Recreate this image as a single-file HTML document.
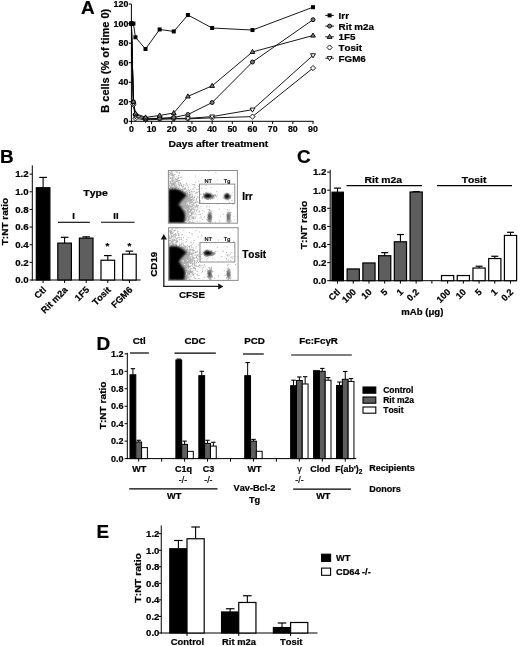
<!DOCTYPE html>
<html><head><meta charset="utf-8"><style>
html,body{margin:0;padding:0;background:#fff;}
svg{display:block;filter:grayscale(100%);}
text{font-family:"Liberation Sans",sans-serif;font-weight:bold;fill:#000;font-kerning:none;stroke:#000;stroke-width:0.22px;}
</style></head><body>
<svg width="520" height="646" viewBox="0 0 520 646">
<rect width="520" height="646" fill="#fff"/>
<text x="81.00" y="13.80" font-size="18.9" text-anchor="start">A</text>
<line x1="131.40" y1="4.06" x2="131.40" y2="121.80" stroke="#000" stroke-width="1"/>
<line x1="130.90" y1="121.30" x2="313.52" y2="121.30" stroke="#000" stroke-width="1"/>
<line x1="128.80" y1="121.30" x2="131.40" y2="121.30" stroke="#000" stroke-width="1"/>
<text x="128.30" y="124.40" font-size="8.8" text-anchor="end">0</text>
<line x1="128.80" y1="101.76" x2="131.40" y2="101.76" stroke="#000" stroke-width="1"/>
<text x="128.30" y="104.86" font-size="8.8" text-anchor="end">20</text>
<line x1="128.80" y1="82.22" x2="131.40" y2="82.22" stroke="#000" stroke-width="1"/>
<text x="128.30" y="85.32" font-size="8.8" text-anchor="end">40</text>
<line x1="128.80" y1="62.68" x2="131.40" y2="62.68" stroke="#000" stroke-width="1"/>
<text x="128.30" y="65.78" font-size="8.8" text-anchor="end">60</text>
<line x1="128.80" y1="43.14" x2="131.40" y2="43.14" stroke="#000" stroke-width="1"/>
<text x="128.30" y="46.24" font-size="8.8" text-anchor="end">80</text>
<line x1="128.80" y1="23.60" x2="131.40" y2="23.60" stroke="#000" stroke-width="1"/>
<text x="128.30" y="26.70" font-size="8.8" text-anchor="end">100</text>
<line x1="128.80" y1="4.06" x2="131.40" y2="4.06" stroke="#000" stroke-width="1"/>
<text x="128.30" y="7.16" font-size="8.8" text-anchor="end">120</text>
<line x1="131.40" y1="121.30" x2="131.40" y2="124.10" stroke="#000" stroke-width="1"/>
<text x="131.40" y="131.90" font-size="8.8" text-anchor="middle">0</text>
<line x1="151.58" y1="121.30" x2="151.58" y2="124.10" stroke="#000" stroke-width="1"/>
<text x="151.58" y="131.90" font-size="8.8" text-anchor="middle">10</text>
<line x1="171.76" y1="121.30" x2="171.76" y2="124.10" stroke="#000" stroke-width="1"/>
<text x="171.76" y="131.90" font-size="8.8" text-anchor="middle">20</text>
<line x1="191.94" y1="121.30" x2="191.94" y2="124.10" stroke="#000" stroke-width="1"/>
<text x="191.94" y="131.90" font-size="8.8" text-anchor="middle">30</text>
<line x1="212.12" y1="121.30" x2="212.12" y2="124.10" stroke="#000" stroke-width="1"/>
<text x="212.12" y="131.90" font-size="8.8" text-anchor="middle">40</text>
<line x1="232.30" y1="121.30" x2="232.30" y2="124.10" stroke="#000" stroke-width="1"/>
<text x="232.30" y="131.90" font-size="8.8" text-anchor="middle">50</text>
<line x1="252.48" y1="121.30" x2="252.48" y2="124.10" stroke="#000" stroke-width="1"/>
<text x="252.48" y="131.90" font-size="8.8" text-anchor="middle">60</text>
<line x1="272.66" y1="121.30" x2="272.66" y2="124.10" stroke="#000" stroke-width="1"/>
<text x="272.66" y="131.90" font-size="8.8" text-anchor="middle">70</text>
<line x1="292.84" y1="121.30" x2="292.84" y2="124.10" stroke="#000" stroke-width="1"/>
<text x="292.84" y="131.90" font-size="8.8" text-anchor="middle">80</text>
<line x1="313.02" y1="121.30" x2="313.02" y2="124.10" stroke="#000" stroke-width="1"/>
<text x="313.02" y="131.90" font-size="8.8" text-anchor="middle">90</text>
<text x="0.00" y="0" font-size="9.5" text-anchor="middle" transform="translate(218.40 147.00) scale(1.085 1)">Days after treatment</text>
<text x="0.00" y="0" font-size="10.2" text-anchor="middle" transform="translate(109.00 60.75) rotate(-90) scale(1.08 1)">B cells (% of time 0)</text>
<polyline points="131.40,23.60 133.42,104.69 135.44,118.37 145.53,119.83 159.65,119.35 173.78,118.86 187.90,118.86 212.12,117.88 252.48,116.61 313.02,68.05" fill="none" stroke="#000" stroke-width="0.9"/>
<polyline points="131.40,23.60 133.42,103.71 135.44,116.41 145.53,119.35 159.65,118.37 173.78,118.37 187.90,118.37 212.12,116.61 252.48,109.67 313.02,55.35" fill="none" stroke="#000" stroke-width="0.9"/>
<polyline points="131.40,23.60 133.42,101.76 135.44,114.46 145.53,118.37 159.65,118.37 173.78,117.39 187.90,114.56 212.12,102.54 252.48,62.00 313.02,19.69" fill="none" stroke="#000" stroke-width="0.9"/>
<polyline points="131.40,23.60 133.42,101.76 135.44,113.48 145.53,117.39 159.65,115.44 173.78,113.00 187.90,96.39 212.12,85.83 252.48,51.93 313.02,35.52" fill="none" stroke="#000" stroke-width="0.9"/>
<polyline points="131.40,23.60 133.42,23.60 135.44,37.28 145.53,49.00 159.65,29.46 173.78,31.42 187.90,15.00 212.12,28.00 252.48,30.05 313.02,7.19" fill="none" stroke="#000" stroke-width="0.9"/>
<polygon points="131.40,21.00 134.00,23.60 131.40,26.20 128.80,23.60" fill="#fff" stroke="#000" stroke-width="0.9"/>
<polygon points="133.42,102.09 136.02,104.69 133.42,107.29 130.82,104.69" fill="#fff" stroke="#000" stroke-width="0.9"/>
<polygon points="135.44,115.77 138.04,118.37 135.44,120.97 132.84,118.37" fill="#fff" stroke="#000" stroke-width="0.9"/>
<polygon points="145.53,117.23 148.13,119.83 145.53,122.43 142.93,119.83" fill="#fff" stroke="#000" stroke-width="0.9"/>
<polygon points="159.65,116.75 162.25,119.35 159.65,121.95 157.05,119.35" fill="#fff" stroke="#000" stroke-width="0.9"/>
<polygon points="173.78,116.26 176.38,118.86 173.78,121.46 171.18,118.86" fill="#fff" stroke="#000" stroke-width="0.9"/>
<polygon points="187.90,116.26 190.50,118.86 187.90,121.46 185.30,118.86" fill="#fff" stroke="#000" stroke-width="0.9"/>
<polygon points="212.12,115.28 214.72,117.88 212.12,120.48 209.52,117.88" fill="#fff" stroke="#000" stroke-width="0.9"/>
<polygon points="252.48,114.01 255.08,116.61 252.48,119.21 249.88,116.61" fill="#fff" stroke="#000" stroke-width="0.9"/>
<polygon points="313.02,65.45 315.62,68.05 313.02,70.65 310.42,68.05" fill="#fff" stroke="#000" stroke-width="0.9"/>
<polygon points="129.00,22.00 133.80,22.00 131.40,26.10" fill="#fff" stroke="#000" stroke-width="0.9"/>
<polygon points="131.02,102.11 135.82,102.11 133.42,106.21" fill="#fff" stroke="#000" stroke-width="0.9"/>
<polygon points="133.04,114.81 137.84,114.81 135.44,118.91" fill="#fff" stroke="#000" stroke-width="0.9"/>
<polygon points="143.13,117.75 147.93,117.75 145.53,121.85" fill="#fff" stroke="#000" stroke-width="0.9"/>
<polygon points="157.25,116.77 162.05,116.77 159.65,120.87" fill="#fff" stroke="#000" stroke-width="0.9"/>
<polygon points="171.38,116.77 176.18,116.77 173.78,120.87" fill="#fff" stroke="#000" stroke-width="0.9"/>
<polygon points="185.50,116.77 190.30,116.77 187.90,120.87" fill="#fff" stroke="#000" stroke-width="0.9"/>
<polygon points="209.72,115.01 214.52,115.01 212.12,119.11" fill="#fff" stroke="#000" stroke-width="0.9"/>
<polygon points="250.08,108.07 254.88,108.07 252.48,112.17" fill="#fff" stroke="#000" stroke-width="0.9"/>
<polygon points="310.62,53.75 315.42,53.75 313.02,57.85" fill="#fff" stroke="#000" stroke-width="0.9"/>
<circle cx="131.40" cy="23.60" r="2.0" fill="#777" stroke="#000" stroke-width="0.9"/>
<circle cx="133.42" cy="101.76" r="2.0" fill="#777" stroke="#000" stroke-width="0.9"/>
<circle cx="135.44" cy="114.46" r="2.0" fill="#777" stroke="#000" stroke-width="0.9"/>
<circle cx="145.53" cy="118.37" r="2.0" fill="#777" stroke="#000" stroke-width="0.9"/>
<circle cx="159.65" cy="118.37" r="2.0" fill="#777" stroke="#000" stroke-width="0.9"/>
<circle cx="173.78" cy="117.39" r="2.0" fill="#777" stroke="#000" stroke-width="0.9"/>
<circle cx="187.90" cy="114.56" r="2.0" fill="#777" stroke="#000" stroke-width="0.9"/>
<circle cx="212.12" cy="102.54" r="2.0" fill="#777" stroke="#000" stroke-width="0.9"/>
<circle cx="252.48" cy="62.00" r="2.0" fill="#777" stroke="#000" stroke-width="0.9"/>
<circle cx="313.02" cy="19.69" r="2.0" fill="#777" stroke="#000" stroke-width="0.9"/>
<polygon points="131.40,21.10 133.80,25.20 129.00,25.20" fill="#777" stroke="#000" stroke-width="0.9"/>
<polygon points="133.42,99.26 135.82,103.36 131.02,103.36" fill="#777" stroke="#000" stroke-width="0.9"/>
<polygon points="135.44,110.98 137.84,115.08 133.04,115.08" fill="#777" stroke="#000" stroke-width="0.9"/>
<polygon points="145.53,114.89 147.93,118.99 143.13,118.99" fill="#777" stroke="#000" stroke-width="0.9"/>
<polygon points="159.65,112.94 162.05,117.04 157.25,117.04" fill="#777" stroke="#000" stroke-width="0.9"/>
<polygon points="173.78,110.50 176.18,114.60 171.38,114.60" fill="#777" stroke="#000" stroke-width="0.9"/>
<polygon points="187.90,93.89 190.30,97.99 185.50,97.99" fill="#777" stroke="#000" stroke-width="0.9"/>
<polygon points="212.12,83.33 214.52,87.43 209.72,87.43" fill="#777" stroke="#000" stroke-width="0.9"/>
<polygon points="252.48,49.43 254.88,53.53 250.08,53.53" fill="#777" stroke="#000" stroke-width="0.9"/>
<polygon points="313.02,33.02 315.42,37.12 310.62,37.12" fill="#777" stroke="#000" stroke-width="0.9"/>
<rect x="129.40" y="21.60" width="4.00" height="4.00" fill="#000"/>
<rect x="131.42" y="21.60" width="4.00" height="4.00" fill="#000"/>
<rect x="133.44" y="35.28" width="4.00" height="4.00" fill="#000"/>
<rect x="143.53" y="47.00" width="4.00" height="4.00" fill="#000"/>
<rect x="157.65" y="27.46" width="4.00" height="4.00" fill="#000"/>
<rect x="171.78" y="29.42" width="4.00" height="4.00" fill="#000"/>
<rect x="185.90" y="13.00" width="4.00" height="4.00" fill="#000"/>
<rect x="210.12" y="26.00" width="4.00" height="4.00" fill="#000"/>
<rect x="250.48" y="28.05" width="4.00" height="4.00" fill="#000"/>
<rect x="311.02" y="5.19" width="4.00" height="4.00" fill="#000"/>
<line x1="325.30" y1="15.40" x2="333.90" y2="15.40" stroke="#000" stroke-width="0.9"/>
<rect x="327.60" y="13.40" width="4.00" height="4.00" fill="#000"/>
<text x="338.60" y="18.80" font-size="9.8" text-anchor="start">Irr</text>
<line x1="325.30" y1="26.10" x2="333.90" y2="26.10" stroke="#000" stroke-width="0.9"/>
<circle cx="329.60" cy="26.10" r="2.0" fill="#777" stroke="#000" stroke-width="0.9"/>
<text x="338.60" y="29.50" font-size="9.8" text-anchor="start">Rit m2a</text>
<line x1="325.30" y1="36.80" x2="333.90" y2="36.80" stroke="#000" stroke-width="0.9"/>
<polygon points="329.60,34.30 332.00,38.40 327.20,38.40" fill="#777" stroke="#000" stroke-width="0.9"/>
<text x="338.60" y="40.20" font-size="9.8" text-anchor="start">1F5</text>
<polygon points="329.60,44.90 332.20,47.50 329.60,50.10 327.00,47.50" fill="#fff" stroke="#000" stroke-width="0.9"/>
<text x="338.60" y="50.90" font-size="9.8" text-anchor="start">Tosit</text>
<line x1="325.30" y1="58.20" x2="333.90" y2="58.20" stroke="#000" stroke-width="0.9"/>
<polygon points="327.20,56.60 332.00,56.60 329.60,60.70" fill="#fff" stroke="#000" stroke-width="0.9"/>
<text x="338.60" y="61.60" font-size="9.8" text-anchor="start">FGM6</text>
<text x="0.00" y="162.90" font-size="18.9" text-anchor="start">B</text>
<line x1="32.30" y1="165.40" x2="32.30" y2="280.50" stroke="#000" stroke-width="1"/>
<line x1="31.80" y1="280.00" x2="140.60" y2="280.00" stroke="#000" stroke-width="1"/>
<line x1="29.60" y1="280.00" x2="32.30" y2="280.00" stroke="#000" stroke-width="1"/>
<text x="28.60" y="283.30" font-size="9.7" text-anchor="end">0.0</text>
<line x1="29.60" y1="262.36" x2="32.30" y2="262.36" stroke="#000" stroke-width="1"/>
<text x="28.60" y="265.66" font-size="9.7" text-anchor="end">0.2</text>
<line x1="29.60" y1="244.72" x2="32.30" y2="244.72" stroke="#000" stroke-width="1"/>
<text x="28.60" y="248.02" font-size="9.7" text-anchor="end">0.4</text>
<line x1="29.60" y1="227.08" x2="32.30" y2="227.08" stroke="#000" stroke-width="1"/>
<text x="28.60" y="230.38" font-size="9.7" text-anchor="end">0.6</text>
<line x1="29.60" y1="209.44" x2="32.30" y2="209.44" stroke="#000" stroke-width="1"/>
<text x="28.60" y="212.74" font-size="9.7" text-anchor="end">0.8</text>
<line x1="29.60" y1="191.80" x2="32.30" y2="191.80" stroke="#000" stroke-width="1"/>
<text x="28.60" y="195.10" font-size="9.7" text-anchor="end">1.0</text>
<line x1="29.60" y1="174.16" x2="32.30" y2="174.16" stroke="#000" stroke-width="1"/>
<text x="28.60" y="177.46" font-size="9.7" text-anchor="end">1.2</text>
<text x="0.00" y="0" font-size="9.2" text-anchor="middle" transform="translate(7.60 221.60) rotate(-90) scale(1.09 1)">T:NT ratio</text>
<line x1="43.10" y1="187.74" x2="43.10" y2="177.42" stroke="#000" stroke-width="1.1"/>
<line x1="39.30" y1="177.42" x2="46.90" y2="177.42" stroke="#000" stroke-width="1.2"/>
<rect x="36.30" y="187.74" width="13.60" height="92.26" fill="#000" stroke="#000" stroke-width="1.2"/>
<line x1="43.10" y1="280.00" x2="43.10" y2="283.00" stroke="#000" stroke-width="1"/>
<line x1="64.60" y1="243.13" x2="64.60" y2="237.31" stroke="#000" stroke-width="1.1"/>
<line x1="60.80" y1="237.31" x2="68.40" y2="237.31" stroke="#000" stroke-width="1.2"/>
<rect x="57.80" y="243.13" width="13.60" height="36.87" fill="#5e5e5e" stroke="#000" stroke-width="1.2"/>
<line x1="64.60" y1="280.00" x2="64.60" y2="283.00" stroke="#000" stroke-width="1"/>
<line x1="86.20" y1="238.11" x2="86.20" y2="236.87" stroke="#000" stroke-width="1.1"/>
<line x1="82.40" y1="236.87" x2="90.00" y2="236.87" stroke="#000" stroke-width="1.2"/>
<rect x="79.40" y="238.11" width="13.60" height="41.89" fill="#5e5e5e" stroke="#000" stroke-width="1.2"/>
<line x1="86.20" y1="280.00" x2="86.20" y2="283.00" stroke="#000" stroke-width="1"/>
<line x1="107.80" y1="260.24" x2="107.80" y2="255.57" stroke="#000" stroke-width="1.1"/>
<line x1="104.00" y1="255.57" x2="111.60" y2="255.57" stroke="#000" stroke-width="1.2"/>
<rect x="101.00" y="260.24" width="13.60" height="19.76" fill="#fff" stroke="#000" stroke-width="1.2"/>
<line x1="107.80" y1="280.00" x2="107.80" y2="283.00" stroke="#000" stroke-width="1"/>
<line x1="129.40" y1="254.16" x2="129.40" y2="251.16" stroke="#000" stroke-width="1.1"/>
<line x1="125.60" y1="251.16" x2="133.20" y2="251.16" stroke="#000" stroke-width="1.2"/>
<rect x="122.60" y="254.16" width="13.60" height="25.84" fill="#fff" stroke="#000" stroke-width="1.2"/>
<line x1="129.40" y1="280.00" x2="129.40" y2="283.00" stroke="#000" stroke-width="1"/>
<text x="0.00" y="0" font-size="9.2" text-anchor="end" transform="translate(46.70 290.50) rotate(-45)">Ctl</text>
<text x="0.00" y="0" font-size="9.2" text-anchor="end" transform="translate(68.20 290.50) rotate(-45)">Rit m2a</text>
<text x="0.00" y="0" font-size="9.2" text-anchor="end" transform="translate(89.80 290.50) rotate(-45)">1F5</text>
<text x="0.00" y="0" font-size="9.2" text-anchor="end" transform="translate(111.40 290.50) rotate(-45)">Tosit</text>
<text x="0.00" y="0" font-size="9.2" text-anchor="end" transform="translate(133.00 290.50) rotate(-45)">FGM6</text>
<text x="0.00" y="0" font-size="9.4" text-anchor="middle" transform="translate(95.60 195.80) scale(1.12 1)">Type</text>
<text x="73.60" y="218.60" font-size="9.5" text-anchor="middle">I</text>
<line x1="58.00" y1="222.30" x2="89.80" y2="222.30" stroke="#000" stroke-width="1.1"/>
<text x="116.00" y="218.60" font-size="9.5" text-anchor="middle">II</text>
<line x1="101.00" y1="222.30" x2="134.60" y2="222.30" stroke="#000" stroke-width="1.1"/>
<text x="107.40" y="249.40" font-size="9.8" text-anchor="middle">*</text>
<text x="129.30" y="249.40" font-size="9.8" text-anchor="middle">*</text>
<defs><filter id="bl1" x="-20%" y="-20%" width="140%" height="140%"><feGaussianBlur stdDeviation="0.9"/></filter><filter id="bl2" x="-20%" y="-20%" width="140%" height="140%"><feGaussianBlur stdDeviation="0.3"/></filter></defs>
<clipPath id="cp170"><rect x="168.4" y="170.5" width="69.0" height="52.69999999999999"/></clipPath>
<g clip-path="url(#cp170)">
<g filter="url(#bl1)">
<polygon points="168.4,189.3 173.0,188.7 177.0,189.0 180.5,190.6 184.0,192.8 186.8,195.2 184.5,197.5 182.0,200.2 180.0,202.8 178.8,204.5 168.4,205.5" fill="#000"/>
<polygon points="168.4,204.5 178.5,204.3 180.5,206.2 182.0,208.8 184.5,212.0 185.2,216.0 184.8,220.0 184.3,223.2 168.4,223.2" fill="#000"/>
</g>
<g filter="url(#bl1)"><ellipse cx="207.6" cy="195.8" rx="3.6" ry="2.3" fill="#000"/><ellipse cx="211.5" cy="196.2" rx="2.5" ry="1.3" fill="#000" fill-opacity="0.5"/>
<ellipse cx="227.0" cy="196.2" rx="2.6" ry="2.5" fill="#000"/>
<ellipse cx="209.5" cy="216.8" rx="1.3" ry="3.6" fill="#000" fill-opacity="0.7"/><ellipse cx="228.3" cy="216.8" rx="1.1" ry="3.6" fill="#000" fill-opacity="0.65"/>
</g>
<path d="M177.2 199.6h.9v.9h-.9zM177.4 195.4h.9v.9h-.9zM172.5 195.9h.9v.9h-.9zM186.8 199.1h.9v.9h-.9zM186.3 198.2h.9v.9h-.9zM181.8 197.9h.9v.9h-.9zM167.3 201.3h.9v.9h-.9zM182.5 199.5h.9v.9h-.9zM167.2 188.3h.9v.9h-.9zM172.8 194.7h.9v.9h-.9zM181.1 196.8h.9v.9h-.9zM182.6 193.8h.9v.9h-.9zM181.2 199.0h.9v.9h-.9zM174.4 205.6h.9v.9h-.9zM182.9 203.0h.9v.9h-.9zM174.7 193.3h.9v.9h-.9zM176.6 196.5h.9v.9h-.9zM183.4 198.2h.9v.9h-.9zM175.9 192.2h.9v.9h-.9zM175.4 203.1h.9v.9h-.9zM173.3 198.2h.9v.9h-.9zM182.0 189.6h.9v.9h-.9zM179.3 203.5h.9v.9h-.9zM164.9 195.4h.9v.9h-.9zM178.3 192.9h.9v.9h-.9zM182.5 196.7h.9v.9h-.9zM168.7 201.1h.9v.9h-.9zM183.7 201.7h.9v.9h-.9zM189.1 198.8h.9v.9h-.9zM179.8 190.5h.9v.9h-.9zM183.3 193.9h.9v.9h-.9zM175.8 190.7h.9v.9h-.9zM172.2 194.3h.9v.9h-.9zM188.0 186.8h.9v.9h-.9zM168.8 198.2h.9v.9h-.9zM189.1 199.9h.9v.9h-.9zM165.7 184.4h.9v.9h-.9zM181.5 193.3h.9v.9h-.9zM171.2 201.9h.9v.9h-.9zM186.7 197.8h.9v.9h-.9zM180.7 199.2h.9v.9h-.9zM190.2 200.1h.9v.9h-.9zM182.6 199.7h.9v.9h-.9zM168.0 203.4h.9v.9h-.9zM185.7 199.6h.9v.9h-.9zM165.2 193.8h.9v.9h-.9zM184.9 187.9h.9v.9h-.9zM177.7 202.1h.9v.9h-.9zM169.8 205.1h.9v.9h-.9zM182.9 196.2h.9v.9h-.9zM181.3 200.2h.9v.9h-.9zM179.8 202.7h.9v.9h-.9zM174.4 194.9h.9v.9h-.9zM186.3 197.1h.9v.9h-.9zM172.8 201.7h.9v.9h-.9zM189.3 194.8h.9v.9h-.9zM169.3 196.3h.9v.9h-.9zM178.0 195.5h.9v.9h-.9zM188.8 191.9h.9v.9h-.9zM187.8 190.7h.9v.9h-.9zM173.5 200.2h.9v.9h-.9zM186.9 201.3h.9v.9h-.9zM181.4 197.7h.9v.9h-.9zM180.1 199.9h.9v.9h-.9zM177.8 198.4h.9v.9h-.9zM183.0 197.0h.9v.9h-.9zM184.3 199.8h.9v.9h-.9zM193.1 198.6h.9v.9h-.9zM176.0 195.1h.9v.9h-.9zM178.9 201.6h.9v.9h-.9zM176.6 198.9h.9v.9h-.9zM191.9 184.2h.9v.9h-.9zM171.1 198.2h.9v.9h-.9zM181.8 198.2h.9v.9h-.9zM176.0 200.3h.9v.9h-.9zM181.0 194.4h.9v.9h-.9zM196.0 198.8h.9v.9h-.9zM175.1 196.5h.9v.9h-.9zM177.4 196.7h.9v.9h-.9zM159.9 194.6h.9v.9h-.9zM186.1 191.2h.9v.9h-.9zM178.5 201.8h.9v.9h-.9zM185.0 204.5h.9v.9h-.9zM167.1 195.2h.9v.9h-.9zM176.6 200.1h.9v.9h-.9zM186.6 183.6h.9v.9h-.9zM186.6 189.8h.9v.9h-.9zM183.8 189.5h.9v.9h-.9zM180.2 203.0h.9v.9h-.9zM178.0 198.0h.9v.9h-.9zM184.6 197.7h.9v.9h-.9zM178.4 204.7h.9v.9h-.9zM186.3 195.5h.9v.9h-.9zM198.2 191.3h.9v.9h-.9zM185.4 195.7h.9v.9h-.9zM179.9 200.5h.9v.9h-.9zM180.6 200.2h.9v.9h-.9zM168.3 189.5h.9v.9h-.9zM183.3 192.2h.9v.9h-.9zM171.8 189.6h.9v.9h-.9zM187.9 200.7h.9v.9h-.9zM189.3 192.3h.9v.9h-.9zM179.0 191.3h.9v.9h-.9zM184.4 204.9h.9v.9h-.9zM172.8 204.8h.9v.9h-.9zM185.9 196.1h.9v.9h-.9zM165.2 204.0h.9v.9h-.9zM178.3 194.0h.9v.9h-.9zM181.8 199.0h.9v.9h-.9zM189.5 191.9h.9v.9h-.9zM187.0 204.4h.9v.9h-.9zM189.2 196.1h.9v.9h-.9zM173.8 202.1h.9v.9h-.9zM179.8 197.6h.9v.9h-.9zM189.0 195.7h.9v.9h-.9zM162.9 195.1h.9v.9h-.9zM166.0 201.1h.9v.9h-.9zM181.2 193.9h.9v.9h-.9zM178.9 201.2h.9v.9h-.9zM179.6 203.6h.9v.9h-.9zM178.6 202.2h.9v.9h-.9zM189.4 205.0h.9v.9h-.9zM174.3 201.4h.9v.9h-.9zM165.9 191.6h.9v.9h-.9zM165.3 202.3h.9v.9h-.9zM170.4 196.9h.9v.9h-.9zM177.7 196.9h.9v.9h-.9zM174.9 198.2h.9v.9h-.9zM191.5 197.2h.9v.9h-.9zM182.7 202.0h.9v.9h-.9zM177.6 190.7h.9v.9h-.9zM175.1 202.4h.9v.9h-.9zM167.5 194.0h.9v.9h-.9zM186.1 201.0h.9v.9h-.9zM179.1 201.0h.9v.9h-.9zM180.2 191.1h.9v.9h-.9zM168.1 193.8h.9v.9h-.9zM185.5 194.2h.9v.9h-.9zM172.7 193.1h.9v.9h-.9zM168.3 196.4h.9v.9h-.9zM170.7 198.8h.9v.9h-.9zM162.5 198.6h.9v.9h-.9zM174.5 187.3h.9v.9h-.9zM184.1 195.6h.9v.9h-.9zM163.4 192.6h.9v.9h-.9zM181.0 194.7h.9v.9h-.9zM184.5 200.7h.9v.9h-.9zM183.7 198.6h.9v.9h-.9zM188.3 200.3h.9v.9h-.9zM182.2 186.6h.9v.9h-.9zM185.3 203.5h.9v.9h-.9zM176.9 194.7h.9v.9h-.9zM192.6 188.2h.9v.9h-.9zM182.3 209.1h.9v.9h-.9zM172.5 200.4h.9v.9h-.9zM192.2 196.4h.9v.9h-.9zM182.9 201.5h.9v.9h-.9zM172.7 196.6h.9v.9h-.9zM181.0 201.1h.9v.9h-.9zM178.8 196.0h.9v.9h-.9zM171.9 195.2h.9v.9h-.9zM185.2 197.5h.9v.9h-.9zM173.0 192.8h.9v.9h-.9zM197.7 202.7h.9v.9h-.9zM183.5 184.0h.9v.9h-.9zM183.4 199.4h.9v.9h-.9zM190.8 199.1h.9v.9h-.9zM178.5 199.6h.9v.9h-.9zM165.4 202.2h.9v.9h-.9zM181.3 193.5h.9v.9h-.9zM188.3 206.0h.9v.9h-.9zM169.2 193.7h.9v.9h-.9zM181.0 197.9h.9v.9h-.9zM176.2 192.1h.9v.9h-.9zM193.8 202.2h.9v.9h-.9zM170.6 190.3h.9v.9h-.9zM190.9 201.9h.9v.9h-.9zM191.7 201.1h.9v.9h-.9zM172.9 198.3h.9v.9h-.9zM163.9 193.3h.9v.9h-.9zM178.6 199.6h.9v.9h-.9zM173.9 196.4h.9v.9h-.9zM182.2 198.9h.9v.9h-.9zM183.5 198.0h.9v.9h-.9zM176.7 200.9h.9v.9h-.9zM179.3 192.9h.9v.9h-.9zM174.6 197.0h.9v.9h-.9zM178.2 197.8h.9v.9h-.9zM179.0 197.9h.9v.9h-.9zM178.1 190.7h.9v.9h-.9zM181.9 202.3h.9v.9h-.9zM182.0 196.1h.9v.9h-.9zM182.1 192.2h.9v.9h-.9zM165.7 197.3h.9v.9h-.9zM172.5 200.7h.9v.9h-.9zM171.4 183.9h.9v.9h-.9zM171.7 204.9h.9v.9h-.9zM176.3 190.2h.9v.9h-.9zM173.7 199.6h.9v.9h-.9zM182.5 197.9h.9v.9h-.9zM189.4 200.5h.9v.9h-.9zM178.9 200.0h.9v.9h-.9zM190.6 201.9h.9v.9h-.9zM186.2 191.6h.9v.9h-.9zM178.0 200.6h.9v.9h-.9zM176.9 202.3h.9v.9h-.9zM183.2 201.5h.9v.9h-.9zM177.5 209.7h.9v.9h-.9zM187.7 195.9h.9v.9h-.9zM179.6 210.0h.9v.9h-.9zM176.6 201.4h.9v.9h-.9zM185.9 197.0h.9v.9h-.9zM170.8 197.9h.9v.9h-.9zM181.5 202.6h.9v.9h-.9zM184.5 197.1h.9v.9h-.9zM185.0 199.7h.9v.9h-.9zM180.4 197.3h.9v.9h-.9zM177.3 200.4h.9v.9h-.9zM171.6 193.9h.9v.9h-.9zM179.0 189.7h.9v.9h-.9zM175.9 187.0h.9v.9h-.9zM174.2 199.8h.9v.9h-.9zM183.0 196.7h.9v.9h-.9zM177.4 189.9h.9v.9h-.9zM191.8 199.6h.9v.9h-.9zM186.7 192.6h.9v.9h-.9zM177.7 187.9h.9v.9h-.9zM184.5 201.7h.9v.9h-.9zM165.7 196.7h.9v.9h-.9zM183.4 188.2h.9v.9h-.9zM166.2 191.7h.9v.9h-.9zM174.6 190.0h.9v.9h-.9zM179.2 198.2h.9v.9h-.9zM183.4 200.5h.9v.9h-.9zM189.5 202.8h.9v.9h-.9zM169.8 194.5h.9v.9h-.9zM171.6 191.6h.9v.9h-.9zM178.4 197.0h.9v.9h-.9zM182.4 189.1h.9v.9h-.9zM170.3 196.9h.9v.9h-.9zM177.6 195.4h.9v.9h-.9zM178.6 193.2h.9v.9h-.9zM183.9 198.8h.9v.9h-.9zM178.4 193.6h.9v.9h-.9zM177.8 183.4h.9v.9h-.9zM172.1 197.2h.9v.9h-.9zM168.5 198.0h.9v.9h-.9zM180.0 190.1h.9v.9h-.9zM177.2 195.4h.9v.9h-.9zM182.2 200.1h.9v.9h-.9zM178.7 192.7h.9v.9h-.9zM178.0 196.7h.9v.9h-.9zM184.1 198.5h.9v.9h-.9zM173.9 190.2h.9v.9h-.9zM176.4 193.3h.9v.9h-.9zM171.2 196.4h.9v.9h-.9zM175.6 197.5h.9v.9h-.9zM182.7 194.9h.9v.9h-.9zM195.3 195.4h.9v.9h-.9zM186.7 197.6h.9v.9h-.9zM186.8 185.1h.9v.9h-.9zM173.7 198.2h.9v.9h-.9zM183.2 208.7h.9v.9h-.9zM181.3 203.4h.9v.9h-.9zM184.4 201.7h.9v.9h-.9zM182.6 196.2h.9v.9h-.9zM182.6 191.6h.9v.9h-.9zM187.3 191.9h.9v.9h-.9zM180.7 207.6h.9v.9h-.9zM177.4 197.1h.9v.9h-.9zM187.1 197.1h.9v.9h-.9zM173.3 198.3h.9v.9h-.9zM183.1 200.6h.9v.9h-.9zM173.6 205.8h.9v.9h-.9zM190.7 197.1h.9v.9h-.9zM180.9 194.9h.9v.9h-.9zM188.9 193.5h.9v.9h-.9zM183.7 194.6h.9v.9h-.9zM174.1 200.6h.9v.9h-.9zM188.3 196.9h.9v.9h-.9zM174.3 201.1h.9v.9h-.9zM178.7 198.6h.9v.9h-.9zM189.7 202.7h.9v.9h-.9zM175.4 208.4h.9v.9h-.9zM179.0 200.9h.9v.9h-.9zM174.5 196.8h.9v.9h-.9zM166.8 205.9h.9v.9h-.9zM188.6 190.9h.9v.9h-.9zM168.5 188.9h.9v.9h-.9zM187.2 194.7h.9v.9h-.9zM178.6 195.4h.9v.9h-.9zM178.2 191.6h.9v.9h-.9zM179.2 189.8h.9v.9h-.9zM178.5 198.5h.9v.9h-.9zM182.3 195.8h.9v.9h-.9zM172.7 197.8h.9v.9h-.9zM175.6 204.8h.9v.9h-.9zM184.4 196.4h.9v.9h-.9zM175.7 193.5h.9v.9h-.9zM172.4 195.2h.9v.9h-.9zM181.1 199.6h.9v.9h-.9zM183.0 207.5h.9v.9h-.9zM174.1 197.1h.9v.9h-.9zM198.6 187.7h.9v.9h-.9zM175.3 197.8h.9v.9h-.9zM180.1 199.0h.9v.9h-.9zM177.3 198.8h.9v.9h-.9zM179.4 200.9h.9v.9h-.9zM165.8 192.6h.9v.9h-.9zM179.0 191.8h.9v.9h-.9zM171.7 200.1h.9v.9h-.9zM174.5 200.2h.9v.9h-.9zM184.2 198.5h.9v.9h-.9zM182.6 196.5h.9v.9h-.9zM169.1 196.8h.9v.9h-.9zM182.2 194.4h.9v.9h-.9zM178.3 200.7h.9v.9h-.9zM172.9 200.2h.9v.9h-.9zM192.0 194.2h.9v.9h-.9zM180.0 196.2h.9v.9h-.9zM189.8 198.6h.9v.9h-.9zM185.3 193.5h.9v.9h-.9zM178.9 197.0h.9v.9h-.9zM166.6 204.2h.9v.9h-.9zM185.3 188.3h.9v.9h-.9zM184.2 196.3h.9v.9h-.9zM182.1 198.8h.9v.9h-.9zM168.5 195.9h.9v.9h-.9zM189.4 194.1h.9v.9h-.9zM171.8 190.2h.9v.9h-.9zM170.5 198.7h.9v.9h-.9zM190.8 199.1h.9v.9h-.9zM180.7 208.2h.9v.9h-.9zM175.4 193.6h.9v.9h-.9zM182.7 199.7h.9v.9h-.9zM171.9 191.2h.9v.9h-.9zM181.0 198.2h.9v.9h-.9zM169.9 196.0h.9v.9h-.9zM175.2 199.3h.9v.9h-.9zM178.2 196.6h.9v.9h-.9zM176.5 202.3h.9v.9h-.9zM188.7 195.2h.9v.9h-.9zM184.9 193.2h.9v.9h-.9zM179.5 200.7h.9v.9h-.9zM189.6 195.1h.9v.9h-.9zM178.5 198.0h.9v.9h-.9zM168.5 197.1h.9v.9h-.9zM174.3 198.9h.9v.9h-.9zM171.1 187.1h.9v.9h-.9zM179.3 198.3h.9v.9h-.9zM175.2 201.4h.9v.9h-.9zM177.1 194.0h.9v.9h-.9zM182.3 189.2h.9v.9h-.9zM174.3 196.9h.9v.9h-.9zM184.9 196.2h.9v.9h-.9zM181.2 193.7h.9v.9h-.9zM181.1 205.3h.9v.9h-.9zM174.2 208.8h.9v.9h-.9zM174.5 197.1h.9v.9h-.9zM180.2 202.1h.9v.9h-.9zM170.3 186.5h.9v.9h-.9zM183.2 201.0h.9v.9h-.9zM183.4 210.2h.9v.9h-.9zM180.4 198.3h.9v.9h-.9zM185.5 198.8h.9v.9h-.9zM190.6 190.8h.9v.9h-.9zM176.4 179.8h.9v.9h-.9zM184.7 195.1h.9v.9h-.9zM185.5 207.8h.9v.9h-.9zM179.0 195.7h.9v.9h-.9zM175.5 192.8h.9v.9h-.9zM174.6 200.2h.9v.9h-.9zM179.3 197.3h.9v.9h-.9zM177.8 201.6h.9v.9h-.9zM182.5 196.3h.9v.9h-.9zM183.7 196.2h.9v.9h-.9zM170.9 204.3h.9v.9h-.9zM182.3 192.2h.9v.9h-.9zM186.6 198.7h.9v.9h-.9zM168.0 205.0h.9v.9h-.9zM181.3 201.5h.9v.9h-.9zM180.4 196.3h.9v.9h-.9zM168.2 201.9h.9v.9h-.9zM179.2 195.6h.9v.9h-.9zM181.5 197.4h.9v.9h-.9zM183.7 195.1h.9v.9h-.9zM178.7 186.3h.9v.9h-.9zM176.0 200.4h.9v.9h-.9zM188.4 195.2h.9v.9h-.9zM178.2 204.9h.9v.9h-.9zM176.7 200.7h.9v.9h-.9zM190.7 197.2h.9v.9h-.9zM187.6 193.4h.9v.9h-.9zM180.5 196.6h.9v.9h-.9zM179.8 202.6h.9v.9h-.9zM195.7 193.7h.9v.9h-.9zM175.0 199.5h.9v.9h-.9zM171.6 199.5h.9v.9h-.9zM183.0 195.6h.9v.9h-.9zM182.7 189.3h.9v.9h-.9zM184.3 189.3h.9v.9h-.9zM174.1 194.2h.9v.9h-.9zM176.2 201.3h.9v.9h-.9zM179.6 195.0h.9v.9h-.9zM182.8 204.9h.9v.9h-.9zM179.0 198.8h.9v.9h-.9zM187.7 198.3h.9v.9h-.9zM170.0 209.5h.9v.9h-.9zM194.5 187.1h.9v.9h-.9zM178.7 199.1h.9v.9h-.9zM185.8 200.3h.9v.9h-.9zM177.1 191.7h.9v.9h-.9zM179.7 202.2h.9v.9h-.9zM171.4 191.9h.9v.9h-.9zM178.8 187.3h.9v.9h-.9zM177.2 194.8h.9v.9h-.9zM182.2 193.5h.9v.9h-.9zM172.8 195.0h.9v.9h-.9zM178.7 193.7h.9v.9h-.9zM179.1 200.8h.9v.9h-.9zM187.3 205.5h.9v.9h-.9zM173.5 194.9h.9v.9h-.9zM161.6 206.5h.9v.9h-.9zM173.9 196.8h.9v.9h-.9zM182.7 190.2h.9v.9h-.9zM182.2 196.9h.9v.9h-.9zM166.2 198.5h.9v.9h-.9zM187.4 187.7h.9v.9h-.9zM184.7 198.0h.9v.9h-.9zM182.3 199.2h.9v.9h-.9zM188.1 195.9h.9v.9h-.9zM185.1 195.0h.9v.9h-.9zM184.1 192.9h.9v.9h-.9zM178.2 205.7h.9v.9h-.9zM182.1 196.2h.9v.9h-.9zM171.0 193.0h.9v.9h-.9zM180.4 201.7h.9v.9h-.9zM182.0 199.6h.9v.9h-.9zM178.7 203.8h.9v.9h-.9zM176.3 194.3h.9v.9h-.9zM185.2 197.3h.9v.9h-.9zM177.1 194.1h.9v.9h-.9zM177.2 200.1h.9v.9h-.9zM181.5 191.0h.9v.9h-.9zM182.0 197.9h.9v.9h-.9zM172.0 200.9h.9v.9h-.9zM177.0 195.3h.9v.9h-.9zM184.6 203.6h.9v.9h-.9zM174.2 199.2h.9v.9h-.9zM172.9 208.6h.9v.9h-.9zM175.5 203.0h.9v.9h-.9zM174.5 201.1h.9v.9h-.9zM194.5 184.3h.9v.9h-.9zM176.0 199.5h.9v.9h-.9zM178.3 193.7h.9v.9h-.9zM194.1 197.4h.9v.9h-.9zM167.5 201.3h.9v.9h-.9zM166.9 202.8h.9v.9h-.9zM175.0 197.7h.9v.9h-.9zM187.8 197.6h.9v.9h-.9zM169.3 188.5h.9v.9h-.9zM187.3 200.7h.9v.9h-.9zM173.3 201.3h.9v.9h-.9zM182.5 200.2h.9v.9h-.9zM163.2 195.5h.9v.9h-.9zM185.3 200.7h.9v.9h-.9zM185.2 184.7h.9v.9h-.9zM180.2 199.5h.9v.9h-.9zM196.9 192.2h.9v.9h-.9zM176.7 197.2h.9v.9h-.9zM185.2 194.8h.9v.9h-.9zM187.0 193.1h.9v.9h-.9zM180.9 194.4h.9v.9h-.9zM180.1 193.5h.9v.9h-.9zM167.8 202.5h.9v.9h-.9zM181.1 194.2h.9v.9h-.9zM180.4 202.0h.9v.9h-.9zM172.2 196.4h.9v.9h-.9zM182.8 199.6h.9v.9h-.9zM176.7 186.5h.9v.9h-.9zM187.7 198.6h.9v.9h-.9zM179.1 195.6h.9v.9h-.9zM180.8 194.9h.9v.9h-.9zM171.8 193.3h.9v.9h-.9zM174.8 193.9h.9v.9h-.9zM170.9 200.2h.9v.9h-.9zM169.8 200.3h.9v.9h-.9zM171.9 198.8h.9v.9h-.9zM188.6 198.0h.9v.9h-.9zM173.9 197.2h.9v.9h-.9zM180.0 188.3h.9v.9h-.9zM174.7 197.8h.9v.9h-.9zM175.7 197.4h.9v.9h-.9zM184.1 200.8h.9v.9h-.9zM185.3 199.9h.9v.9h-.9zM177.0 196.9h.9v.9h-.9zM177.1 195.4h.9v.9h-.9zM177.7 188.4h.9v.9h-.9zM176.7 196.9h.9v.9h-.9zM172.2 196.9h.9v.9h-.9zM182.6 196.2h.9v.9h-.9zM193.5 184.0h.9v.9h-.9zM177.6 187.9h.9v.9h-.9zM185.9 210.3h.9v.9h-.9zM161.5 197.6h.9v.9h-.9zM182.6 195.5h.9v.9h-.9zM182.9 185.8h.9v.9h-.9zM185.0 198.9h.9v.9h-.9zM179.2 194.1h.9v.9h-.9zM183.5 194.6h.9v.9h-.9zM180.6 194.4h.9v.9h-.9zM163.3 196.8h.9v.9h-.9zM180.4 200.8h.9v.9h-.9zM172.9 196.8h.9v.9h-.9zM183.3 197.7h.9v.9h-.9zM187.7 207.0h.9v.9h-.9zM172.6 187.4h.9v.9h-.9zM185.0 204.6h.9v.9h-.9zM185.5 201.1h.9v.9h-.9zM174.7 193.4h.9v.9h-.9zM185.2 192.4h.9v.9h-.9zM166.3 192.0h.9v.9h-.9zM196.4 206.6h.9v.9h-.9zM174.2 193.4h.9v.9h-.9zM180.6 193.3h.9v.9h-.9zM188.2 196.6h.9v.9h-.9zM171.4 203.5h.9v.9h-.9zM174.9 198.1h.9v.9h-.9zM178.9 195.4h.9v.9h-.9zM181.3 193.5h.9v.9h-.9zM166.1 186.0h.9v.9h-.9zM170.1 193.2h.9v.9h-.9zM178.8 197.3h.9v.9h-.9zM182.9 197.6h.9v.9h-.9zM173.4 193.5h.9v.9h-.9zM164.2 196.2h.9v.9h-.9zM182.4 199.6h.9v.9h-.9zM178.2 196.1h.9v.9h-.9zM185.6 197.1h.9v.9h-.9zM184.2 199.9h.9v.9h-.9zM180.5 203.5h.9v.9h-.9zM175.0 195.2h.9v.9h-.9zM173.3 193.0h.9v.9h-.9zM189.9 205.8h.9v.9h-.9zM179.2 199.8h.9v.9h-.9zM187.2 201.0h.9v.9h-.9zM187.4 190.7h.9v.9h-.9zM174.5 199.3h.9v.9h-.9zM189.0 197.5h.9v.9h-.9zM173.0 195.2h.9v.9h-.9zM174.4 192.7h.9v.9h-.9zM189.5 193.9h.9v.9h-.9zM179.1 207.8h.9v.9h-.9zM187.3 198.7h.9v.9h-.9zM174.7 199.1h.9v.9h-.9zM190.4 200.1h.9v.9h-.9zM187.8 197.5h.9v.9h-.9zM182.6 196.0h.9v.9h-.9zM182.0 203.5h.9v.9h-.9zM169.0 196.7h.9v.9h-.9zM180.7 194.1h.9v.9h-.9zM176.8 200.9h.9v.9h-.9zM193.0 200.1h.9v.9h-.9zM181.3 189.2h.9v.9h-.9zM192.5 197.4h.9v.9h-.9zM178.8 191.4h.9v.9h-.9zM178.6 191.5h.9v.9h-.9zM179.5 199.3h.9v.9h-.9zM179.2 198.4h.9v.9h-.9zM173.0 204.1h.9v.9h-.9zM174.4 187.9h.9v.9h-.9zM177.7 193.2h.9v.9h-.9zM171.9 195.2h.9v.9h-.9zM181.0 191.1h.9v.9h-.9zM178.0 204.1h.9v.9h-.9zM183.8 196.2h.9v.9h-.9zM179.9 196.4h.9v.9h-.9zM178.7 200.7h.9v.9h-.9zM178.4 185.0h.9v.9h-.9zM178.8 192.6h.9v.9h-.9zM183.6 193.9h.9v.9h-.9zM180.0 207.9h.9v.9h-.9zM171.7 191.4h.9v.9h-.9zM169.1 185.0h.9v.9h-.9zM165.9 198.8h.9v.9h-.9zM174.5 187.7h.9v.9h-.9zM168.6 200.1h.9v.9h-.9zM173.6 195.2h.9v.9h-.9zM181.3 203.8h.9v.9h-.9zM192.6 202.2h.9v.9h-.9zM180.0 197.9h.9v.9h-.9zM191.6 204.1h.9v.9h-.9zM176.8 199.3h.9v.9h-.9zM181.0 197.3h.9v.9h-.9zM175.5 190.4h.9v.9h-.9zM175.3 189.3h.9v.9h-.9zM187.6 199.7h.9v.9h-.9zM170.6 204.0h.9v.9h-.9zM185.2 187.5h.9v.9h-.9zM191.9 201.0h.9v.9h-.9zM193.4 190.8h.9v.9h-.9zM182.7 199.1h.9v.9h-.9zM180.4 197.9h.9v.9h-.9zM186.4 189.5h.9v.9h-.9zM170.3 190.0h.9v.9h-.9zM175.1 194.0h.9v.9h-.9zM181.6 198.3h.9v.9h-.9zM179.2 193.6h.9v.9h-.9zM175.9 201.8h.9v.9h-.9zM184.3 197.5h.9v.9h-.9zM176.7 204.8h.9v.9h-.9zM174.8 200.2h.9v.9h-.9zM187.1 195.7h.9v.9h-.9zM184.8 191.4h.9v.9h-.9zM186.1 198.0h.9v.9h-.9zM167.9 200.3h.9v.9h-.9zM172.8 203.4h.9v.9h-.9zM174.2 196.2h.9v.9h-.9zM181.0 195.3h.9v.9h-.9zM180.8 194.2h.9v.9h-.9zM183.7 197.0h.9v.9h-.9zM180.5 183.2h.9v.9h-.9zM187.1 197.2h.9v.9h-.9zM166.5 197.5h.9v.9h-.9zM182.3 202.4h.9v.9h-.9zM171.4 204.7h.9v.9h-.9zM177.9 209.0h.9v.9h-.9zM178.0 200.4h.9v.9h-.9zM176.4 191.4h.9v.9h-.9zM186.7 201.5h.9v.9h-.9zM189.8 201.3h.9v.9h-.9zM175.0 188.7h.9v.9h-.9zM174.4 193.6h.9v.9h-.9zM173.3 199.9h.9v.9h-.9zM181.3 195.7h.9v.9h-.9zM180.2 196.3h.9v.9h-.9zM180.5 200.8h.9v.9h-.9zM185.7 193.6h.9v.9h-.9zM168.5 204.1h.9v.9h-.9zM179.8 202.5h.9v.9h-.9zM167.5 195.4h.9v.9h-.9zM179.2 189.8h.9v.9h-.9zM175.4 200.6h.9v.9h-.9zM186.5 205.0h.9v.9h-.9zM173.0 190.0h.9v.9h-.9zM182.6 201.7h.9v.9h-.9zM180.4 190.5h.9v.9h-.9zM184.5 201.0h.9v.9h-.9zM182.9 194.6h.9v.9h-.9zM181.1 201.0h.9v.9h-.9zM175.1 187.8h.9v.9h-.9zM181.3 199.4h.9v.9h-.9zM179.1 201.4h.9v.9h-.9zM174.9 196.6h.9v.9h-.9zM176.9 199.9h.9v.9h-.9zM190.2 195.7h.9v.9h-.9zM193.4 204.6h.9v.9h-.9zM184.5 199.9h.9v.9h-.9zM191.4 196.1h.9v.9h-.9zM178.2 191.7h.9v.9h-.9zM182.3 203.7h.9v.9h-.9zM182.7 199.1h.9v.9h-.9zM177.6 197.8h.9v.9h-.9zM169.0 202.2h.9v.9h-.9zM176.1 191.5h.9v.9h-.9zM173.7 192.9h.9v.9h-.9zM185.0 202.3h.9v.9h-.9zM169.5 201.6h.9v.9h-.9zM185.2 194.1h.9v.9h-.9zM168.6 193.3h.9v.9h-.9zM174.6 198.7h.9v.9h-.9zM176.5 186.9h.9v.9h-.9zM180.6 189.3h.9v.9h-.9zM185.3 191.0h.9v.9h-.9zM174.1 192.7h.9v.9h-.9zM175.2 203.5h.9v.9h-.9zM185.0 200.0h.9v.9h-.9zM181.2 189.3h.9v.9h-.9zM175.4 194.2h.9v.9h-.9zM172.2 199.5h.9v.9h-.9zM173.8 193.5h.9v.9h-.9zM171.7 186.7h.9v.9h-.9zM183.2 203.7h.9v.9h-.9zM180.2 192.1h.9v.9h-.9zM160.1 197.9h.9v.9h-.9zM187.5 198.5h.9v.9h-.9zM185.5 204.4h.9v.9h-.9zM186.9 194.8h.9v.9h-.9zM186.4 200.9h.9v.9h-.9zM168.2 195.0h.9v.9h-.9zM169.0 196.5h.9v.9h-.9zM183.0 191.7h.9v.9h-.9zM164.6 203.5h.9v.9h-.9zM181.6 204.4h.9v.9h-.9zM169.7 202.3h.9v.9h-.9zM193.5 207.0h.9v.9h-.9zM177.5 198.3h.9v.9h-.9zM177.9 202.0h.9v.9h-.9zM186.3 197.4h.9v.9h-.9zM169.5 200.7h.9v.9h-.9zM175.7 200.1h.9v.9h-.9zM180.8 205.1h.9v.9h-.9zM187.0 194.7h.9v.9h-.9zM181.4 205.8h.9v.9h-.9zM175.2 199.2h.9v.9h-.9zM187.3 203.3h.9v.9h-.9zM182.6 190.4h.9v.9h-.9zM170.2 198.2h.9v.9h-.9zM181.7 209.7h.9v.9h-.9zM173.0 202.7h.9v.9h-.9zM184.4 188.6h.9v.9h-.9zM173.3 197.8h.9v.9h-.9zM175.5 196.2h.9v.9h-.9zM182.3 193.0h.9v.9h-.9zM182.3 193.8h.9v.9h-.9zM175.2 199.7h.9v.9h-.9zM175.0 198.4h.9v.9h-.9zM190.2 197.1h.9v.9h-.9zM178.0 200.7h.9v.9h-.9zM176.4 202.4h.9v.9h-.9zM170.0 200.1h.9v.9h-.9zM175.4 193.0h.9v.9h-.9zM191.4 192.7h.9v.9h-.9zM191.3 200.3h.9v.9h-.9zM189.2 192.1h.9v.9h-.9zM187.4 204.3h.9v.9h-.9zM178.2 196.4h.9v.9h-.9zM196.2 197.9h.9v.9h-.9zM176.0 193.9h.9v.9h-.9zM182.1 198.7h.9v.9h-.9zM180.2 205.6h.9v.9h-.9zM176.7 199.4h.9v.9h-.9zM189.2 192.0h.9v.9h-.9zM186.3 206.2h.9v.9h-.9zM169.5 191.5h.9v.9h-.9zM171.7 187.8h.9v.9h-.9zM182.2 187.7h.9v.9h-.9zM182.5 204.3h.9v.9h-.9zM167.7 195.4h.9v.9h-.9zM165.6 200.9h.9v.9h-.9zM173.8 195.7h.9v.9h-.9zM179.4 199.7h.9v.9h-.9zM176.6 197.1h.9v.9h-.9zM175.2 197.6h.9v.9h-.9zM170.8 197.3h.9v.9h-.9zM165.5 194.5h.9v.9h-.9zM192.4 197.4h.9v.9h-.9zM170.2 198.3h.9v.9h-.9zM172.2 188.7h.9v.9h-.9zM173.8 200.7h.9v.9h-.9zM181.7 196.5h.9v.9h-.9zM172.5 191.6h.9v.9h-.9zM188.4 198.2h.9v.9h-.9zM172.3 186.4h.9v.9h-.9zM169.4 209.4h.9v.9h-.9zM171.0 196.6h.9v.9h-.9zM180.5 196.2h.9v.9h-.9zM177.1 190.1h.9v.9h-.9zM171.6 205.4h.9v.9h-.9zM173.7 201.2h.9v.9h-.9zM167.1 195.6h.9v.9h-.9zM180.8 202.2h.9v.9h-.9zM171.1 200.0h.9v.9h-.9zM181.7 193.3h.9v.9h-.9zM182.3 192.5h.9v.9h-.9zM173.4 196.9h.9v.9h-.9zM160.0 196.5h.9v.9h-.9zM172.0 189.7h.9v.9h-.9zM176.0 200.8h.9v.9h-.9zM176.2 203.3h.9v.9h-.9zM170.9 190.4h.9v.9h-.9zM189.9 199.0h.9v.9h-.9zM185.6 192.9h.9v.9h-.9zM184.6 198.3h.9v.9h-.9zM183.5 197.1h.9v.9h-.9zM187.4 193.8h.9v.9h-.9zM172.3 189.6h.9v.9h-.9zM187.1 193.3h.9v.9h-.9zM171.7 192.3h.9v.9h-.9zM175.9 190.6h.9v.9h-.9zM177.0 193.9h.9v.9h-.9zM175.1 192.2h.9v.9h-.9zM179.3 194.7h.9v.9h-.9zM179.8 198.2h.9v.9h-.9zM181.4 186.1h.9v.9h-.9zM175.3 193.0h.9v.9h-.9zM184.4 189.1h.9v.9h-.9zM174.0 195.5h.9v.9h-.9zM176.6 202.0h.9v.9h-.9zM175.9 201.8h.9v.9h-.9zM168.7 187.9h.9v.9h-.9zM187.5 199.2h.9v.9h-.9zM182.4 197.6h.9v.9h-.9zM182.4 190.9h.9v.9h-.9zM185.6 194.3h.9v.9h-.9zM185.9 197.4h.9v.9h-.9zM165.2 190.6h.9v.9h-.9zM186.9 196.3h.9v.9h-.9zM176.2 198.2h.9v.9h-.9zM176.0 194.3h.9v.9h-.9zM179.7 197.7h.9v.9h-.9zM189.6 197.2h.9v.9h-.9zM192.2 206.0h.9v.9h-.9zM191.0 202.3h.9v.9h-.9zM179.9 197.7h.9v.9h-.9zM178.0 193.3h.9v.9h-.9zM178.5 193.8h.9v.9h-.9zM190.5 199.7h.9v.9h-.9zM175.9 187.4h.9v.9h-.9zM178.6 194.9h.9v.9h-.9zM171.4 191.3h.9v.9h-.9zM163.2 199.8h.9v.9h-.9zM178.5 209.9h.9v.9h-.9zM178.8 196.3h.9v.9h-.9zM189.1 197.7h.9v.9h-.9zM180.2 195.1h.9v.9h-.9zM174.8 204.5h.9v.9h-.9zM186.0 205.6h.9v.9h-.9zM176.6 197.2h.9v.9h-.9zM172.8 201.8h.9v.9h-.9zM169.2 199.8h.9v.9h-.9zM186.7 204.1h.9v.9h-.9zM172.4 202.4h.9v.9h-.9zM174.0 193.2h.9v.9h-.9zM169.7 202.8h.9v.9h-.9zM190.5 194.0h.9v.9h-.9zM173.7 195.3h.9v.9h-.9zM196.6 202.0h.9v.9h-.9zM175.2 188.0h.9v.9h-.9zM174.3 202.9h.9v.9h-.9zM192.1 195.7h.9v.9h-.9zM174.2 194.5h.9v.9h-.9zM165.8 201.5h.9v.9h-.9zM171.4 202.3h.9v.9h-.9zM167.0 190.6h.9v.9h-.9zM181.0 193.2h.9v.9h-.9zM184.5 197.0h.9v.9h-.9zM170.8 200.1h.9v.9h-.9zM184.9 187.4h.9v.9h-.9zM191.8 199.5h.9v.9h-.9zM184.3 187.7h.9v.9h-.9zM174.0 195.3h.9v.9h-.9zM186.5 189.7h.9v.9h-.9zM172.8 186.9h.9v.9h-.9zM177.3 198.7h.9v.9h-.9zM167.2 194.0h.9v.9h-.9zM182.6 204.9h.9v.9h-.9zM183.6 195.5h.9v.9h-.9zM170.8 192.3h.9v.9h-.9zM174.4 197.7h.9v.9h-.9zM178.7 205.3h.9v.9h-.9zM181.0 191.6h.9v.9h-.9zM189.8 201.7h.9v.9h-.9zM179.7 193.4h.9v.9h-.9zM165.9 191.9h.9v.9h-.9zM185.4 193.0h.9v.9h-.9zM169.8 198.0h.9v.9h-.9zM180.7 200.0h.9v.9h-.9zM183.6 204.0h.9v.9h-.9zM173.1 201.9h.9v.9h-.9zM172.1 200.5h.9v.9h-.9zM180.3 198.2h.9v.9h-.9zM185.8 196.9h.9v.9h-.9zM186.8 201.4h.9v.9h-.9zM179.9 194.2h.9v.9h-.9zM173.7 194.4h.9v.9h-.9zM177.6 196.9h.9v.9h-.9zM199.9 200.2h.9v.9h-.9zM184.4 192.7h.9v.9h-.9zM174.0 195.4h.9v.9h-.9zM180.3 191.8h.9v.9h-.9zM190.3 194.2h.9v.9h-.9zM186.5 185.3h.9v.9h-.9zM179.0 198.4h.9v.9h-.9zM180.3 200.0h.9v.9h-.9zM181.0 197.8h.9v.9h-.9zM165.8 193.4h.9v.9h-.9zM162.6 200.1h.9v.9h-.9zM181.2 196.0h.9v.9h-.9zM173.3 194.1h.9v.9h-.9zM191.9 205.7h.9v.9h-.9zM178.6 203.4h.9v.9h-.9zM167.9 187.3h.9v.9h-.9zM175.6 192.6h.9v.9h-.9zM175.1 197.9h.9v.9h-.9zM200.2 193.7h.9v.9h-.9zM179.3 198.4h.9v.9h-.9zM178.8 201.7h.9v.9h-.9zM191.4 190.8h.9v.9h-.9zM180.1 195.7h.9v.9h-.9zM181.5 189.3h.9v.9h-.9zM166.7 185.4h.9v.9h-.9zM182.7 198.0h.9v.9h-.9zM179.5 185.2h.9v.9h-.9zM176.4 193.2h.9v.9h-.9zM169.1 192.4h.9v.9h-.9zM183.9 199.7h.9v.9h-.9zM178.8 199.6h.9v.9h-.9zM174.8 197.4h.9v.9h-.9zM179.3 199.8h.9v.9h-.9zM178.5 212.0h.9v.9h-.9zM178.1 208.5h.9v.9h-.9zM194.6 216.6h.9v.9h-.9zM182.0 229.0h.9v.9h-.9zM188.8 202.1h.9v.9h-.9zM183.9 218.9h.9v.9h-.9zM192.2 222.2h.9v.9h-.9zM184.4 204.8h.9v.9h-.9zM172.9 214.9h.9v.9h-.9zM182.5 205.8h.9v.9h-.9zM176.3 210.2h.9v.9h-.9zM179.4 215.4h.9v.9h-.9zM177.0 204.3h.9v.9h-.9zM187.7 224.2h.9v.9h-.9zM178.3 220.2h.9v.9h-.9zM182.1 217.6h.9v.9h-.9zM182.4 207.7h.9v.9h-.9zM183.0 220.1h.9v.9h-.9zM172.7 226.8h.9v.9h-.9zM193.6 225.8h.9v.9h-.9zM192.9 218.2h.9v.9h-.9zM176.6 208.8h.9v.9h-.9zM173.3 213.8h.9v.9h-.9zM178.8 217.7h.9v.9h-.9zM164.9 229.2h.9v.9h-.9zM194.9 212.8h.9v.9h-.9zM183.7 216.3h.9v.9h-.9zM180.9 211.5h.9v.9h-.9zM178.1 207.2h.9v.9h-.9zM180.2 212.8h.9v.9h-.9zM181.2 207.0h.9v.9h-.9zM179.3 213.3h.9v.9h-.9zM183.2 205.6h.9v.9h-.9zM181.9 219.9h.9v.9h-.9zM183.2 210.4h.9v.9h-.9zM175.6 211.3h.9v.9h-.9zM184.1 223.9h.9v.9h-.9zM177.9 208.5h.9v.9h-.9zM181.6 214.4h.9v.9h-.9zM172.6 207.8h.9v.9h-.9zM178.3 217.7h.9v.9h-.9zM170.6 205.9h.9v.9h-.9zM182.5 204.4h.9v.9h-.9zM179.8 215.5h.9v.9h-.9zM178.2 205.9h.9v.9h-.9zM178.6 210.7h.9v.9h-.9zM181.4 207.1h.9v.9h-.9zM186.6 201.3h.9v.9h-.9zM177.8 213.1h.9v.9h-.9zM185.7 208.7h.9v.9h-.9zM182.8 209.0h.9v.9h-.9zM184.2 225.2h.9v.9h-.9zM176.2 216.1h.9v.9h-.9zM172.5 219.8h.9v.9h-.9zM187.5 213.2h.9v.9h-.9zM171.1 215.8h.9v.9h-.9zM187.0 220.6h.9v.9h-.9zM184.7 200.2h.9v.9h-.9zM174.2 223.0h.9v.9h-.9zM170.4 220.9h.9v.9h-.9zM192.2 218.3h.9v.9h-.9zM186.8 210.7h.9v.9h-.9zM170.4 212.3h.9v.9h-.9zM177.6 212.7h.9v.9h-.9zM183.9 212.0h.9v.9h-.9zM180.3 216.0h.9v.9h-.9zM179.0 225.9h.9v.9h-.9zM182.1 213.6h.9v.9h-.9zM177.5 208.6h.9v.9h-.9zM188.4 214.1h.9v.9h-.9zM171.4 209.1h.9v.9h-.9zM178.0 209.9h.9v.9h-.9zM186.6 204.9h.9v.9h-.9zM182.4 214.0h.9v.9h-.9zM170.8 213.3h.9v.9h-.9zM178.3 216.5h.9v.9h-.9zM175.8 215.1h.9v.9h-.9zM167.3 205.4h.9v.9h-.9zM184.5 220.3h.9v.9h-.9zM178.9 208.8h.9v.9h-.9zM186.6 198.4h.9v.9h-.9zM173.4 217.7h.9v.9h-.9zM183.6 205.8h.9v.9h-.9zM165.8 223.2h.9v.9h-.9zM180.1 206.7h.9v.9h-.9zM179.4 219.3h.9v.9h-.9zM160.9 220.8h.9v.9h-.9zM184.2 198.4h.9v.9h-.9zM184.4 200.5h.9v.9h-.9zM187.0 215.8h.9v.9h-.9zM194.8 208.7h.9v.9h-.9zM179.0 220.3h.9v.9h-.9zM174.5 208.1h.9v.9h-.9zM176.4 212.5h.9v.9h-.9zM171.4 216.4h.9v.9h-.9zM182.8 213.5h.9v.9h-.9zM190.9 210.7h.9v.9h-.9zM188.1 209.2h.9v.9h-.9zM184.3 199.5h.9v.9h-.9zM180.4 211.8h.9v.9h-.9zM175.5 208.7h.9v.9h-.9zM176.6 208.0h.9v.9h-.9zM163.6 208.8h.9v.9h-.9zM175.2 209.3h.9v.9h-.9zM171.6 212.1h.9v.9h-.9zM184.5 211.2h.9v.9h-.9zM175.6 222.5h.9v.9h-.9zM185.8 219.5h.9v.9h-.9zM187.1 210.7h.9v.9h-.9zM178.1 220.8h.9v.9h-.9zM175.1 212.2h.9v.9h-.9zM181.6 215.6h.9v.9h-.9zM177.1 219.9h.9v.9h-.9zM177.8 218.1h.9v.9h-.9zM186.5 217.6h.9v.9h-.9zM184.1 204.9h.9v.9h-.9zM169.8 208.7h.9v.9h-.9zM182.3 223.5h.9v.9h-.9zM170.4 215.1h.9v.9h-.9zM173.0 207.9h.9v.9h-.9zM177.1 217.8h.9v.9h-.9zM180.5 221.3h.9v.9h-.9zM172.1 219.2h.9v.9h-.9zM185.5 213.5h.9v.9h-.9zM182.3 209.1h.9v.9h-.9zM171.4 210.2h.9v.9h-.9zM174.5 233.2h.9v.9h-.9zM175.6 224.6h.9v.9h-.9zM180.4 215.2h.9v.9h-.9zM184.2 207.5h.9v.9h-.9zM185.4 215.6h.9v.9h-.9zM168.4 217.2h.9v.9h-.9zM182.9 216.2h.9v.9h-.9zM190.1 210.1h.9v.9h-.9zM182.6 218.2h.9v.9h-.9zM172.7 221.4h.9v.9h-.9zM168.8 203.9h.9v.9h-.9zM182.7 205.4h.9v.9h-.9zM178.2 201.5h.9v.9h-.9zM179.5 205.1h.9v.9h-.9zM181.4 202.3h.9v.9h-.9zM182.1 211.1h.9v.9h-.9zM179.4 212.5h.9v.9h-.9zM179.9 203.8h.9v.9h-.9zM161.0 213.2h.9v.9h-.9zM172.4 209.8h.9v.9h-.9zM182.0 199.1h.9v.9h-.9zM173.7 208.7h.9v.9h-.9zM171.6 215.3h.9v.9h-.9zM178.0 207.3h.9v.9h-.9zM172.1 218.7h.9v.9h-.9zM174.4 217.1h.9v.9h-.9zM182.1 199.7h.9v.9h-.9zM171.4 213.0h.9v.9h-.9zM181.4 218.5h.9v.9h-.9zM184.6 220.2h.9v.9h-.9zM176.4 211.5h.9v.9h-.9zM184.4 210.0h.9v.9h-.9zM186.4 201.9h.9v.9h-.9zM183.6 211.8h.9v.9h-.9zM165.2 219.9h.9v.9h-.9zM181.2 213.1h.9v.9h-.9zM171.5 209.7h.9v.9h-.9zM189.6 207.2h.9v.9h-.9zM154.7 207.0h.9v.9h-.9zM170.6 212.1h.9v.9h-.9zM176.2 206.6h.9v.9h-.9zM173.1 220.3h.9v.9h-.9zM168.9 226.7h.9v.9h-.9zM175.2 205.4h.9v.9h-.9zM184.5 216.9h.9v.9h-.9zM171.7 218.2h.9v.9h-.9zM166.1 206.5h.9v.9h-.9zM186.9 211.2h.9v.9h-.9zM169.9 216.6h.9v.9h-.9zM185.4 212.8h.9v.9h-.9zM166.4 210.6h.9v.9h-.9zM181.9 218.4h.9v.9h-.9zM192.0 211.2h.9v.9h-.9zM175.6 212.7h.9v.9h-.9zM187.4 206.4h.9v.9h-.9zM188.1 193.8h.9v.9h-.9zM184.6 208.3h.9v.9h-.9zM182.2 217.8h.9v.9h-.9zM170.7 212.4h.9v.9h-.9zM180.7 217.1h.9v.9h-.9zM172.5 206.1h.9v.9h-.9zM165.5 230.8h.9v.9h-.9zM177.7 211.4h.9v.9h-.9zM168.5 219.5h.9v.9h-.9zM175.3 223.0h.9v.9h-.9zM185.0 213.1h.9v.9h-.9zM184.1 205.2h.9v.9h-.9zM176.7 209.0h.9v.9h-.9zM170.1 213.1h.9v.9h-.9zM178.0 223.0h.9v.9h-.9zM155.5 208.3h.9v.9h-.9zM172.6 209.8h.9v.9h-.9zM182.0 215.8h.9v.9h-.9zM179.2 209.7h.9v.9h-.9zM182.5 215.5h.9v.9h-.9zM166.1 211.2h.9v.9h-.9zM169.4 204.7h.9v.9h-.9zM180.0 213.4h.9v.9h-.9zM179.8 206.9h.9v.9h-.9zM177.6 206.6h.9v.9h-.9zM181.7 217.8h.9v.9h-.9zM191.3 221.9h.9v.9h-.9zM173.4 209.8h.9v.9h-.9zM172.4 215.1h.9v.9h-.9zM192.9 218.0h.9v.9h-.9zM163.6 204.2h.9v.9h-.9zM170.0 216.6h.9v.9h-.9zM179.0 215.1h.9v.9h-.9zM191.5 207.2h.9v.9h-.9zM173.1 226.8h.9v.9h-.9zM181.4 207.5h.9v.9h-.9zM164.8 202.3h.9v.9h-.9zM161.9 213.5h.9v.9h-.9zM179.3 220.0h.9v.9h-.9zM178.0 208.1h.9v.9h-.9zM173.8 226.3h.9v.9h-.9zM166.6 214.2h.9v.9h-.9zM179.2 217.3h.9v.9h-.9zM176.2 216.5h.9v.9h-.9zM184.7 212.0h.9v.9h-.9zM175.8 211.7h.9v.9h-.9zM172.2 211.5h.9v.9h-.9zM176.9 214.5h.9v.9h-.9zM188.4 222.2h.9v.9h-.9zM175.9 217.2h.9v.9h-.9zM181.1 218.3h.9v.9h-.9zM179.2 214.9h.9v.9h-.9zM175.7 207.5h.9v.9h-.9zM185.1 222.1h.9v.9h-.9zM183.6 216.1h.9v.9h-.9zM180.9 209.8h.9v.9h-.9zM166.5 217.6h.9v.9h-.9zM180.4 209.1h.9v.9h-.9zM172.2 221.9h.9v.9h-.9zM166.4 225.3h.9v.9h-.9zM183.5 229.6h.9v.9h-.9zM174.0 212.8h.9v.9h-.9zM175.5 214.1h.9v.9h-.9zM177.5 207.8h.9v.9h-.9zM186.5 207.5h.9v.9h-.9zM175.4 216.9h.9v.9h-.9zM175.2 210.0h.9v.9h-.9zM181.5 210.4h.9v.9h-.9zM170.3 212.3h.9v.9h-.9zM177.5 224.9h.9v.9h-.9zM171.3 219.8h.9v.9h-.9zM173.5 210.5h.9v.9h-.9zM176.7 214.9h.9v.9h-.9zM185.0 225.2h.9v.9h-.9zM174.5 222.3h.9v.9h-.9zM186.0 218.7h.9v.9h-.9zM173.7 219.3h.9v.9h-.9zM178.2 215.5h.9v.9h-.9zM177.1 217.6h.9v.9h-.9zM186.8 220.9h.9v.9h-.9zM177.6 220.0h.9v.9h-.9zM189.2 206.5h.9v.9h-.9zM189.3 203.7h.9v.9h-.9zM182.8 217.2h.9v.9h-.9zM189.4 215.0h.9v.9h-.9zM175.6 207.4h.9v.9h-.9zM170.2 218.4h.9v.9h-.9zM177.3 208.0h.9v.9h-.9zM182.7 207.6h.9v.9h-.9zM175.9 209.8h.9v.9h-.9zM190.6 223.2h.9v.9h-.9zM177.9 202.0h.9v.9h-.9zM180.9 213.5h.9v.9h-.9zM181.4 217.0h.9v.9h-.9zM176.8 219.5h.9v.9h-.9zM184.9 214.5h.9v.9h-.9zM176.2 209.6h.9v.9h-.9zM183.8 205.3h.9v.9h-.9zM177.9 207.8h.9v.9h-.9zM169.2 217.2h.9v.9h-.9zM178.8 213.3h.9v.9h-.9zM185.1 202.5h.9v.9h-.9zM178.5 215.0h.9v.9h-.9zM184.8 205.4h.9v.9h-.9zM184.0 214.5h.9v.9h-.9zM188.5 221.0h.9v.9h-.9zM182.8 228.0h.9v.9h-.9zM179.0 210.0h.9v.9h-.9zM176.6 206.4h.9v.9h-.9zM178.8 199.9h.9v.9h-.9zM178.4 216.0h.9v.9h-.9zM185.9 210.6h.9v.9h-.9zM188.7 208.4h.9v.9h-.9zM178.1 199.9h.9v.9h-.9zM173.7 207.5h.9v.9h-.9zM189.2 216.6h.9v.9h-.9zM171.5 216.6h.9v.9h-.9zM182.3 211.4h.9v.9h-.9zM179.2 210.9h.9v.9h-.9zM175.3 200.9h.9v.9h-.9zM178.4 221.8h.9v.9h-.9zM188.8 211.1h.9v.9h-.9zM173.9 211.6h.9v.9h-.9zM185.1 215.4h.9v.9h-.9zM175.0 215.5h.9v.9h-.9zM177.6 216.5h.9v.9h-.9zM176.2 203.0h.9v.9h-.9zM179.4 218.2h.9v.9h-.9zM171.4 212.3h.9v.9h-.9zM185.0 210.4h.9v.9h-.9zM174.6 226.9h.9v.9h-.9zM184.7 220.0h.9v.9h-.9zM172.5 224.1h.9v.9h-.9zM167.7 209.5h.9v.9h-.9zM184.0 222.1h.9v.9h-.9zM172.7 208.5h.9v.9h-.9zM180.3 199.9h.9v.9h-.9zM183.4 216.8h.9v.9h-.9zM176.0 216.7h.9v.9h-.9zM184.3 215.1h.9v.9h-.9zM182.6 223.3h.9v.9h-.9zM175.8 214.1h.9v.9h-.9zM175.4 220.0h.9v.9h-.9zM176.2 216.2h.9v.9h-.9zM179.9 213.5h.9v.9h-.9zM190.6 212.4h.9v.9h-.9zM188.6 218.6h.9v.9h-.9zM187.9 211.9h.9v.9h-.9zM185.3 218.1h.9v.9h-.9zM174.8 214.8h.9v.9h-.9zM178.1 212.8h.9v.9h-.9zM187.8 208.1h.9v.9h-.9zM167.6 201.2h.9v.9h-.9zM175.9 208.6h.9v.9h-.9zM179.1 216.8h.9v.9h-.9zM190.9 215.1h.9v.9h-.9zM182.1 208.0h.9v.9h-.9zM182.9 222.2h.9v.9h-.9zM188.1 199.8h.9v.9h-.9zM185.0 223.7h.9v.9h-.9zM184.6 202.9h.9v.9h-.9zM176.9 217.0h.9v.9h-.9zM181.8 207.5h.9v.9h-.9zM173.0 219.5h.9v.9h-.9zM170.0 222.7h.9v.9h-.9zM179.1 215.0h.9v.9h-.9zM170.0 209.0h.9v.9h-.9zM183.6 203.1h.9v.9h-.9zM193.0 203.5h.9v.9h-.9zM170.8 213.3h.9v.9h-.9zM182.2 217.9h.9v.9h-.9zM176.5 211.6h.9v.9h-.9zM177.4 209.1h.9v.9h-.9zM161.6 219.5h.9v.9h-.9zM180.7 214.1h.9v.9h-.9zM174.8 214.7h.9v.9h-.9zM178.9 212.5h.9v.9h-.9zM186.4 201.4h.9v.9h-.9zM180.7 205.8h.9v.9h-.9zM176.9 223.1h.9v.9h-.9zM171.7 212.3h.9v.9h-.9zM175.0 219.4h.9v.9h-.9zM172.4 201.7h.9v.9h-.9zM182.5 210.6h.9v.9h-.9zM176.9 220.3h.9v.9h-.9zM173.0 210.5h.9v.9h-.9zM180.0 215.8h.9v.9h-.9zM175.5 220.0h.9v.9h-.9zM194.1 210.3h.9v.9h-.9zM191.6 198.8h.9v.9h-.9zM188.5 210.7h.9v.9h-.9zM179.9 210.7h.9v.9h-.9zM174.7 204.4h.9v.9h-.9zM176.3 221.7h.9v.9h-.9zM186.7 210.7h.9v.9h-.9zM175.5 208.3h.9v.9h-.9zM170.9 225.1h.9v.9h-.9zM183.5 213.8h.9v.9h-.9zM175.7 206.1h.9v.9h-.9zM187.8 218.2h.9v.9h-.9zM172.6 219.6h.9v.9h-.9zM171.6 217.3h.9v.9h-.9zM172.5 210.2h.9v.9h-.9zM182.3 215.9h.9v.9h-.9zM185.8 207.4h.9v.9h-.9zM189.6 222.0h.9v.9h-.9zM178.9 216.1h.9v.9h-.9zM173.8 212.0h.9v.9h-.9zM170.1 213.6h.9v.9h-.9zM180.3 222.0h.9v.9h-.9zM185.4 218.5h.9v.9h-.9zM176.6 211.5h.9v.9h-.9zM176.7 214.5h.9v.9h-.9zM166.0 218.2h.9v.9h-.9zM168.5 209.5h.9v.9h-.9zM179.1 209.5h.9v.9h-.9zM190.2 212.3h.9v.9h-.9zM189.6 220.9h.9v.9h-.9zM175.7 215.7h.9v.9h-.9zM187.7 210.8h.9v.9h-.9zM179.6 209.2h.9v.9h-.9zM179.4 210.6h.9v.9h-.9zM179.6 219.7h.9v.9h-.9zM188.4 213.9h.9v.9h-.9zM180.4 218.8h.9v.9h-.9zM177.1 205.9h.9v.9h-.9zM186.5 206.7h.9v.9h-.9zM185.3 206.5h.9v.9h-.9zM191.3 206.0h.9v.9h-.9zM184.7 223.1h.9v.9h-.9zM172.5 223.0h.9v.9h-.9zM173.5 201.1h.9v.9h-.9zM183.9 217.7h.9v.9h-.9zM177.6 196.0h.9v.9h-.9zM178.6 210.9h.9v.9h-.9zM176.5 211.1h.9v.9h-.9zM167.0 209.2h.9v.9h-.9zM191.1 223.4h.9v.9h-.9zM176.6 208.2h.9v.9h-.9zM181.7 220.1h.9v.9h-.9zM183.9 205.1h.9v.9h-.9zM180.1 213.9h.9v.9h-.9zM188.7 221.0h.9v.9h-.9zM182.5 221.2h.9v.9h-.9zM176.3 223.3h.9v.9h-.9zM176.1 215.7h.9v.9h-.9zM185.2 206.9h.9v.9h-.9zM174.3 201.2h.9v.9h-.9zM180.1 212.6h.9v.9h-.9zM176.8 216.3h.9v.9h-.9zM164.8 212.8h.9v.9h-.9zM179.6 211.2h.9v.9h-.9zM184.3 224.8h.9v.9h-.9zM176.0 206.7h.9v.9h-.9zM174.9 213.6h.9v.9h-.9zM182.9 207.2h.9v.9h-.9zM185.7 206.1h.9v.9h-.9zM184.6 215.9h.9v.9h-.9zM182.1 227.5h.9v.9h-.9zM177.2 211.9h.9v.9h-.9zM182.2 218.8h.9v.9h-.9zM170.0 214.8h.9v.9h-.9zM174.0 217.2h.9v.9h-.9zM188.2 213.3h.9v.9h-.9zM178.3 214.2h.9v.9h-.9zM159.1 218.2h.9v.9h-.9zM182.8 214.1h.9v.9h-.9zM176.3 208.1h.9v.9h-.9zM177.8 221.2h.9v.9h-.9zM178.3 222.1h.9v.9h-.9zM161.7 209.9h.9v.9h-.9zM180.8 212.9h.9v.9h-.9zM167.8 208.5h.9v.9h-.9zM187.4 204.3h.9v.9h-.9zM172.3 205.6h.9v.9h-.9zM175.3 217.3h.9v.9h-.9zM183.0 199.4h.9v.9h-.9zM188.8 209.0h.9v.9h-.9zM175.0 224.2h.9v.9h-.9zM178.5 204.7h.9v.9h-.9zM174.7 208.1h.9v.9h-.9zM172.2 210.8h.9v.9h-.9zM184.9 215.4h.9v.9h-.9zM169.7 231.7h.9v.9h-.9zM172.3 213.8h.9v.9h-.9zM179.2 218.1h.9v.9h-.9zM176.8 216.1h.9v.9h-.9zM193.2 213.6h.9v.9h-.9zM171.7 215.2h.9v.9h-.9zM173.6 210.5h.9v.9h-.9zM180.3 215.3h.9v.9h-.9zM177.1 218.7h.9v.9h-.9zM177.7 204.2h.9v.9h-.9zM184.9 210.6h.9v.9h-.9zM187.2 208.6h.9v.9h-.9zM182.8 215.1h.9v.9h-.9zM160.9 203.0h.9v.9h-.9zM171.5 222.5h.9v.9h-.9zM166.3 219.1h.9v.9h-.9zM186.3 216.3h.9v.9h-.9zM183.5 209.7h.9v.9h-.9zM178.9 214.5h.9v.9h-.9zM181.8 217.8h.9v.9h-.9zM177.6 208.3h.9v.9h-.9zM175.2 215.8h.9v.9h-.9zM167.8 204.6h.9v.9h-.9zM176.2 209.3h.9v.9h-.9zM177.2 195.1h.9v.9h-.9zM176.7 211.3h.9v.9h-.9zM184.2 199.7h.9v.9h-.9zM176.9 216.2h.9v.9h-.9zM182.3 221.0h.9v.9h-.9zM186.1 205.9h.9v.9h-.9zM183.3 210.7h.9v.9h-.9zM173.6 223.3h.9v.9h-.9zM174.8 207.3h.9v.9h-.9zM176.3 207.3h.9v.9h-.9zM185.8 215.6h.9v.9h-.9zM188.4 215.8h.9v.9h-.9zM174.9 220.0h.9v.9h-.9zM174.6 209.9h.9v.9h-.9zM177.9 213.3h.9v.9h-.9zM187.0 208.9h.9v.9h-.9zM181.4 212.8h.9v.9h-.9zM170.5 205.6h.9v.9h-.9zM177.5 215.7h.9v.9h-.9zM181.2 216.2h.9v.9h-.9zM179.3 210.0h.9v.9h-.9zM181.9 206.2h.9v.9h-.9zM169.9 210.8h.9v.9h-.9zM169.4 209.5h.9v.9h-.9zM174.0 209.3h.9v.9h-.9zM178.7 207.6h.9v.9h-.9zM176.1 201.5h.9v.9h-.9zM180.0 207.1h.9v.9h-.9zM181.7 193.9h.9v.9h-.9zM173.6 214.6h.9v.9h-.9zM162.5 210.6h.9v.9h-.9zM179.6 213.7h.9v.9h-.9zM168.9 214.5h.9v.9h-.9zM180.0 206.4h.9v.9h-.9zM184.0 212.7h.9v.9h-.9zM179.1 210.0h.9v.9h-.9zM182.7 213.7h.9v.9h-.9zM186.7 216.1h.9v.9h-.9zM174.8 211.5h.9v.9h-.9zM185.2 210.5h.9v.9h-.9zM181.6 216.5h.9v.9h-.9zM177.8 197.3h.9v.9h-.9zM179.9 214.4h.9v.9h-.9zM179.9 207.9h.9v.9h-.9zM187.2 212.1h.9v.9h-.9zM174.8 208.1h.9v.9h-.9zM181.4 205.6h.9v.9h-.9zM172.2 226.5h.9v.9h-.9zM187.9 220.1h.9v.9h-.9zM188.2 217.0h.9v.9h-.9zM167.6 221.1h.9v.9h-.9zM187.4 216.3h.9v.9h-.9zM165.7 221.4h.9v.9h-.9zM188.3 209.7h.9v.9h-.9zM179.9 218.3h.9v.9h-.9zM178.4 220.4h.9v.9h-.9zM179.6 217.7h.9v.9h-.9zM179.6 203.0h.9v.9h-.9zM172.3 234.5h.9v.9h-.9zM180.9 221.9h.9v.9h-.9zM186.7 224.6h.9v.9h-.9zM182.8 209.0h.9v.9h-.9zM179.1 200.0h.9v.9h-.9zM177.7 219.2h.9v.9h-.9zM164.3 214.3h.9v.9h-.9zM184.6 222.0h.9v.9h-.9zM172.7 208.6h.9v.9h-.9zM166.3 206.1h.9v.9h-.9zM182.6 227.1h.9v.9h-.9zM171.2 222.4h.9v.9h-.9zM181.9 209.6h.9v.9h-.9zM193.9 195.9h.9v.9h-.9zM178.5 214.5h.9v.9h-.9zM193.5 225.2h.9v.9h-.9zM194.4 213.9h.9v.9h-.9zM185.7 222.3h.9v.9h-.9zM182.5 215.4h.9v.9h-.9zM177.8 210.2h.9v.9h-.9zM170.6 226.3h.9v.9h-.9zM176.0 198.9h.9v.9h-.9zM180.8 212.8h.9v.9h-.9zM180.2 225.3h.9v.9h-.9zM178.3 211.2h.9v.9h-.9zM173.9 212.8h.9v.9h-.9zM176.0 214.4h.9v.9h-.9zM200.3 215.7h.9v.9h-.9zM173.2 226.1h.9v.9h-.9zM184.9 218.6h.9v.9h-.9zM183.9 218.6h.9v.9h-.9zM183.6 222.6h.9v.9h-.9zM185.9 222.2h.9v.9h-.9zM175.6 213.0h.9v.9h-.9zM174.0 219.5h.9v.9h-.9zM184.7 209.8h.9v.9h-.9zM183.0 230.9h.9v.9h-.9zM187.4 205.4h.9v.9h-.9zM178.4 217.3h.9v.9h-.9zM178.8 215.6h.9v.9h-.9zM187.0 215.2h.9v.9h-.9zM171.5 217.9h.9v.9h-.9zM178.3 213.8h.9v.9h-.9zM175.1 203.6h.9v.9h-.9zM170.5 210.6h.9v.9h-.9zM171.7 194.5h.9v.9h-.9zM186.8 205.1h.9v.9h-.9zM174.1 216.6h.9v.9h-.9zM162.6 222.1h.9v.9h-.9zM173.8 217.5h.9v.9h-.9zM175.7 215.1h.9v.9h-.9zM179.7 213.0h.9v.9h-.9zM166.5 203.0h.9v.9h-.9zM178.7 222.6h.9v.9h-.9zM175.3 216.6h.9v.9h-.9zM180.1 216.3h.9v.9h-.9zM185.8 202.8h.9v.9h-.9zM180.9 211.8h.9v.9h-.9zM176.9 207.2h.9v.9h-.9zM173.6 206.0h.9v.9h-.9zM171.5 230.1h.9v.9h-.9zM190.6 213.1h.9v.9h-.9zM184.1 206.3h.9v.9h-.9zM160.0 200.6h.9v.9h-.9zM180.0 222.8h.9v.9h-.9zM178.7 206.2h.9v.9h-.9zM177.4 206.2h.9v.9h-.9zM169.5 211.4h.9v.9h-.9zM176.3 207.5h.9v.9h-.9zM173.0 206.7h.9v.9h-.9zM180.6 222.5h.9v.9h-.9zM177.6 228.3h.9v.9h-.9zM168.0 214.9h.9v.9h-.9zM171.1 211.9h.9v.9h-.9zM179.7 216.8h.9v.9h-.9zM186.7 209.2h.9v.9h-.9zM170.5 211.7h.9v.9h-.9zM181.0 208.2h.9v.9h-.9zM185.1 224.5h.9v.9h-.9zM169.3 215.5h.9v.9h-.9zM185.9 199.9h.9v.9h-.9zM180.4 211.5h.9v.9h-.9zM169.3 222.0h.9v.9h-.9zM180.5 209.7h.9v.9h-.9zM182.0 217.4h.9v.9h-.9zM184.2 217.0h.9v.9h-.9zM181.8 205.0h.9v.9h-.9zM176.1 213.9h.9v.9h-.9zM160.1 227.5h.9v.9h-.9zM176.4 205.8h.9v.9h-.9zM166.6 214.7h.9v.9h-.9zM179.2 209.0h.9v.9h-.9zM176.2 206.9h.9v.9h-.9zM173.9 212.3h.9v.9h-.9zM174.6 217.6h.9v.9h-.9zM178.0 213.9h.9v.9h-.9zM181.8 221.7h.9v.9h-.9zM183.1 214.6h.9v.9h-.9zM177.9 207.5h.9v.9h-.9zM176.7 217.7h.9v.9h-.9zM180.5 210.4h.9v.9h-.9zM169.9 202.5h.9v.9h-.9zM181.2 220.0h.9v.9h-.9zM181.6 203.6h.9v.9h-.9zM177.5 214.5h.9v.9h-.9zM172.7 215.4h.9v.9h-.9zM177.6 207.3h.9v.9h-.9zM170.5 218.5h.9v.9h-.9zM181.4 206.9h.9v.9h-.9zM172.1 219.1h.9v.9h-.9zM183.1 210.9h.9v.9h-.9zM189.9 211.0h.9v.9h-.9zM171.8 220.4h.9v.9h-.9zM177.7 215.4h.9v.9h-.9zM179.3 206.2h.9v.9h-.9zM170.9 211.7h.9v.9h-.9zM188.6 206.2h.9v.9h-.9zM188.3 214.5h.9v.9h-.9zM171.4 214.8h.9v.9h-.9zM182.9 206.9h.9v.9h-.9zM164.5 215.4h.9v.9h-.9zM171.4 216.0h.9v.9h-.9zM166.0 212.0h.9v.9h-.9zM173.5 202.9h.9v.9h-.9zM177.4 214.2h.9v.9h-.9zM175.2 205.0h.9v.9h-.9zM180.4 201.1h.9v.9h-.9zM182.6 216.3h.9v.9h-.9zM190.4 219.0h.9v.9h-.9zM181.4 214.8h.9v.9h-.9zM179.2 204.0h.9v.9h-.9zM189.0 216.6h.9v.9h-.9zM177.1 205.2h.9v.9h-.9zM189.1 216.6h.9v.9h-.9zM170.9 217.6h.9v.9h-.9zM191.9 212.8h.9v.9h-.9zM181.7 210.2h.9v.9h-.9zM174.7 220.3h.9v.9h-.9zM199.9 213.8h.9v.9h-.9zM178.2 218.4h.9v.9h-.9zM176.9 218.0h.9v.9h-.9zM184.6 206.1h.9v.9h-.9zM171.7 212.5h.9v.9h-.9zM184.7 214.9h.9v.9h-.9zM187.4 203.6h.9v.9h-.9zM182.4 208.8h.9v.9h-.9zM179.7 215.2h.9v.9h-.9zM172.4 211.4h.9v.9h-.9zM171.1 214.8h.9v.9h-.9zM173.2 209.6h.9v.9h-.9zM180.5 208.6h.9v.9h-.9zM186.8 208.7h.9v.9h-.9zM184.8 214.9h.9v.9h-.9zM172.0 211.5h.9v.9h-.9zM173.3 210.5h.9v.9h-.9zM177.2 225.3h.9v.9h-.9zM176.2 223.6h.9v.9h-.9zM182.0 204.1h.9v.9h-.9zM163.3 217.6h.9v.9h-.9zM165.5 217.9h.9v.9h-.9zM186.0 215.6h.9v.9h-.9zM177.6 211.3h.9v.9h-.9zM180.8 210.9h.9v.9h-.9zM175.4 210.5h.9v.9h-.9zM186.9 208.8h.9v.9h-.9zM181.6 205.2h.9v.9h-.9zM174.2 203.7h.9v.9h-.9zM177.7 217.6h.9v.9h-.9zM181.1 209.7h.9v.9h-.9zM183.1 210.6h.9v.9h-.9zM181.5 214.9h.9v.9h-.9zM182.7 196.2h.9v.9h-.9zM170.2 218.2h.9v.9h-.9zM178.3 228.2h.9v.9h-.9zM177.4 209.3h.9v.9h-.9zM189.1 216.8h.9v.9h-.9zM191.9 216.5h.9v.9h-.9zM177.6 217.9h.9v.9h-.9zM173.7 210.0h.9v.9h-.9zM175.2 211.5h.9v.9h-.9zM184.3 209.7h.9v.9h-.9zM181.2 209.6h.9v.9h-.9zM185.0 194.3h.9v.9h-.9zM177.6 214.1h.9v.9h-.9zM171.7 219.9h.9v.9h-.9zM180.5 221.7h.9v.9h-.9zM185.5 217.3h.9v.9h-.9zM178.0 205.6h.9v.9h-.9zM177.5 209.9h.9v.9h-.9zM180.7 209.9h.9v.9h-.9zM199.7 202.2h.9v.9h-.9zM186.9 209.8h.9v.9h-.9zM177.4 219.3h.9v.9h-.9zM179.0 204.8h.9v.9h-.9zM181.8 211.7h.9v.9h-.9zM165.1 214.3h.9v.9h-.9zM171.9 208.0h.9v.9h-.9zM182.3 215.0h.9v.9h-.9zM177.0 227.7h.9v.9h-.9zM181.8 208.9h.9v.9h-.9zM180.6 212.2h.9v.9h-.9zM164.1 202.3h.9v.9h-.9zM169.6 227.0h.9v.9h-.9zM177.8 211.1h.9v.9h-.9zM175.2 219.6h.9v.9h-.9zM179.2 224.5h.9v.9h-.9zM184.3 224.1h.9v.9h-.9zM178.2 215.5h.9v.9h-.9zM176.1 211.9h.9v.9h-.9zM167.3 209.1h.9v.9h-.9zM172.6 208.6h.9v.9h-.9zM187.2 214.8h.9v.9h-.9zM187.3 218.8h.9v.9h-.9zM185.2 219.8h.9v.9h-.9zM174.9 218.4h.9v.9h-.9zM176.8 209.4h.9v.9h-.9zM187.1 227.6h.9v.9h-.9zM172.4 224.7h.9v.9h-.9zM184.6 207.3h.9v.9h-.9zM180.8 215.5h.9v.9h-.9zM181.5 210.6h.9v.9h-.9zM170.3 213.2h.9v.9h-.9zM184.8 218.3h.9v.9h-.9zM183.5 220.4h.9v.9h-.9zM172.3 212.7h.9v.9h-.9zM181.3 219.7h.9v.9h-.9zM180.1 216.5h.9v.9h-.9zM179.9 227.2h.9v.9h-.9zM164.3 212.8h.9v.9h-.9zM195.7 214.6h.9v.9h-.9zM166.6 213.9h.9v.9h-.9zM169.3 208.4h.9v.9h-.9zM180.5 224.6h.9v.9h-.9zM182.1 217.5h.9v.9h-.9zM185.9 214.4h.9v.9h-.9zM173.2 212.3h.9v.9h-.9zM181.3 211.1h.9v.9h-.9zM174.5 210.6h.9v.9h-.9zM168.9 206.1h.9v.9h-.9zM178.4 210.6h.9v.9h-.9zM179.3 222.5h.9v.9h-.9zM181.0 212.8h.9v.9h-.9zM171.1 205.7h.9v.9h-.9zM181.5 207.1h.9v.9h-.9zM181.9 205.8h.9v.9h-.9zM179.9 212.5h.9v.9h-.9zM185.7 210.4h.9v.9h-.9zM176.5 214.7h.9v.9h-.9zM179.4 224.4h.9v.9h-.9zM177.3 209.4h.9v.9h-.9zM176.8 216.2h.9v.9h-.9zM180.6 217.7h.9v.9h-.9zM169.7 229.7h.9v.9h-.9zM191.4 212.8h.9v.9h-.9zM170.9 214.0h.9v.9h-.9zM181.8 198.0h.9v.9h-.9zM179.1 203.0h.9v.9h-.9zM182.1 222.3h.9v.9h-.9zM186.0 202.9h.9v.9h-.9zM188.3 219.1h.9v.9h-.9zM176.6 216.4h.9v.9h-.9zM189.2 210.8h.9v.9h-.9zM178.9 209.2h.9v.9h-.9zM186.8 198.5h.9v.9h-.9zM188.6 206.5h.9v.9h-.9zM185.2 202.1h.9v.9h-.9zM172.7 209.0h.9v.9h-.9zM184.6 202.1h.9v.9h-.9zM183.1 208.7h.9v.9h-.9zM187.4 210.9h.9v.9h-.9zM182.3 211.8h.9v.9h-.9zM191.1 210.6h.9v.9h-.9zM178.8 226.4h.9v.9h-.9zM179.5 217.6h.9v.9h-.9zM174.0 214.3h.9v.9h-.9zM163.7 213.7h.9v.9h-.9zM174.6 202.9h.9v.9h-.9zM169.5 220.7h.9v.9h-.9zM181.9 202.8h.9v.9h-.9zM191.2 208.3h.9v.9h-.9zM176.5 214.7h.9v.9h-.9zM171.3 202.1h.9v.9h-.9zM174.0 221.0h.9v.9h-.9zM185.4 202.4h.9v.9h-.9zM187.1 213.2h.9v.9h-.9zM182.4 213.3h.9v.9h-.9zM181.8 206.3h.9v.9h-.9zM172.9 208.3h.9v.9h-.9zM176.5 217.2h.9v.9h-.9zM170.8 223.7h.9v.9h-.9zM174.7 209.0h.9v.9h-.9zM183.7 215.9h.9v.9h-.9zM176.7 205.8h.9v.9h-.9zM172.3 202.2h.9v.9h-.9zM186.7 220.3h.9v.9h-.9zM191.6 216.4h.9v.9h-.9zM181.2 218.1h.9v.9h-.9zM185.4 211.3h.9v.9h-.9zM181.4 227.5h.9v.9h-.9zM167.6 203.5h.9v.9h-.9zM172.5 218.1h.9v.9h-.9zM187.0 210.7h.9v.9h-.9zM183.5 212.7h.9v.9h-.9zM181.0 209.4h.9v.9h-.9zM178.8 213.0h.9v.9h-.9zM186.6 228.0h.9v.9h-.9zM166.8 216.6h.9v.9h-.9zM179.0 219.5h.9v.9h-.9zM186.2 218.3h.9v.9h-.9zM184.5 206.6h.9v.9h-.9zM167.5 224.3h.9v.9h-.9zM187.1 206.6h.9v.9h-.9zM187.7 217.5h.9v.9h-.9zM162.5 219.1h.9v.9h-.9zM172.3 220.9h.9v.9h-.9zM174.4 208.0h.9v.9h-.9zM168.6 211.5h.9v.9h-.9zM185.9 208.5h.9v.9h-.9zM166.5 227.5h.9v.9h-.9zM191.4 217.7h.9v.9h-.9zM175.4 204.8h.9v.9h-.9zM168.0 216.8h.9v.9h-.9zM187.8 205.9h.9v.9h-.9zM179.0 211.1h.9v.9h-.9zM177.3 216.4h.9v.9h-.9zM193.1 208.7h.9v.9h-.9zM184.7 220.3h.9v.9h-.9zM177.1 212.0h.9v.9h-.9zM170.0 220.3h.9v.9h-.9zM175.4 208.6h.9v.9h-.9zM179.5 207.2h.9v.9h-.9zM172.0 211.0h.9v.9h-.9zM189.0 211.6h.9v.9h-.9zM182.6 203.1h.9v.9h-.9zM165.9 225.3h.9v.9h-.9zM176.3 202.6h.9v.9h-.9zM178.3 217.1h.9v.9h-.9zM167.3 207.0h.9v.9h-.9zM180.8 206.8h.9v.9h-.9zM184.4 219.5h.9v.9h-.9zM182.0 210.1h.9v.9h-.9zM178.7 208.7h.9v.9h-.9zM178.1 215.1h.9v.9h-.9zM177.0 219.6h.9v.9h-.9zM196.5 209.3h.9v.9h-.9zM181.3 218.6h.9v.9h-.9zM183.4 211.4h.9v.9h-.9zM175.8 219.8h.9v.9h-.9zM183.2 216.4h.9v.9h-.9zM173.6 217.3h.9v.9h-.9zM184.4 211.7h.9v.9h-.9zM183.4 227.7h.9v.9h-.9zM166.3 217.1h.9v.9h-.9zM171.1 203.8h.9v.9h-.9zM171.1 185.7h.9v.9h-.9zM172.2 174.1h.9v.9h-.9zM166.4 178.2h.9v.9h-.9zM172.1 176.4h.9v.9h-.9zM166.2 193.9h.9v.9h-.9zM168.8 180.9h.9v.9h-.9zM169.9 178.0h.9v.9h-.9zM172.2 180.0h.9v.9h-.9zM174.4 174.0h.9v.9h-.9zM166.2 195.2h.9v.9h-.9zM171.7 187.2h.9v.9h-.9zM176.6 185.8h.9v.9h-.9zM172.1 171.5h.9v.9h-.9zM165.8 188.6h.9v.9h-.9zM174.6 185.9h.9v.9h-.9zM165.6 167.5h.9v.9h-.9zM167.9 174.0h.9v.9h-.9zM172.6 175.1h.9v.9h-.9zM178.1 177.8h.9v.9h-.9zM169.8 187.9h.9v.9h-.9zM173.3 175.9h.9v.9h-.9zM175.2 195.0h.9v.9h-.9zM167.2 180.3h.9v.9h-.9zM167.8 168.8h.9v.9h-.9zM174.4 186.7h.9v.9h-.9zM175.8 184.9h.9v.9h-.9zM164.2 181.8h.9v.9h-.9zM169.4 174.0h.9v.9h-.9zM167.7 187.2h.9v.9h-.9zM170.8 195.4h.9v.9h-.9zM173.8 169.0h.9v.9h-.9zM175.5 190.5h.9v.9h-.9zM172.1 173.8h.9v.9h-.9zM178.9 173.1h.9v.9h-.9zM171.7 169.0h.9v.9h-.9zM167.1 170.4h.9v.9h-.9zM176.2 190.0h.9v.9h-.9zM170.4 172.8h.9v.9h-.9zM171.8 184.6h.9v.9h-.9zM166.1 174.1h.9v.9h-.9zM171.6 186.8h.9v.9h-.9zM172.3 185.1h.9v.9h-.9zM167.1 165.0h.9v.9h-.9zM173.2 175.7h.9v.9h-.9zM171.5 179.4h.9v.9h-.9zM173.9 176.7h.9v.9h-.9zM177.6 182.2h.9v.9h-.9zM174.1 186.3h.9v.9h-.9zM176.0 184.8h.9v.9h-.9zM165.2 177.7h.9v.9h-.9zM179.3 185.2h.9v.9h-.9zM174.2 185.2h.9v.9h-.9zM169.5 177.4h.9v.9h-.9zM169.5 189.9h.9v.9h-.9zM173.4 194.2h.9v.9h-.9zM173.9 194.9h.9v.9h-.9zM173.8 173.9h.9v.9h-.9zM178.8 184.3h.9v.9h-.9zM176.7 183.5h.9v.9h-.9zM170.7 183.2h.9v.9h-.9zM167.6 173.8h.9v.9h-.9zM168.5 178.4h.9v.9h-.9zM166.7 181.3h.9v.9h-.9zM173.2 195.9h.9v.9h-.9zM179.2 181.7h.9v.9h-.9zM175.5 180.5h.9v.9h-.9zM173.5 181.8h.9v.9h-.9zM169.9 182.5h.9v.9h-.9zM166.2 185.0h.9v.9h-.9zM170.9 174.6h.9v.9h-.9zM170.6 185.8h.9v.9h-.9zM169.3 185.3h.9v.9h-.9zM174.2 192.7h.9v.9h-.9zM167.7 181.2h.9v.9h-.9zM174.0 192.3h.9v.9h-.9zM173.0 187.2h.9v.9h-.9zM166.2 178.0h.9v.9h-.9zM178.5 180.0h.9v.9h-.9zM180.5 177.0h.9v.9h-.9zM170.9 171.0h.9v.9h-.9zM174.5 183.8h.9v.9h-.9zM180.0 183.1h.9v.9h-.9zM171.0 172.3h.9v.9h-.9zM171.7 188.5h.9v.9h-.9zM174.9 190.5h.9v.9h-.9zM175.4 181.7h.9v.9h-.9zM174.4 183.2h.9v.9h-.9zM166.7 193.8h.9v.9h-.9zM173.5 174.7h.9v.9h-.9zM173.5 184.0h.9v.9h-.9zM175.9 192.0h.9v.9h-.9zM160.0 185.8h.9v.9h-.9zM178.1 175.4h.9v.9h-.9zM164.7 183.9h.9v.9h-.9zM173.3 184.4h.9v.9h-.9zM167.6 178.8h.9v.9h-.9zM172.8 187.2h.9v.9h-.9zM180.7 184.0h.9v.9h-.9zM169.6 165.6h.9v.9h-.9zM176.3 181.1h.9v.9h-.9zM171.6 175.1h.9v.9h-.9zM174.9 169.6h.9v.9h-.9zM172.4 182.8h.9v.9h-.9zM173.2 191.1h.9v.9h-.9zM171.6 182.7h.9v.9h-.9zM175.4 171.2h.9v.9h-.9zM170.8 182.5h.9v.9h-.9zM175.8 176.4h.9v.9h-.9zM175.2 184.7h.9v.9h-.9zM166.1 171.7h.9v.9h-.9zM166.3 183.0h.9v.9h-.9zM172.8 187.0h.9v.9h-.9zM175.3 178.2h.9v.9h-.9zM176.2 187.7h.9v.9h-.9zM173.9 185.3h.9v.9h-.9zM166.9 184.5h.9v.9h-.9zM167.9 173.7h.9v.9h-.9zM170.6 183.0h.9v.9h-.9zM171.8 179.7h.9v.9h-.9zM168.0 183.3h.9v.9h-.9zM169.1 172.2h.9v.9h-.9zM172.4 192.1h.9v.9h-.9zM170.4 174.6h.9v.9h-.9zM177.5 193.9h.9v.9h-.9zM170.8 180.5h.9v.9h-.9zM172.8 202.5h.9v.9h-.9zM172.5 188.9h.9v.9h-.9zM173.8 169.3h.9v.9h-.9zM167.6 173.4h.9v.9h-.9zM173.7 182.7h.9v.9h-.9zM179.1 180.1h.9v.9h-.9zM173.2 182.5h.9v.9h-.9zM172.6 198.1h.9v.9h-.9zM173.1 192.3h.9v.9h-.9zM177.2 177.8h.9v.9h-.9zM174.7 179.3h.9v.9h-.9zM172.4 183.1h.9v.9h-.9zM172.1 178.7h.9v.9h-.9zM178.2 180.2h.9v.9h-.9zM174.8 193.7h.9v.9h-.9zM174.5 189.2h.9v.9h-.9zM177.5 189.6h.9v.9h-.9zM178.9 172.0h.9v.9h-.9zM179.8 182.2h.9v.9h-.9zM165.0 177.5h.9v.9h-.9zM166.4 181.8h.9v.9h-.9zM166.1 175.0h.9v.9h-.9zM173.2 183.1h.9v.9h-.9zM168.8 180.4h.9v.9h-.9zM171.6 182.5h.9v.9h-.9zM172.0 180.5h.9v.9h-.9zM175.5 170.8h.9v.9h-.9zM170.0 182.9h.9v.9h-.9zM170.4 178.1h.9v.9h-.9zM170.3 183.5h.9v.9h-.9zM177.0 180.7h.9v.9h-.9zM170.9 184.5h.9v.9h-.9zM171.0 168.5h.9v.9h-.9zM173.1 179.4h.9v.9h-.9zM169.7 186.4h.9v.9h-.9zM172.2 178.1h.9v.9h-.9zM163.3 170.0h.9v.9h-.9zM172.1 181.2h.9v.9h-.9zM173.8 183.6h.9v.9h-.9zM170.1 173.2h.9v.9h-.9zM167.6 181.0h.9v.9h-.9zM167.4 187.3h.9v.9h-.9zM166.7 169.5h.9v.9h-.9zM171.2 169.6h.9v.9h-.9zM178.5 175.1h.9v.9h-.9zM171.8 180.3h.9v.9h-.9zM168.7 169.6h.9v.9h-.9zM164.6 188.1h.9v.9h-.9zM176.1 197.1h.9v.9h-.9zM166.2 185.9h.9v.9h-.9zM171.9 187.9h.9v.9h-.9zM169.9 187.0h.9v.9h-.9zM175.6 186.2h.9v.9h-.9zM177.8 180.8h.9v.9h-.9zM178.2 177.1h.9v.9h-.9zM178.7 162.8h.9v.9h-.9zM172.1 176.4h.9v.9h-.9zM172.0 189.2h.9v.9h-.9zM174.9 182.7h.9v.9h-.9zM178.8 171.7h.9v.9h-.9zM168.7 192.6h.9v.9h-.9zM173.3 167.5h.9v.9h-.9zM173.4 173.7h.9v.9h-.9zM177.9 190.0h.9v.9h-.9zM169.8 191.1h.9v.9h-.9zM168.7 188.4h.9v.9h-.9zM174.3 181.1h.9v.9h-.9zM166.3 180.0h.9v.9h-.9zM162.8 178.1h.9v.9h-.9zM164.6 190.5h.9v.9h-.9zM168.1 165.0h.9v.9h-.9zM174.3 184.6h.9v.9h-.9zM170.0 196.8h.9v.9h-.9zM175.1 182.5h.9v.9h-.9zM169.4 161.3h.9v.9h-.9zM173.9 188.7h.9v.9h-.9zM169.6 172.1h.9v.9h-.9zM171.8 170.3h.9v.9h-.9zM172.0 187.4h.9v.9h-.9zM178.0 183.9h.9v.9h-.9zM172.8 187.2h.9v.9h-.9zM177.6 179.8h.9v.9h-.9zM167.1 176.5h.9v.9h-.9zM167.0 175.8h.9v.9h-.9zM171.5 184.4h.9v.9h-.9zM172.6 182.5h.9v.9h-.9zM170.6 185.0h.9v.9h-.9zM175.5 187.3h.9v.9h-.9zM178.0 180.0h.9v.9h-.9zM171.0 193.9h.9v.9h-.9zM172.8 184.9h.9v.9h-.9zM170.7 188.8h.9v.9h-.9zM170.4 174.9h.9v.9h-.9zM171.8 178.9h.9v.9h-.9zM175.3 179.4h.9v.9h-.9zM172.5 180.5h.9v.9h-.9zM173.4 177.6h.9v.9h-.9zM176.4 172.0h.9v.9h-.9zM170.5 177.0h.9v.9h-.9zM174.6 182.3h.9v.9h-.9zM173.9 179.7h.9v.9h-.9zM169.1 174.2h.9v.9h-.9zM170.7 178.3h.9v.9h-.9zM173.1 184.5h.9v.9h-.9zM175.9 181.3h.9v.9h-.9zM169.0 174.6h.9v.9h-.9zM172.2 184.5h.9v.9h-.9zM179.8 183.3h.9v.9h-.9zM179.0 195.1h.9v.9h-.9zM167.8 190.5h.9v.9h-.9zM176.5 191.4h.9v.9h-.9zM172.0 188.7h.9v.9h-.9zM170.1 181.5h.9v.9h-.9zM172.1 194.5h.9v.9h-.9zM171.1 188.7h.9v.9h-.9zM172.3 177.0h.9v.9h-.9zM173.0 186.6h.9v.9h-.9zM169.2 186.4h.9v.9h-.9zM169.2 175.9h.9v.9h-.9zM172.9 180.4h.9v.9h-.9zM168.1 170.6h.9v.9h-.9zM172.1 183.7h.9v.9h-.9zM170.2 183.3h.9v.9h-.9zM165.9 184.7h.9v.9h-.9zM173.7 183.9h.9v.9h-.9zM169.5 182.6h.9v.9h-.9zM172.5 189.5h.9v.9h-.9zM173.1 183.8h.9v.9h-.9zM169.1 188.0h.9v.9h-.9zM176.7 178.5h.9v.9h-.9zM174.6 184.2h.9v.9h-.9zM171.8 173.0h.9v.9h-.9zM179.0 168.9h.9v.9h-.9zM173.2 179.4h.9v.9h-.9zM176.6 179.0h.9v.9h-.9zM187.3 209.9h.9v.9h-.9zM190.6 200.8h.9v.9h-.9zM192.4 208.1h.9v.9h-.9zM194.9 200.9h.9v.9h-.9zM186.6 201.9h.9v.9h-.9zM180.3 207.0h.9v.9h-.9zM190.3 216.3h.9v.9h-.9zM184.4 208.1h.9v.9h-.9zM196.1 204.1h.9v.9h-.9zM187.5 206.1h.9v.9h-.9zM181.5 197.1h.9v.9h-.9zM195.9 206.4h.9v.9h-.9zM186.4 195.1h.9v.9h-.9zM187.9 214.4h.9v.9h-.9zM177.8 197.9h.9v.9h-.9zM195.8 216.4h.9v.9h-.9zM199.4 200.6h.9v.9h-.9zM191.8 199.0h.9v.9h-.9zM191.1 202.1h.9v.9h-.9zM188.6 215.7h.9v.9h-.9zM189.7 203.1h.9v.9h-.9zM187.4 207.1h.9v.9h-.9zM182.9 206.6h.9v.9h-.9zM191.8 217.4h.9v.9h-.9zM170.6 195.5h.9v.9h-.9zM177.2 212.0h.9v.9h-.9zM206.4 206.5h.9v.9h-.9zM188.0 214.1h.9v.9h-.9zM167.6 203.6h.9v.9h-.9zM162.2 206.2h.9v.9h-.9zM183.0 201.1h.9v.9h-.9zM189.7 200.4h.9v.9h-.9zM195.8 205.0h.9v.9h-.9zM190.0 225.2h.9v.9h-.9zM183.4 212.4h.9v.9h-.9zM180.4 214.9h.9v.9h-.9zM194.7 206.1h.9v.9h-.9zM194.9 217.8h.9v.9h-.9zM197.9 205.0h.9v.9h-.9zM186.6 213.8h.9v.9h-.9zM175.3 200.2h.9v.9h-.9zM190.8 209.5h.9v.9h-.9zM201.8 219.0h.9v.9h-.9zM189.6 208.5h.9v.9h-.9zM176.5 203.5h.9v.9h-.9zM189.1 203.2h.9v.9h-.9zM187.5 209.8h.9v.9h-.9zM179.5 200.5h.9v.9h-.9zM172.9 214.1h.9v.9h-.9zM178.6 191.5h.9v.9h-.9zM193.1 203.3h.9v.9h-.9zM194.7 202.1h.9v.9h-.9zM203.8 210.7h.9v.9h-.9zM188.2 205.9h.9v.9h-.9zM185.4 211.4h.9v.9h-.9zM202.8 201.7h.9v.9h-.9zM178.4 209.7h.9v.9h-.9zM195.4 193.2h.9v.9h-.9zM181.5 197.1h.9v.9h-.9zM191.4 209.0h.9v.9h-.9zM181.2 196.1h.9v.9h-.9zM192.4 188.8h.9v.9h-.9zM192.1 203.8h.9v.9h-.9zM202.2 212.9h.9v.9h-.9zM182.4 202.8h.9v.9h-.9zM184.8 199.3h.9v.9h-.9zM187.6 212.6h.9v.9h-.9zM175.1 203.2h.9v.9h-.9zM198.8 210.9h.9v.9h-.9zM180.6 198.6h.9v.9h-.9zM180.3 192.3h.9v.9h-.9zM196.1 205.5h.9v.9h-.9zM181.5 193.7h.9v.9h-.9zM184.0 201.0h.9v.9h-.9zM200.6 201.4h.9v.9h-.9zM187.9 213.4h.9v.9h-.9zM192.3 203.6h.9v.9h-.9zM169.8 216.0h.9v.9h-.9zM191.7 201.6h.9v.9h-.9zM186.3 197.5h.9v.9h-.9zM179.9 193.3h.9v.9h-.9zM190.9 209.1h.9v.9h-.9zM188.4 211.1h.9v.9h-.9zM191.2 206.0h.9v.9h-.9zM180.1 209.6h.9v.9h-.9zM196.3 210.0h.9v.9h-.9zM196.8 201.3h.9v.9h-.9zM179.3 214.8h.9v.9h-.9zM182.4 206.9h.9v.9h-.9zM185.5 205.2h.9v.9h-.9zM184.9 200.8h.9v.9h-.9zM173.0 220.0h.9v.9h-.9zM188.6 189.9h.9v.9h-.9zM179.9 196.2h.9v.9h-.9zM181.2 185.0h.9v.9h-.9zM191.5 217.9h.9v.9h-.9zM185.1 210.8h.9v.9h-.9zM191.7 195.2h.9v.9h-.9zM196.6 191.8h.9v.9h-.9zM182.5 202.2h.9v.9h-.9zM196.9 205.9h.9v.9h-.9zM186.0 198.7h.9v.9h-.9zM187.7 205.3h.9v.9h-.9zM192.7 215.9h.9v.9h-.9zM192.8 205.1h.9v.9h-.9zM185.8 217.5h.9v.9h-.9zM188.6 204.9h.9v.9h-.9zM201.1 217.3h.9v.9h-.9zM191.5 204.1h.9v.9h-.9zM182.0 213.4h.9v.9h-.9zM183.5 212.5h.9v.9h-.9zM180.9 205.8h.9v.9h-.9zM190.2 206.1h.9v.9h-.9zM188.8 208.0h.9v.9h-.9zM178.2 196.3h.9v.9h-.9zM185.8 219.1h.9v.9h-.9zM186.0 197.7h.9v.9h-.9zM181.8 205.3h.9v.9h-.9zM196.3 200.6h.9v.9h-.9zM191.4 206.5h.9v.9h-.9zM184.2 197.6h.9v.9h-.9zM185.8 199.3h.9v.9h-.9zM191.2 191.2h.9v.9h-.9zM195.8 210.9h.9v.9h-.9zM191.5 216.7h.9v.9h-.9zM191.7 191.6h.9v.9h-.9zM187.4 208.5h.9v.9h-.9zM181.7 196.2h.9v.9h-.9zM190.4 209.0h.9v.9h-.9zM183.7 203.1h.9v.9h-.9zM183.0 200.6h.9v.9h-.9zM186.6 213.4h.9v.9h-.9zM174.4 202.3h.9v.9h-.9zM199.6 207.5h.9v.9h-.9zM188.2 211.5h.9v.9h-.9zM179.2 195.6h.9v.9h-.9zM174.1 193.6h.9v.9h-.9zM188.9 211.6h.9v.9h-.9zM183.8 199.7h.9v.9h-.9zM190.2 209.8h.9v.9h-.9zM189.0 190.1h.9v.9h-.9zM182.8 185.3h.9v.9h-.9zM188.9 198.4h.9v.9h-.9zM181.9 216.7h.9v.9h-.9zM197.3 208.8h.9v.9h-.9zM189.2 206.3h.9v.9h-.9zM182.4 204.6h.9v.9h-.9zM201.9 198.2h.9v.9h-.9zM181.8 206.3h.9v.9h-.9zM194.0 211.5h.9v.9h-.9zM179.5 204.0h.9v.9h-.9zM184.9 195.4h.9v.9h-.9zM187.6 201.3h.9v.9h-.9zM194.2 208.4h.9v.9h-.9zM180.9 205.6h.9v.9h-.9zM184.2 200.1h.9v.9h-.9zM183.2 213.3h.9v.9h-.9zM183.8 191.7h.9v.9h-.9zM181.0 211.3h.9v.9h-.9zM203.8 196.8h.9v.9h-.9zM184.2 202.4h.9v.9h-.9zM176.1 208.1h.9v.9h-.9zM186.6 207.2h.9v.9h-.9zM204.4 202.9h.9v.9h-.9zM193.2 211.5h.9v.9h-.9zM182.1 200.4h.9v.9h-.9zM199.1 210.6h.9v.9h-.9zM188.1 196.5h.9v.9h-.9zM193.9 209.1h.9v.9h-.9zM204.1 216.5h.9v.9h-.9zM193.3 207.1h.9v.9h-.9zM187.5 200.7h.9v.9h-.9zM189.4 206.9h.9v.9h-.9zM192.1 213.5h.9v.9h-.9zM189.4 200.8h.9v.9h-.9zM193.3 217.1h.9v.9h-.9zM180.5 208.3h.9v.9h-.9zM191.3 209.2h.9v.9h-.9zM190.9 204.3h.9v.9h-.9zM186.2 218.1h.9v.9h-.9zM200.5 194.1h.9v.9h-.9zM167.3 208.4h.9v.9h-.9zM181.8 201.0h.9v.9h-.9zM174.6 207.8h.9v.9h-.9zM186.6 200.8h.9v.9h-.9zM194.0 223.9h.9v.9h-.9zM198.5 214.1h.9v.9h-.9zM183.8 210.1h.9v.9h-.9zM186.7 214.0h.9v.9h-.9zM191.5 204.7h.9v.9h-.9zM191.3 199.4h.9v.9h-.9zM193.2 216.7h.9v.9h-.9zM184.2 209.3h.9v.9h-.9zM174.1 212.3h.9v.9h-.9zM193.8 197.1h.9v.9h-.9zM200.6 205.9h.9v.9h-.9zM173.6 194.4h.9v.9h-.9zM193.8 202.9h.9v.9h-.9zM195.6 193.0h.9v.9h-.9zM186.2 212.6h.9v.9h-.9zM181.7 210.3h.9v.9h-.9zM184.2 207.7h.9v.9h-.9zM189.5 222.4h.9v.9h-.9zM177.4 211.1h.9v.9h-.9zM197.2 196.3h.9v.9h-.9zM187.6 223.0h.9v.9h-.9zM195.2 181.9h.9v.9h-.9zM185.2 191.7h.9v.9h-.9zM189.4 199.4h.9v.9h-.9zM182.6 198.5h.9v.9h-.9zM189.3 201.4h.9v.9h-.9zM180.0 203.2h.9v.9h-.9zM190.2 198.3h.9v.9h-.9zM195.6 192.1h.9v.9h-.9zM190.2 202.0h.9v.9h-.9zM199.2 200.0h.9v.9h-.9zM181.8 194.6h.9v.9h-.9zM202.4 209.8h.9v.9h-.9zM178.6 202.4h.9v.9h-.9zM179.6 216.8h.9v.9h-.9zM190.2 189.2h.9v.9h-.9zM188.6 212.1h.9v.9h-.9zM187.0 208.7h.9v.9h-.9zM186.1 206.6h.9v.9h-.9zM188.7 199.5h.9v.9h-.9zM189.7 206.3h.9v.9h-.9zM186.7 199.7h.9v.9h-.9zM179.1 206.9h.9v.9h-.9zM193.4 186.2h.9v.9h-.9zM182.8 215.5h.9v.9h-.9zM194.1 199.5h.9v.9h-.9zM197.5 197.3h.9v.9h-.9zM180.9 220.1h.9v.9h-.9zM183.6 203.3h.9v.9h-.9zM174.2 197.1h.9v.9h-.9zM177.9 203.9h.9v.9h-.9zM172.7 213.3h.9v.9h-.9zM184.2 200.3h.9v.9h-.9zM182.1 210.8h.9v.9h-.9zM198.9 201.8h.9v.9h-.9zM199.6 217.5h.9v.9h-.9zM197.4 207.3h.9v.9h-.9zM175.4 210.2h.9v.9h-.9zM183.8 206.5h.9v.9h-.9zM172.3 202.8h.9v.9h-.9zM188.8 197.7h.9v.9h-.9zM189.3 218.0h.9v.9h-.9zM188.8 199.7h.9v.9h-.9zM205.6 188.2h.9v.9h-.9zM179.8 208.2h.9v.9h-.9zM182.4 187.1h.9v.9h-.9zM189.0 211.5h.9v.9h-.9zM180.8 216.4h.9v.9h-.9zM190.9 214.3h.9v.9h-.9zM175.1 205.0h.9v.9h-.9zM199.5 220.7h.9v.9h-.9zM197.3 205.0h.9v.9h-.9zM188.4 200.1h.9v.9h-.9zM195.6 199.6h.9v.9h-.9zM188.0 188.9h.9v.9h-.9zM175.3 218.9h.9v.9h-.9zM187.5 206.7h.9v.9h-.9zM169.9 204.7h.9v.9h-.9zM203.1 193.3h.9v.9h-.9zM168.5 203.7h.9v.9h-.9zM182.9 203.4h.9v.9h-.9zM177.2 194.4h.9v.9h-.9zM177.4 210.0h.9v.9h-.9zM186.6 211.4h.9v.9h-.9zM178.6 209.6h.9v.9h-.9zM183.5 205.7h.9v.9h-.9zM194.3 205.3h.9v.9h-.9zM184.3 192.0h.9v.9h-.9zM187.5 211.1h.9v.9h-.9zM182.1 204.5h.9v.9h-.9zM173.2 194.6h.9v.9h-.9zM190.2 215.1h.9v.9h-.9zM184.6 191.9h.9v.9h-.9zM184.0 192.8h.9v.9h-.9zM184.8 220.1h.9v.9h-.9zM189.3 203.8h.9v.9h-.9zM195.1 202.0h.9v.9h-.9zM189.6 206.6h.9v.9h-.9zM190.5 193.5h.9v.9h-.9zM192.6 211.9h.9v.9h-.9zM169.1 183.7h.9v.9h-.9zM180.0 216.7h.9v.9h-.9zM187.2 210.3h.9v.9h-.9zM191.4 212.0h.9v.9h-.9zM182.0 200.4h.9v.9h-.9zM190.0 209.8h.9v.9h-.9zM191.5 207.7h.9v.9h-.9zM183.2 213.7h.9v.9h-.9zM190.7 213.4h.9v.9h-.9zM167.0 212.9h.9v.9h-.9zM167.8 206.7h.9v.9h-.9zM181.8 205.9h.9v.9h-.9zM183.3 202.6h.9v.9h-.9zM188.5 207.7h.9v.9h-.9zM180.7 185.1h.9v.9h-.9zM196.2 189.2h.9v.9h-.9zM197.7 189.0h.9v.9h-.9zM216.1 191.2h.9v.9h-.9zM178.9 216.1h.9v.9h-.9zM207.9 170.8h.9v.9h-.9zM227.0 208.9h.9v.9h-.9zM192.9 203.7h.9v.9h-.9zM231.9 191.7h.9v.9h-.9zM198.2 186.2h.9v.9h-.9zM206.6 205.4h.9v.9h-.9zM219.1 220.5h.9v.9h-.9zM178.4 189.8h.9v.9h-.9zM227.2 212.2h.9v.9h-.9zM209.1 206.2h.9v.9h-.9zM191.9 220.3h.9v.9h-.9zM206.3 191.7h.9v.9h-.9zM181.0 176.6h.9v.9h-.9zM230.3 212.7h.9v.9h-.9zM170.2 187.5h.9v.9h-.9zM201.5 196.6h.9v.9h-.9zM193.5 217.7h.9v.9h-.9zM192.5 198.5h.9v.9h-.9zM232.5 204.2h.9v.9h-.9zM201.3 188.0h.9v.9h-.9zM195.1 202.6h.9v.9h-.9zM222.6 184.2h.9v.9h-.9zM194.0 190.9h.9v.9h-.9zM193.4 218.6h.9v.9h-.9zM205.6 185.0h.9v.9h-.9zM191.3 213.8h.9v.9h-.9zM179.5 206.9h.9v.9h-.9zM169.9 180.7h.9v.9h-.9zM172.5 213.0h.9v.9h-.9zM178.5 182.5h.9v.9h-.9zM172.4 184.4h.9v.9h-.9zM219.0 208.5h.9v.9h-.9zM231.2 220.4h.9v.9h-.9zM206.4 219.1h.9v.9h-.9zM174.6 219.3h.9v.9h-.9zM198.3 180.7h.9v.9h-.9zM220.0 215.7h.9v.9h-.9zM195.0 175.4h.9v.9h-.9zM228.6 210.2h.9v.9h-.9zM209.6 222.0h.9v.9h-.9zM171.0 173.4h.9v.9h-.9zM177.0 171.6h.9v.9h-.9zM217.3 203.7h.9v.9h-.9zM176.2 179.0h.9v.9h-.9zM180.9 202.6h.9v.9h-.9zM214.8 221.6h.9v.9h-.9zM193.3 222.1h.9v.9h-.9zM198.4 191.1h.9v.9h-.9zM185.9 182.8h.9v.9h-.9zM235.6 222.9h.9v.9h-.9zM217.1 179.7h.9v.9h-.9zM180.8 178.5h.9v.9h-.9zM192.6 209.3h.9v.9h-.9zM172.5 198.4h.9v.9h-.9zM215.4 172.3h.9v.9h-.9zM198.7 212.2h.9v.9h-.9zM208.1 194.3h.9v.9h-.9zM229.2 202.2h.9v.9h-.9zM191.7 191.4h.9v.9h-.9zM233.5 215.8h.9v.9h-.9zM231.5 200.1h.9v.9h-.9zM178.2 179.7h.9v.9h-.9zM194.8 206.9h.9v.9h-.9zM168.7 212.8h.9v.9h-.9zM222.6 197.6h.9v.9h-.9zM168.8 212.6h.9v.9h-.9zM197.0 205.8h.9v.9h-.9zM207.7 208.9h.9v.9h-.9zM196.6 221.1h.9v.9h-.9zM234.3 219.5h.9v.9h-.9zM210.8 187.2h.9v.9h-.9zM194.4 184.7h.9v.9h-.9zM230.8 212.2h.9v.9h-.9zM222.8 213.8h.9v.9h-.9zM236.8 206.8h.9v.9h-.9zM190.4 210.4h.9v.9h-.9zM207.8 197.4h.9v.9h-.9zM210.0 197.8h.9v.9h-.9zM206.5 195.9h.9v.9h-.9zM208.7 195.6h.9v.9h-.9zM210.9 194.9h.9v.9h-.9zM209.9 197.4h.9v.9h-.9zM204.3 194.6h.9v.9h-.9zM206.3 195.1h.9v.9h-.9zM208.7 195.6h.9v.9h-.9zM208.1 195.2h.9v.9h-.9zM207.8 196.4h.9v.9h-.9zM209.4 194.9h.9v.9h-.9zM207.8 194.9h.9v.9h-.9zM207.7 194.1h.9v.9h-.9zM209.8 196.6h.9v.9h-.9zM207.8 195.0h.9v.9h-.9zM207.1 195.0h.9v.9h-.9zM205.1 197.8h.9v.9h-.9zM214.3 194.3h.9v.9h-.9zM205.8 196.5h.9v.9h-.9zM209.2 193.9h.9v.9h-.9zM204.4 196.5h.9v.9h-.9zM204.2 197.5h.9v.9h-.9zM207.1 195.9h.9v.9h-.9zM208.0 195.1h.9v.9h-.9zM207.7 195.4h.9v.9h-.9zM210.4 195.7h.9v.9h-.9zM207.9 195.2h.9v.9h-.9zM206.8 194.9h.9v.9h-.9zM208.0 198.0h.9v.9h-.9zM210.1 196.1h.9v.9h-.9zM211.2 197.0h.9v.9h-.9zM208.4 195.6h.9v.9h-.9zM205.9 196.1h.9v.9h-.9zM207.4 193.9h.9v.9h-.9zM205.6 198.1h.9v.9h-.9zM208.4 196.4h.9v.9h-.9zM208.4 195.2h.9v.9h-.9zM208.9 197.1h.9v.9h-.9zM207.4 196.4h.9v.9h-.9zM209.9 195.2h.9v.9h-.9zM208.3 194.9h.9v.9h-.9zM209.1 195.4h.9v.9h-.9zM210.2 194.9h.9v.9h-.9zM211.2 195.4h.9v.9h-.9zM206.4 194.7h.9v.9h-.9zM209.3 194.8h.9v.9h-.9zM211.4 197.3h.9v.9h-.9zM209.0 194.1h.9v.9h-.9zM208.0 194.9h.9v.9h-.9zM204.6 196.3h.9v.9h-.9zM212.2 195.2h.9v.9h-.9zM209.5 197.3h.9v.9h-.9zM206.2 195.4h.9v.9h-.9zM208.5 196.4h.9v.9h-.9zM205.8 196.1h.9v.9h-.9zM207.8 196.9h.9v.9h-.9zM205.0 195.1h.9v.9h-.9zM207.0 195.4h.9v.9h-.9zM209.4 195.0h.9v.9h-.9zM213.2 195.0h.9v.9h-.9zM209.6 197.0h.9v.9h-.9zM209.8 195.6h.9v.9h-.9zM206.4 195.5h.9v.9h-.9zM209.3 195.9h.9v.9h-.9zM209.1 196.5h.9v.9h-.9zM206.3 194.7h.9v.9h-.9zM210.7 195.2h.9v.9h-.9zM205.0 198.0h.9v.9h-.9zM206.4 194.7h.9v.9h-.9zM209.8 194.4h.9v.9h-.9zM206.3 197.1h.9v.9h-.9zM206.4 198.8h.9v.9h-.9zM208.2 199.0h.9v.9h-.9zM208.2 195.9h.9v.9h-.9zM206.8 195.5h.9v.9h-.9zM207.0 195.8h.9v.9h-.9zM209.5 194.3h.9v.9h-.9zM206.3 193.3h.9v.9h-.9zM210.9 195.7h.9v.9h-.9zM208.0 195.7h.9v.9h-.9zM209.9 196.2h.9v.9h-.9zM209.6 195.6h.9v.9h-.9zM207.8 195.7h.9v.9h-.9zM204.5 197.1h.9v.9h-.9zM205.0 194.6h.9v.9h-.9zM209.3 195.9h.9v.9h-.9zM209.5 197.8h.9v.9h-.9zM211.5 197.5h.9v.9h-.9zM207.6 198.3h.9v.9h-.9zM206.3 195.7h.9v.9h-.9zM209.9 195.5h.9v.9h-.9zM207.8 195.4h.9v.9h-.9zM210.6 192.8h.9v.9h-.9zM210.4 197.1h.9v.9h-.9zM207.9 196.5h.9v.9h-.9zM206.2 197.1h.9v.9h-.9zM213.8 194.7h.9v.9h-.9zM210.7 195.7h.9v.9h-.9zM207.4 195.2h.9v.9h-.9zM207.6 194.3h.9v.9h-.9zM205.4 197.8h.9v.9h-.9zM208.0 196.5h.9v.9h-.9zM208.6 196.4h.9v.9h-.9zM205.1 194.7h.9v.9h-.9zM209.2 197.0h.9v.9h-.9zM205.8 195.1h.9v.9h-.9zM206.0 196.6h.9v.9h-.9zM208.7 195.8h.9v.9h-.9zM206.8 196.2h.9v.9h-.9zM208.1 194.9h.9v.9h-.9zM208.6 195.0h.9v.9h-.9zM209.8 196.6h.9v.9h-.9zM206.7 196.5h.9v.9h-.9zM208.1 195.0h.9v.9h-.9zM206.3 193.8h.9v.9h-.9zM205.9 196.2h.9v.9h-.9zM210.3 195.0h.9v.9h-.9zM208.3 196.2h.9v.9h-.9zM209.5 196.3h.9v.9h-.9zM210.3 196.7h.9v.9h-.9zM206.6 196.3h.9v.9h-.9zM203.6 195.6h.9v.9h-.9zM208.0 196.5h.9v.9h-.9zM207.4 196.8h.9v.9h-.9zM210.5 194.8h.9v.9h-.9zM207.0 196.1h.9v.9h-.9zM208.9 196.0h.9v.9h-.9zM209.6 194.4h.9v.9h-.9zM209.5 197.2h.9v.9h-.9zM210.1 196.3h.9v.9h-.9zM207.5 196.3h.9v.9h-.9zM207.9 193.9h.9v.9h-.9zM206.8 195.8h.9v.9h-.9zM207.0 194.7h.9v.9h-.9zM207.6 195.4h.9v.9h-.9zM208.1 195.7h.9v.9h-.9zM208.3 197.0h.9v.9h-.9zM208.3 196.3h.9v.9h-.9zM205.7 192.3h.9v.9h-.9zM207.2 196.6h.9v.9h-.9zM207.4 195.1h.9v.9h-.9zM205.6 196.9h.9v.9h-.9zM207.0 196.1h.9v.9h-.9zM210.1 196.4h.9v.9h-.9zM212.3 195.6h.9v.9h-.9zM209.8 196.6h.9v.9h-.9zM206.8 195.9h.9v.9h-.9zM206.9 194.6h.9v.9h-.9zM208.6 194.9h.9v.9h-.9zM211.2 194.9h.9v.9h-.9zM207.0 195.9h.9v.9h-.9zM207.0 195.9h.9v.9h-.9zM206.8 194.1h.9v.9h-.9zM203.4 194.3h.9v.9h-.9zM210.9 196.3h.9v.9h-.9zM208.3 195.2h.9v.9h-.9zM207.7 196.2h.9v.9h-.9zM205.4 194.8h.9v.9h-.9zM206.3 197.3h.9v.9h-.9zM206.0 197.2h.9v.9h-.9zM207.1 199.1h.9v.9h-.9zM207.9 195.8h.9v.9h-.9zM210.6 196.8h.9v.9h-.9zM209.8 194.5h.9v.9h-.9zM210.2 197.8h.9v.9h-.9zM207.8 195.2h.9v.9h-.9zM205.9 197.0h.9v.9h-.9zM208.6 195.8h.9v.9h-.9zM205.7 197.7h.9v.9h-.9zM209.7 195.8h.9v.9h-.9zM210.8 194.7h.9v.9h-.9zM209.7 194.6h.9v.9h-.9zM210.7 195.5h.9v.9h-.9zM210.3 195.3h.9v.9h-.9zM208.8 197.2h.9v.9h-.9zM206.3 195.9h.9v.9h-.9zM206.4 196.8h.9v.9h-.9zM206.9 195.4h.9v.9h-.9zM207.6 197.2h.9v.9h-.9zM206.0 195.8h.9v.9h-.9zM207.4 195.1h.9v.9h-.9zM206.5 195.6h.9v.9h-.9zM208.4 193.9h.9v.9h-.9zM208.4 194.4h.9v.9h-.9zM208.0 198.5h.9v.9h-.9zM206.2 195.7h.9v.9h-.9zM207.5 197.0h.9v.9h-.9zM207.1 193.7h.9v.9h-.9zM204.9 196.0h.9v.9h-.9zM208.5 197.1h.9v.9h-.9zM207.0 196.6h.9v.9h-.9zM206.0 197.4h.9v.9h-.9zM207.9 195.0h.9v.9h-.9zM208.3 197.9h.9v.9h-.9zM206.4 194.3h.9v.9h-.9zM206.1 194.4h.9v.9h-.9zM207.9 196.2h.9v.9h-.9zM207.7 196.0h.9v.9h-.9zM210.3 195.5h.9v.9h-.9zM205.6 193.1h.9v.9h-.9zM208.5 195.0h.9v.9h-.9zM207.5 196.3h.9v.9h-.9zM208.9 193.9h.9v.9h-.9zM206.2 195.9h.9v.9h-.9zM207.7 197.2h.9v.9h-.9zM207.0 193.3h.9v.9h-.9zM210.2 193.8h.9v.9h-.9zM206.2 196.3h.9v.9h-.9zM206.0 198.8h.9v.9h-.9zM208.5 196.4h.9v.9h-.9zM207.2 198.5h.9v.9h-.9zM209.0 194.9h.9v.9h-.9zM210.4 193.8h.9v.9h-.9zM206.9 196.1h.9v.9h-.9zM208.3 194.6h.9v.9h-.9zM211.0 197.6h.9v.9h-.9zM206.2 196.2h.9v.9h-.9zM206.8 195.3h.9v.9h-.9zM209.9 196.0h.9v.9h-.9zM207.8 195.9h.9v.9h-.9zM205.8 197.3h.9v.9h-.9zM206.6 197.4h.9v.9h-.9zM207.1 195.3h.9v.9h-.9zM210.8 196.0h.9v.9h-.9zM206.8 195.2h.9v.9h-.9zM209.2 198.0h.9v.9h-.9zM209.2 195.3h.9v.9h-.9zM205.9 195.0h.9v.9h-.9zM207.8 196.1h.9v.9h-.9zM206.8 197.3h.9v.9h-.9zM206.2 194.9h.9v.9h-.9zM208.9 196.4h.9v.9h-.9zM207.3 197.0h.9v.9h-.9zM205.3 197.8h.9v.9h-.9zM212.2 198.1h.9v.9h-.9zM208.2 198.2h.9v.9h-.9zM208.1 197.4h.9v.9h-.9zM207.6 196.0h.9v.9h-.9zM209.0 193.7h.9v.9h-.9zM207.6 197.9h.9v.9h-.9zM202.4 196.3h.9v.9h-.9zM209.8 196.2h.9v.9h-.9zM208.4 197.5h.9v.9h-.9zM208.6 193.5h.9v.9h-.9zM206.2 195.4h.9v.9h-.9zM208.3 195.3h.9v.9h-.9zM207.8 197.8h.9v.9h-.9zM202.4 197.2h.9v.9h-.9zM209.8 196.5h.9v.9h-.9zM208.0 195.9h.9v.9h-.9zM208.7 196.1h.9v.9h-.9zM206.6 196.7h.9v.9h-.9zM206.4 195.8h.9v.9h-.9zM207.3 194.4h.9v.9h-.9zM209.1 195.7h.9v.9h-.9zM205.8 195.7h.9v.9h-.9zM205.4 197.5h.9v.9h-.9zM209.0 198.2h.9v.9h-.9zM206.9 196.6h.9v.9h-.9zM208.6 194.9h.9v.9h-.9zM210.8 196.5h.9v.9h-.9zM213.3 195.7h.9v.9h-.9zM213.8 197.3h.9v.9h-.9zM208.8 195.8h.9v.9h-.9zM208.7 198.2h.9v.9h-.9zM209.6 197.1h.9v.9h-.9zM213.3 195.7h.9v.9h-.9zM209.8 196.4h.9v.9h-.9zM209.1 194.4h.9v.9h-.9zM208.6 196.4h.9v.9h-.9zM211.5 198.3h.9v.9h-.9zM206.4 196.7h.9v.9h-.9zM208.1 197.5h.9v.9h-.9zM212.7 196.2h.9v.9h-.9zM214.7 195.5h.9v.9h-.9zM209.7 194.6h.9v.9h-.9zM209.4 196.1h.9v.9h-.9zM212.7 197.7h.9v.9h-.9zM210.3 195.1h.9v.9h-.9zM210.2 195.4h.9v.9h-.9zM209.8 195.5h.9v.9h-.9zM208.8 195.9h.9v.9h-.9zM209.7 195.8h.9v.9h-.9zM207.6 196.2h.9v.9h-.9zM212.4 196.8h.9v.9h-.9zM209.6 194.5h.9v.9h-.9zM207.8 194.5h.9v.9h-.9zM209.4 195.6h.9v.9h-.9zM206.6 196.9h.9v.9h-.9zM207.2 195.1h.9v.9h-.9zM209.2 197.1h.9v.9h-.9zM215.6 195.5h.9v.9h-.9zM210.3 195.5h.9v.9h-.9zM210.5 195.8h.9v.9h-.9zM217.1 194.6h.9v.9h-.9zM210.7 195.0h.9v.9h-.9zM211.9 195.3h.9v.9h-.9zM212.4 194.6h.9v.9h-.9zM216.2 196.3h.9v.9h-.9zM206.6 196.9h.9v.9h-.9zM209.8 194.5h.9v.9h-.9zM212.1 195.3h.9v.9h-.9zM212.8 195.3h.9v.9h-.9zM213.2 196.2h.9v.9h-.9zM211.9 196.2h.9v.9h-.9zM210.1 195.5h.9v.9h-.9zM212.1 196.9h.9v.9h-.9zM210.0 198.9h.9v.9h-.9zM215.2 194.5h.9v.9h-.9zM228.5 196.1h.9v.9h-.9zM227.3 195.1h.9v.9h-.9zM229.3 195.1h.9v.9h-.9zM226.9 195.2h.9v.9h-.9zM229.7 197.9h.9v.9h-.9zM225.2 195.6h.9v.9h-.9zM227.5 195.6h.9v.9h-.9zM226.5 194.7h.9v.9h-.9zM227.3 194.7h.9v.9h-.9zM228.2 199.5h.9v.9h-.9zM226.5 198.5h.9v.9h-.9zM227.5 195.3h.9v.9h-.9zM226.5 194.9h.9v.9h-.9zM227.2 197.2h.9v.9h-.9zM228.3 195.8h.9v.9h-.9zM225.4 196.1h.9v.9h-.9zM229.3 196.6h.9v.9h-.9zM226.9 193.3h.9v.9h-.9zM226.4 197.0h.9v.9h-.9zM225.7 198.1h.9v.9h-.9zM226.2 195.0h.9v.9h-.9zM226.2 196.1h.9v.9h-.9zM228.4 195.4h.9v.9h-.9zM224.5 196.1h.9v.9h-.9zM227.7 198.3h.9v.9h-.9zM225.5 198.2h.9v.9h-.9zM227.9 196.8h.9v.9h-.9zM225.9 195.0h.9v.9h-.9zM225.7 197.5h.9v.9h-.9zM227.3 197.7h.9v.9h-.9zM229.5 196.2h.9v.9h-.9zM226.9 198.8h.9v.9h-.9zM225.2 195.6h.9v.9h-.9zM226.5 195.7h.9v.9h-.9zM227.2 195.1h.9v.9h-.9zM228.6 194.3h.9v.9h-.9zM225.9 193.9h.9v.9h-.9zM225.1 197.0h.9v.9h-.9zM227.9 195.9h.9v.9h-.9zM228.2 197.1h.9v.9h-.9zM226.2 196.2h.9v.9h-.9zM227.5 199.0h.9v.9h-.9zM226.4 196.7h.9v.9h-.9zM227.8 197.9h.9v.9h-.9zM227.6 197.7h.9v.9h-.9zM225.5 195.8h.9v.9h-.9zM224.3 196.1h.9v.9h-.9zM230.2 196.5h.9v.9h-.9zM227.1 196.6h.9v.9h-.9zM227.2 194.4h.9v.9h-.9zM226.0 196.0h.9v.9h-.9zM227.2 195.0h.9v.9h-.9zM226.9 195.2h.9v.9h-.9zM225.2 195.3h.9v.9h-.9zM225.9 197.4h.9v.9h-.9zM228.8 197.0h.9v.9h-.9zM226.7 195.4h.9v.9h-.9zM224.8 195.5h.9v.9h-.9zM229.2 197.8h.9v.9h-.9zM227.3 195.9h.9v.9h-.9zM227.0 196.8h.9v.9h-.9zM227.0 196.8h.9v.9h-.9zM225.9 196.3h.9v.9h-.9zM226.5 197.7h.9v.9h-.9zM225.3 198.0h.9v.9h-.9zM226.9 195.5h.9v.9h-.9zM227.0 196.4h.9v.9h-.9zM226.7 196.8h.9v.9h-.9zM226.2 193.9h.9v.9h-.9zM228.0 196.2h.9v.9h-.9zM229.3 196.7h.9v.9h-.9zM224.2 197.9h.9v.9h-.9zM226.1 197.0h.9v.9h-.9zM230.1 197.7h.9v.9h-.9zM225.5 196.1h.9v.9h-.9zM224.8 197.1h.9v.9h-.9zM227.8 194.8h.9v.9h-.9zM227.6 197.5h.9v.9h-.9zM228.1 195.3h.9v.9h-.9zM226.0 194.7h.9v.9h-.9zM225.2 196.6h.9v.9h-.9zM227.1 198.0h.9v.9h-.9zM227.4 195.8h.9v.9h-.9zM225.0 198.3h.9v.9h-.9zM227.2 196.2h.9v.9h-.9zM225.6 194.8h.9v.9h-.9zM227.9 194.9h.9v.9h-.9zM227.8 197.1h.9v.9h-.9zM226.5 194.0h.9v.9h-.9zM227.6 198.1h.9v.9h-.9zM225.9 194.5h.9v.9h-.9zM228.5 196.4h.9v.9h-.9zM226.1 197.9h.9v.9h-.9zM226.6 196.8h.9v.9h-.9zM226.4 195.2h.9v.9h-.9zM227.3 195.0h.9v.9h-.9zM224.6 195.5h.9v.9h-.9zM228.7 197.7h.9v.9h-.9zM230.0 197.6h.9v.9h-.9zM229.2 196.6h.9v.9h-.9zM226.4 196.8h.9v.9h-.9zM225.7 197.2h.9v.9h-.9zM226.4 196.6h.9v.9h-.9zM225.8 196.0h.9v.9h-.9zM228.3 195.9h.9v.9h-.9zM226.1 196.6h.9v.9h-.9zM228.2 196.0h.9v.9h-.9zM225.4 194.1h.9v.9h-.9zM225.2 197.7h.9v.9h-.9zM226.9 196.9h.9v.9h-.9zM228.5 196.6h.9v.9h-.9zM227.7 195.5h.9v.9h-.9zM224.8 197.1h.9v.9h-.9zM226.9 197.0h.9v.9h-.9zM225.5 196.0h.9v.9h-.9zM229.8 195.1h.9v.9h-.9zM227.1 198.0h.9v.9h-.9zM226.7 196.4h.9v.9h-.9zM224.1 197.3h.9v.9h-.9zM226.4 198.0h.9v.9h-.9zM226.9 195.7h.9v.9h-.9zM227.6 195.9h.9v.9h-.9zM226.3 198.3h.9v.9h-.9zM228.3 196.4h.9v.9h-.9zM228.1 197.3h.9v.9h-.9zM227.8 196.3h.9v.9h-.9zM227.1 196.8h.9v.9h-.9zM227.8 196.7h.9v.9h-.9zM226.2 196.1h.9v.9h-.9zM227.6 194.9h.9v.9h-.9zM227.0 197.2h.9v.9h-.9zM227.2 195.8h.9v.9h-.9zM227.0 195.6h.9v.9h-.9zM228.3 195.7h.9v.9h-.9zM224.7 194.6h.9v.9h-.9zM227.4 196.5h.9v.9h-.9zM226.4 194.5h.9v.9h-.9zM226.8 195.1h.9v.9h-.9zM226.1 196.2h.9v.9h-.9zM225.9 196.6h.9v.9h-.9zM226.0 195.6h.9v.9h-.9zM226.7 198.2h.9v.9h-.9zM229.2 197.5h.9v.9h-.9zM226.0 196.2h.9v.9h-.9zM228.3 197.3h.9v.9h-.9zM224.8 196.1h.9v.9h-.9zM226.0 197.2h.9v.9h-.9zM227.9 195.5h.9v.9h-.9zM229.9 195.8h.9v.9h-.9zM230.3 196.0h.9v.9h-.9zM226.9 198.8h.9v.9h-.9zM226.3 195.6h.9v.9h-.9zM229.0 196.2h.9v.9h-.9zM227.7 194.5h.9v.9h-.9zM229.5 197.5h.9v.9h-.9zM227.5 197.2h.9v.9h-.9zM226.3 195.6h.9v.9h-.9zM224.8 196.7h.9v.9h-.9zM228.7 197.4h.9v.9h-.9zM228.3 197.2h.9v.9h-.9zM225.7 194.5h.9v.9h-.9zM227.9 196.4h.9v.9h-.9zM228.4 195.9h.9v.9h-.9zM225.8 196.8h.9v.9h-.9zM226.2 194.0h.9v.9h-.9zM226.2 195.0h.9v.9h-.9zM225.5 195.5h.9v.9h-.9zM228.3 199.4h.9v.9h-.9zM229.4 195.7h.9v.9h-.9zM228.6 196.1h.9v.9h-.9zM227.6 195.3h.9v.9h-.9zM226.9 194.0h.9v.9h-.9zM229.5 195.2h.9v.9h-.9zM227.8 195.4h.9v.9h-.9zM227.4 194.7h.9v.9h-.9zM226.5 197.4h.9v.9h-.9zM227.8 193.6h.9v.9h-.9zM228.2 194.5h.9v.9h-.9zM227.4 196.9h.9v.9h-.9zM226.1 195.8h.9v.9h-.9zM226.7 196.8h.9v.9h-.9zM228.3 198.0h.9v.9h-.9zM227.4 198.9h.9v.9h-.9zM225.7 198.6h.9v.9h-.9zM226.6 197.2h.9v.9h-.9zM226.8 196.3h.9v.9h-.9zM225.7 196.7h.9v.9h-.9zM229.8 196.4h.9v.9h-.9zM227.0 196.2h.9v.9h-.9zM228.0 196.0h.9v.9h-.9zM227.0 196.5h.9v.9h-.9zM228.8 197.5h.9v.9h-.9zM225.6 195.4h.9v.9h-.9zM227.0 197.4h.9v.9h-.9zM228.3 195.9h.9v.9h-.9zM229.9 196.0h.9v.9h-.9zM228.9 198.1h.9v.9h-.9zM229.2 196.5h.9v.9h-.9zM227.8 194.2h.9v.9h-.9zM224.6 195.4h.9v.9h-.9zM228.0 197.6h.9v.9h-.9zM226.9 197.6h.9v.9h-.9zM227.8 198.2h.9v.9h-.9zM224.8 195.1h.9v.9h-.9zM225.7 194.8h.9v.9h-.9zM229.3 195.0h.9v.9h-.9zM225.9 195.7h.9v.9h-.9zM228.2 195.6h.9v.9h-.9zM228.0 197.0h.9v.9h-.9zM226.1 193.1h.9v.9h-.9zM225.7 194.6h.9v.9h-.9zM229.2 195.3h.9v.9h-.9zM225.5 196.7h.9v.9h-.9zM227.1 195.0h.9v.9h-.9zM228.5 197.4h.9v.9h-.9zM227.4 195.2h.9v.9h-.9zM225.8 193.5h.9v.9h-.9zM227.5 196.7h.9v.9h-.9zM225.7 196.3h.9v.9h-.9zM231.5 194.7h.9v.9h-.9zM207.8 218.6h.9v.9h-.9zM209.1 215.4h.9v.9h-.9zM210.1 216.5h.9v.9h-.9zM210.5 218.3h.9v.9h-.9zM210.6 217.2h.9v.9h-.9zM207.4 220.7h.9v.9h-.9zM207.8 219.8h.9v.9h-.9zM209.7 212.9h.9v.9h-.9zM209.6 219.4h.9v.9h-.9zM208.5 217.0h.9v.9h-.9zM208.8 214.0h.9v.9h-.9zM208.9 220.5h.9v.9h-.9zM210.2 216.8h.9v.9h-.9zM209.4 217.2h.9v.9h-.9zM209.8 217.4h.9v.9h-.9zM207.8 219.5h.9v.9h-.9zM208.7 209.4h.9v.9h-.9zM210.2 213.4h.9v.9h-.9zM209.4 216.6h.9v.9h-.9zM208.9 218.4h.9v.9h-.9zM209.2 216.0h.9v.9h-.9zM208.6 216.0h.9v.9h-.9zM208.5 217.0h.9v.9h-.9zM210.8 219.7h.9v.9h-.9zM209.9 212.9h.9v.9h-.9zM210.5 219.5h.9v.9h-.9zM211.5 210.4h.9v.9h-.9zM209.5 215.9h.9v.9h-.9zM210.6 213.7h.9v.9h-.9zM209.1 223.5h.9v.9h-.9zM210.5 211.1h.9v.9h-.9zM209.5 220.7h.9v.9h-.9zM208.9 218.5h.9v.9h-.9zM209.6 212.7h.9v.9h-.9zM208.9 220.1h.9v.9h-.9zM210.7 215.1h.9v.9h-.9zM210.6 214.8h.9v.9h-.9zM209.7 216.8h.9v.9h-.9zM208.3 217.7h.9v.9h-.9zM209.1 209.0h.9v.9h-.9zM208.7 214.4h.9v.9h-.9zM208.7 214.0h.9v.9h-.9zM208.8 209.8h.9v.9h-.9zM210.4 217.0h.9v.9h-.9zM209.8 216.1h.9v.9h-.9zM209.6 216.1h.9v.9h-.9zM208.4 212.5h.9v.9h-.9zM209.6 219.7h.9v.9h-.9zM209.7 221.4h.9v.9h-.9zM208.2 216.1h.9v.9h-.9zM208.9 220.3h.9v.9h-.9zM211.2 215.3h.9v.9h-.9zM210.2 216.1h.9v.9h-.9zM208.5 216.5h.9v.9h-.9zM208.5 221.3h.9v.9h-.9zM210.1 220.2h.9v.9h-.9zM209.9 209.9h.9v.9h-.9zM210.3 217.1h.9v.9h-.9zM207.2 217.1h.9v.9h-.9zM210.5 221.7h.9v.9h-.9zM208.5 219.1h.9v.9h-.9zM209.8 216.3h.9v.9h-.9zM209.2 218.3h.9v.9h-.9zM210.1 218.7h.9v.9h-.9zM209.1 213.0h.9v.9h-.9zM210.8 220.5h.9v.9h-.9zM208.9 216.7h.9v.9h-.9zM210.3 211.8h.9v.9h-.9zM210.0 223.8h.9v.9h-.9zM209.8 214.8h.9v.9h-.9zM211.5 216.8h.9v.9h-.9zM209.7 215.6h.9v.9h-.9zM209.7 211.7h.9v.9h-.9zM208.2 212.6h.9v.9h-.9zM210.4 216.5h.9v.9h-.9zM210.6 211.0h.9v.9h-.9zM208.9 221.0h.9v.9h-.9zM208.7 211.5h.9v.9h-.9zM208.8 215.8h.9v.9h-.9zM209.5 220.6h.9v.9h-.9zM210.8 221.3h.9v.9h-.9zM210.1 215.4h.9v.9h-.9zM209.0 212.6h.9v.9h-.9zM210.8 220.4h.9v.9h-.9zM209.6 214.2h.9v.9h-.9zM210.2 218.2h.9v.9h-.9zM209.7 213.5h.9v.9h-.9zM209.7 215.2h.9v.9h-.9zM210.2 218.5h.9v.9h-.9zM209.9 215.6h.9v.9h-.9zM211.0 219.0h.9v.9h-.9zM210.7 219.2h.9v.9h-.9zM210.2 217.9h.9v.9h-.9zM208.4 211.6h.9v.9h-.9zM208.6 218.6h.9v.9h-.9zM210.4 217.3h.9v.9h-.9zM209.6 222.1h.9v.9h-.9zM209.1 211.7h.9v.9h-.9zM208.0 215.9h.9v.9h-.9zM210.2 218.9h.9v.9h-.9zM209.3 219.2h.9v.9h-.9zM209.5 214.7h.9v.9h-.9zM209.1 219.0h.9v.9h-.9zM210.4 213.6h.9v.9h-.9zM208.5 217.2h.9v.9h-.9zM211.6 213.4h.9v.9h-.9zM208.3 218.0h.9v.9h-.9zM210.0 215.0h.9v.9h-.9zM209.5 218.2h.9v.9h-.9zM207.8 216.7h.9v.9h-.9zM210.1 219.5h.9v.9h-.9zM210.6 216.6h.9v.9h-.9zM208.1 220.7h.9v.9h-.9zM210.3 215.0h.9v.9h-.9zM210.5 219.8h.9v.9h-.9zM209.4 210.0h.9v.9h-.9zM209.0 214.6h.9v.9h-.9zM208.7 216.6h.9v.9h-.9zM208.4 217.9h.9v.9h-.9zM211.4 213.4h.9v.9h-.9zM210.5 215.3h.9v.9h-.9zM210.0 216.4h.9v.9h-.9zM210.8 214.8h.9v.9h-.9zM210.2 214.6h.9v.9h-.9zM209.7 216.8h.9v.9h-.9zM210.6 212.3h.9v.9h-.9zM208.2 220.8h.9v.9h-.9zM209.9 221.7h.9v.9h-.9zM208.5 217.4h.9v.9h-.9zM210.1 221.9h.9v.9h-.9zM209.4 215.5h.9v.9h-.9zM210.2 216.5h.9v.9h-.9zM208.8 219.0h.9v.9h-.9zM207.6 213.9h.9v.9h-.9zM210.8 215.4h.9v.9h-.9zM209.2 217.9h.9v.9h-.9zM210.6 218.3h.9v.9h-.9zM208.6 215.2h.9v.9h-.9zM210.5 216.5h.9v.9h-.9zM208.9 219.3h.9v.9h-.9zM210.6 223.1h.9v.9h-.9zM208.4 214.8h.9v.9h-.9zM208.8 217.8h.9v.9h-.9zM209.0 220.0h.9v.9h-.9zM206.9 219.6h.9v.9h-.9zM208.9 216.0h.9v.9h-.9zM210.1 217.4h.9v.9h-.9zM208.5 221.1h.9v.9h-.9zM210.1 215.4h.9v.9h-.9zM209.7 213.6h.9v.9h-.9zM208.3 215.9h.9v.9h-.9zM209.9 217.1h.9v.9h-.9zM208.7 212.8h.9v.9h-.9zM207.9 221.4h.9v.9h-.9zM209.9 214.5h.9v.9h-.9zM210.7 218.4h.9v.9h-.9zM209.1 215.0h.9v.9h-.9zM210.6 217.7h.9v.9h-.9zM211.1 217.8h.9v.9h-.9zM208.9 215.1h.9v.9h-.9zM208.8 217.5h.9v.9h-.9zM209.7 218.5h.9v.9h-.9zM209.9 213.8h.9v.9h-.9zM209.3 214.1h.9v.9h-.9zM210.0 213.0h.9v.9h-.9zM208.9 214.3h.9v.9h-.9zM208.9 216.1h.9v.9h-.9zM211.0 216.1h.9v.9h-.9zM208.1 215.9h.9v.9h-.9zM210.2 218.4h.9v.9h-.9zM209.7 222.5h.9v.9h-.9zM210.6 217.1h.9v.9h-.9zM210.7 212.9h.9v.9h-.9zM209.3 214.3h.9v.9h-.9zM209.7 221.5h.9v.9h-.9zM209.0 221.4h.9v.9h-.9zM208.5 220.9h.9v.9h-.9zM207.9 214.4h.9v.9h-.9zM210.5 216.5h.9v.9h-.9zM209.6 216.8h.9v.9h-.9zM209.7 216.3h.9v.9h-.9zM208.5 216.0h.9v.9h-.9zM209.6 214.2h.9v.9h-.9zM210.0 221.9h.9v.9h-.9zM207.9 215.2h.9v.9h-.9zM209.2 216.9h.9v.9h-.9zM209.6 214.7h.9v.9h-.9zM209.5 216.8h.9v.9h-.9zM209.4 221.2h.9v.9h-.9zM209.6 212.5h.9v.9h-.9zM208.0 218.5h.9v.9h-.9zM209.2 215.0h.9v.9h-.9zM208.2 215.9h.9v.9h-.9zM209.4 214.8h.9v.9h-.9zM209.2 219.4h.9v.9h-.9zM210.3 218.4h.9v.9h-.9zM209.3 212.9h.9v.9h-.9zM210.3 221.1h.9v.9h-.9zM210.7 220.2h.9v.9h-.9zM209.8 217.9h.9v.9h-.9zM228.3 220.4h.9v.9h-.9zM228.1 223.0h.9v.9h-.9zM228.9 215.9h.9v.9h-.9zM228.3 212.2h.9v.9h-.9zM227.7 215.9h.9v.9h-.9zM230.2 214.5h.9v.9h-.9zM229.0 217.0h.9v.9h-.9zM228.1 218.6h.9v.9h-.9zM226.8 219.5h.9v.9h-.9zM229.8 217.7h.9v.9h-.9zM228.3 217.3h.9v.9h-.9zM228.8 215.4h.9v.9h-.9zM228.4 218.3h.9v.9h-.9zM228.0 217.9h.9v.9h-.9zM228.6 218.9h.9v.9h-.9zM227.5 215.3h.9v.9h-.9zM228.0 220.2h.9v.9h-.9zM228.5 212.0h.9v.9h-.9zM227.3 222.4h.9v.9h-.9zM228.6 213.1h.9v.9h-.9zM227.6 217.2h.9v.9h-.9zM229.4 221.5h.9v.9h-.9zM228.0 215.9h.9v.9h-.9zM229.8 214.0h.9v.9h-.9zM229.5 217.8h.9v.9h-.9zM228.4 220.5h.9v.9h-.9zM228.7 214.4h.9v.9h-.9zM227.1 216.8h.9v.9h-.9zM228.7 220.7h.9v.9h-.9zM226.3 220.7h.9v.9h-.9zM228.8 221.2h.9v.9h-.9zM228.9 217.4h.9v.9h-.9zM228.6 217.9h.9v.9h-.9zM227.8 216.5h.9v.9h-.9zM228.4 215.5h.9v.9h-.9zM227.2 212.6h.9v.9h-.9zM228.7 218.3h.9v.9h-.9zM228.4 213.4h.9v.9h-.9zM229.0 215.7h.9v.9h-.9zM226.7 221.3h.9v.9h-.9zM227.1 223.3h.9v.9h-.9zM228.7 215.5h.9v.9h-.9zM226.5 214.8h.9v.9h-.9zM229.5 220.7h.9v.9h-.9zM228.5 211.9h.9v.9h-.9zM228.0 216.0h.9v.9h-.9zM228.7 216.4h.9v.9h-.9zM228.6 212.1h.9v.9h-.9zM227.8 221.0h.9v.9h-.9zM227.2 219.5h.9v.9h-.9zM230.1 218.7h.9v.9h-.9zM227.2 220.4h.9v.9h-.9zM226.9 217.8h.9v.9h-.9zM228.0 220.4h.9v.9h-.9zM229.2 217.3h.9v.9h-.9zM229.7 219.6h.9v.9h-.9zM227.9 214.0h.9v.9h-.9zM230.2 215.6h.9v.9h-.9zM228.6 216.5h.9v.9h-.9zM227.9 212.2h.9v.9h-.9zM228.2 216.5h.9v.9h-.9zM229.1 215.3h.9v.9h-.9zM227.1 213.7h.9v.9h-.9zM228.3 217.5h.9v.9h-.9zM228.9 215.7h.9v.9h-.9zM228.7 217.2h.9v.9h-.9zM229.6 216.6h.9v.9h-.9zM228.4 218.4h.9v.9h-.9zM229.2 214.1h.9v.9h-.9zM227.9 216.0h.9v.9h-.9zM226.6 220.6h.9v.9h-.9zM229.1 216.9h.9v.9h-.9zM230.9 220.5h.9v.9h-.9zM229.9 221.3h.9v.9h-.9zM229.0 212.7h.9v.9h-.9zM229.5 218.0h.9v.9h-.9zM227.4 217.0h.9v.9h-.9zM228.9 219.6h.9v.9h-.9zM228.4 215.3h.9v.9h-.9zM228.9 214.6h.9v.9h-.9zM228.2 219.0h.9v.9h-.9zM227.2 217.9h.9v.9h-.9zM226.8 214.1h.9v.9h-.9zM227.3 216.5h.9v.9h-.9zM228.9 216.7h.9v.9h-.9zM229.0 217.1h.9v.9h-.9zM228.1 218.2h.9v.9h-.9zM228.1 217.2h.9v.9h-.9zM229.1 215.2h.9v.9h-.9zM229.2 213.6h.9v.9h-.9zM228.1 211.8h.9v.9h-.9zM227.9 221.4h.9v.9h-.9zM228.6 220.5h.9v.9h-.9zM227.2 213.9h.9v.9h-.9zM228.7 219.2h.9v.9h-.9zM229.0 212.0h.9v.9h-.9zM228.7 216.6h.9v.9h-.9zM228.4 218.2h.9v.9h-.9zM228.1 211.9h.9v.9h-.9zM227.5 212.6h.9v.9h-.9zM227.3 216.4h.9v.9h-.9zM229.3 214.7h.9v.9h-.9zM227.7 213.5h.9v.9h-.9zM227.0 217.0h.9v.9h-.9zM227.9 216.1h.9v.9h-.9zM227.6 218.2h.9v.9h-.9zM227.4 218.4h.9v.9h-.9zM227.8 219.1h.9v.9h-.9zM227.6 218.1h.9v.9h-.9zM228.6 216.6h.9v.9h-.9zM229.6 217.3h.9v.9h-.9zM227.6 218.8h.9v.9h-.9zM227.7 215.2h.9v.9h-.9zM228.3 217.3h.9v.9h-.9zM229.6 211.7h.9v.9h-.9zM228.1 220.1h.9v.9h-.9zM228.2 217.7h.9v.9h-.9zM229.5 213.2h.9v.9h-.9zM228.3 219.1h.9v.9h-.9zM227.8 211.7h.9v.9h-.9zM227.5 217.4h.9v.9h-.9zM228.4 222.1h.9v.9h-.9zM229.3 212.3h.9v.9h-.9zM229.1 219.5h.9v.9h-.9zM229.6 216.4h.9v.9h-.9zM227.9 217.2h.9v.9h-.9zM229.5 218.6h.9v.9h-.9zM229.6 219.1h.9v.9h-.9zM227.8 213.9h.9v.9h-.9zM229.7 212.4h.9v.9h-.9zM228.0 215.9h.9v.9h-.9zM227.6 215.1h.9v.9h-.9zM228.3 223.7h.9v.9h-.9zM228.2 215.3h.9v.9h-.9zM228.4 219.5h.9v.9h-.9zM227.7 215.6h.9v.9h-.9zM226.9 218.8h.9v.9h-.9zM228.8 221.2h.9v.9h-.9zM227.4 223.1h.9v.9h-.9zM229.0 216.0h.9v.9h-.9zM228.0 215.9h.9v.9h-.9zM227.4 219.0h.9v.9h-.9zM227.8 214.7h.9v.9h-.9zM228.7 217.1h.9v.9h-.9zM227.8 216.1h.9v.9h-.9zM227.9 220.7h.9v.9h-.9zM229.1 214.7h.9v.9h-.9zM228.3 220.8h.9v.9h-.9zM228.1 222.0h.9v.9h-.9zM228.6 218.7h.9v.9h-.9zM226.7 219.3h.9v.9h-.9zM228.6 218.5h.9v.9h-.9zM228.7 218.3h.9v.9h-.9zM227.9 219.4h.9v.9h-.9zM228.3 213.8h.9v.9h-.9zM227.5 217.3h.9v.9h-.9zM228.6 210.4h.9v.9h-.9zM226.7 219.9h.9v.9h-.9zM228.3 225.1h.9v.9h-.9zM227.1 216.1h.9v.9h-.9zM227.8 218.4h.9v.9h-.9zM229.4 221.5h.9v.9h-.9zM227.5 220.4h.9v.9h-.9zM227.4 217.7h.9v.9h-.9zM228.4 218.6h.9v.9h-.9zM227.7 220.7h.9v.9h-.9zM228.2 216.7h.9v.9h-.9zM228.1 213.7h.9v.9h-.9zM228.9 217.8h.9v.9h-.9zM228.7 222.2h.9v.9h-.9z" fill="#000" fill-opacity="0.32" filter="url(#bl2)"/>
</g>
<rect x="168.40" y="170.50" width="69.00" height="52.70" fill="none" stroke="#8c8c8c" stroke-width="1"/>
<rect x="199.50" y="184.10" width="35.30" height="19.40" fill="none" stroke="#858585" stroke-width="0.9"/>
<text x="208.20" y="182.60" font-size="5.6" text-anchor="middle" style="font-weight:normal">NT</text>
<text x="227.00" y="182.60" font-size="5.6" text-anchor="middle" style="font-weight:normal">Tg</text>
<text x="242.20" y="200.35" font-size="10" text-anchor="start">Irr</text>
<clipPath id="cp227"><rect x="168.6" y="227.7" width="69.5" height="52.69999999999999"/></clipPath>
<g clip-path="url(#cp227)">
<g filter="url(#bl1)">
<polygon points="168.4,246.5 173.0,245.9 177.0,246.2 180.5,247.8 184.0,250.0 186.8,252.4 184.5,254.7 182.0,257.4 180.0,260.0 178.8,261.7 168.4,262.7" fill="#000"/>
<polygon points="168.4,261.7 178.5,261.5 180.5,263.4 182.0,266.0 184.5,269.2 185.2,273.2 184.8,277.2 184.3,280.4 168.4,280.4" fill="#000"/>
</g>
<g filter="url(#bl1)"><ellipse cx="207.6" cy="253.0" rx="3.6" ry="2.3" fill="#000"/><ellipse cx="211.5" cy="253.4" rx="2.5" ry="1.3" fill="#000" fill-opacity="0.5"/>
<ellipse cx="209.5" cy="274.0" rx="1.3" ry="3.6" fill="#000" fill-opacity="0.7"/><ellipse cx="228.3" cy="274.0" rx="1.1" ry="3.6" fill="#000" fill-opacity="0.65"/>
</g>
<path d="M173.1 252.8h.9v.9h-.9zM179.1 258.3h.9v.9h-.9zM177.8 258.7h.9v.9h-.9zM182.1 245.7h.9v.9h-.9zM174.3 244.4h.9v.9h-.9zM177.0 252.2h.9v.9h-.9zM183.0 255.0h.9v.9h-.9zM178.6 260.3h.9v.9h-.9zM183.1 248.2h.9v.9h-.9zM174.3 255.8h.9v.9h-.9zM190.6 253.2h.9v.9h-.9zM177.8 255.5h.9v.9h-.9zM184.3 253.8h.9v.9h-.9zM181.0 252.2h.9v.9h-.9zM175.2 250.3h.9v.9h-.9zM183.5 251.5h.9v.9h-.9zM182.8 256.2h.9v.9h-.9zM185.7 241.2h.9v.9h-.9zM172.4 248.3h.9v.9h-.9zM177.9 258.1h.9v.9h-.9zM196.3 261.7h.9v.9h-.9zM188.3 256.1h.9v.9h-.9zM176.4 256.8h.9v.9h-.9zM164.1 258.7h.9v.9h-.9zM179.1 257.2h.9v.9h-.9zM172.0 248.9h.9v.9h-.9zM174.6 254.0h.9v.9h-.9zM181.4 252.5h.9v.9h-.9zM181.4 257.5h.9v.9h-.9zM171.1 253.7h.9v.9h-.9zM168.4 251.5h.9v.9h-.9zM185.2 250.7h.9v.9h-.9zM191.7 256.7h.9v.9h-.9zM185.1 254.7h.9v.9h-.9zM184.9 259.5h.9v.9h-.9zM179.7 251.6h.9v.9h-.9zM175.2 263.6h.9v.9h-.9zM177.7 252.0h.9v.9h-.9zM174.2 246.0h.9v.9h-.9zM175.6 255.8h.9v.9h-.9zM175.7 250.5h.9v.9h-.9zM181.8 256.4h.9v.9h-.9zM176.0 255.7h.9v.9h-.9zM172.3 258.4h.9v.9h-.9zM172.3 252.6h.9v.9h-.9zM179.9 252.2h.9v.9h-.9zM171.2 264.4h.9v.9h-.9zM189.4 245.7h.9v.9h-.9zM179.8 248.0h.9v.9h-.9zM181.1 247.9h.9v.9h-.9zM183.0 256.8h.9v.9h-.9zM190.7 260.1h.9v.9h-.9zM175.9 258.8h.9v.9h-.9zM175.9 253.7h.9v.9h-.9zM175.6 245.6h.9v.9h-.9zM183.1 244.3h.9v.9h-.9zM177.4 256.8h.9v.9h-.9zM179.8 246.5h.9v.9h-.9zM174.6 257.5h.9v.9h-.9zM186.5 262.0h.9v.9h-.9zM166.6 256.4h.9v.9h-.9zM175.7 257.9h.9v.9h-.9zM167.5 253.5h.9v.9h-.9zM183.8 251.1h.9v.9h-.9zM176.5 249.4h.9v.9h-.9zM186.6 247.7h.9v.9h-.9zM172.8 252.6h.9v.9h-.9zM176.8 264.5h.9v.9h-.9zM180.9 250.1h.9v.9h-.9zM183.0 255.9h.9v.9h-.9zM180.9 253.9h.9v.9h-.9zM182.2 248.5h.9v.9h-.9zM170.8 252.1h.9v.9h-.9zM171.4 257.6h.9v.9h-.9zM192.3 260.2h.9v.9h-.9zM182.1 255.8h.9v.9h-.9zM174.3 247.9h.9v.9h-.9zM182.8 247.0h.9v.9h-.9zM181.1 253.5h.9v.9h-.9zM184.1 254.4h.9v.9h-.9zM179.7 251.4h.9v.9h-.9zM167.2 252.5h.9v.9h-.9zM183.8 259.3h.9v.9h-.9zM188.4 249.4h.9v.9h-.9zM172.6 257.6h.9v.9h-.9zM175.9 266.7h.9v.9h-.9zM181.2 246.8h.9v.9h-.9zM175.2 261.8h.9v.9h-.9zM166.5 254.9h.9v.9h-.9zM169.5 262.0h.9v.9h-.9zM175.9 249.2h.9v.9h-.9zM167.3 250.7h.9v.9h-.9zM161.5 251.9h.9v.9h-.9zM193.9 254.7h.9v.9h-.9zM177.2 248.5h.9v.9h-.9zM181.3 251.9h.9v.9h-.9zM173.2 260.9h.9v.9h-.9zM182.0 249.9h.9v.9h-.9zM189.1 253.9h.9v.9h-.9zM182.4 254.9h.9v.9h-.9zM187.1 257.2h.9v.9h-.9zM176.6 257.7h.9v.9h-.9zM176.3 254.9h.9v.9h-.9zM190.2 249.0h.9v.9h-.9zM171.9 252.2h.9v.9h-.9zM175.6 260.5h.9v.9h-.9zM168.1 265.4h.9v.9h-.9zM189.8 252.0h.9v.9h-.9zM180.3 252.4h.9v.9h-.9zM183.6 257.4h.9v.9h-.9zM184.1 257.9h.9v.9h-.9zM192.2 253.4h.9v.9h-.9zM183.8 253.3h.9v.9h-.9zM179.3 255.3h.9v.9h-.9zM178.6 255.9h.9v.9h-.9zM173.2 253.5h.9v.9h-.9zM174.9 248.5h.9v.9h-.9zM174.2 251.8h.9v.9h-.9zM178.0 246.6h.9v.9h-.9zM177.2 248.7h.9v.9h-.9zM173.4 255.1h.9v.9h-.9zM186.6 255.6h.9v.9h-.9zM175.7 252.1h.9v.9h-.9zM188.2 246.3h.9v.9h-.9zM186.8 246.9h.9v.9h-.9zM174.7 254.4h.9v.9h-.9zM177.5 262.3h.9v.9h-.9zM182.4 254.0h.9v.9h-.9zM185.5 254.4h.9v.9h-.9zM173.5 259.7h.9v.9h-.9zM189.3 260.4h.9v.9h-.9zM171.0 263.5h.9v.9h-.9zM176.1 257.9h.9v.9h-.9zM187.2 265.8h.9v.9h-.9zM167.9 249.2h.9v.9h-.9zM187.1 256.6h.9v.9h-.9zM176.9 239.9h.9v.9h-.9zM182.0 253.3h.9v.9h-.9zM161.1 267.3h.9v.9h-.9zM161.9 251.5h.9v.9h-.9zM179.0 255.3h.9v.9h-.9zM184.2 252.9h.9v.9h-.9zM172.9 252.4h.9v.9h-.9zM164.6 248.7h.9v.9h-.9zM192.5 250.8h.9v.9h-.9zM178.5 263.5h.9v.9h-.9zM186.2 254.8h.9v.9h-.9zM184.0 252.9h.9v.9h-.9zM172.8 259.1h.9v.9h-.9zM179.9 262.0h.9v.9h-.9zM177.2 252.4h.9v.9h-.9zM181.4 253.3h.9v.9h-.9zM176.9 249.8h.9v.9h-.9zM180.7 255.8h.9v.9h-.9zM191.6 254.1h.9v.9h-.9zM167.0 256.5h.9v.9h-.9zM194.7 252.0h.9v.9h-.9zM173.5 253.4h.9v.9h-.9zM159.4 252.6h.9v.9h-.9zM177.7 246.8h.9v.9h-.9zM183.0 249.9h.9v.9h-.9zM166.3 250.7h.9v.9h-.9zM183.4 263.6h.9v.9h-.9zM187.6 255.2h.9v.9h-.9zM175.5 252.9h.9v.9h-.9zM185.6 251.7h.9v.9h-.9zM181.9 258.9h.9v.9h-.9zM172.8 251.3h.9v.9h-.9zM182.1 254.2h.9v.9h-.9zM178.1 251.6h.9v.9h-.9zM178.6 263.3h.9v.9h-.9zM188.3 246.3h.9v.9h-.9zM179.3 254.7h.9v.9h-.9zM179.3 247.4h.9v.9h-.9zM178.1 254.9h.9v.9h-.9zM174.3 255.7h.9v.9h-.9zM162.3 246.8h.9v.9h-.9zM179.7 256.1h.9v.9h-.9zM177.9 252.0h.9v.9h-.9zM180.3 259.5h.9v.9h-.9zM185.2 253.8h.9v.9h-.9zM175.8 259.4h.9v.9h-.9zM182.7 258.5h.9v.9h-.9zM177.1 250.0h.9v.9h-.9zM180.3 251.1h.9v.9h-.9zM186.9 258.4h.9v.9h-.9zM164.0 257.5h.9v.9h-.9zM188.2 259.3h.9v.9h-.9zM175.7 250.0h.9v.9h-.9zM185.7 259.2h.9v.9h-.9zM179.4 248.6h.9v.9h-.9zM168.5 255.5h.9v.9h-.9zM173.3 250.9h.9v.9h-.9zM182.1 259.3h.9v.9h-.9zM164.8 250.9h.9v.9h-.9zM187.9 254.0h.9v.9h-.9zM176.6 257.3h.9v.9h-.9zM171.2 248.2h.9v.9h-.9zM179.1 261.9h.9v.9h-.9zM186.0 254.2h.9v.9h-.9zM186.0 252.2h.9v.9h-.9zM170.9 246.0h.9v.9h-.9zM180.9 258.6h.9v.9h-.9zM181.6 254.0h.9v.9h-.9zM176.2 259.5h.9v.9h-.9zM178.7 247.1h.9v.9h-.9zM188.4 251.0h.9v.9h-.9zM181.7 254.2h.9v.9h-.9zM186.2 255.4h.9v.9h-.9zM187.4 255.2h.9v.9h-.9zM175.8 251.7h.9v.9h-.9zM183.5 250.1h.9v.9h-.9zM185.4 253.0h.9v.9h-.9zM172.6 249.9h.9v.9h-.9zM178.0 262.9h.9v.9h-.9zM184.3 254.3h.9v.9h-.9zM172.8 263.5h.9v.9h-.9zM177.1 254.2h.9v.9h-.9zM176.1 260.7h.9v.9h-.9zM180.2 252.0h.9v.9h-.9zM180.3 249.3h.9v.9h-.9zM171.8 253.4h.9v.9h-.9zM159.2 260.0h.9v.9h-.9zM192.7 248.8h.9v.9h-.9zM178.0 246.5h.9v.9h-.9zM180.2 255.2h.9v.9h-.9zM184.1 247.7h.9v.9h-.9zM174.9 251.0h.9v.9h-.9zM177.3 265.4h.9v.9h-.9zM177.6 254.0h.9v.9h-.9zM175.5 258.1h.9v.9h-.9zM196.6 259.9h.9v.9h-.9zM189.5 248.9h.9v.9h-.9zM186.3 254.3h.9v.9h-.9zM187.6 259.4h.9v.9h-.9zM183.5 246.0h.9v.9h-.9zM179.9 251.7h.9v.9h-.9zM182.1 254.4h.9v.9h-.9zM186.2 246.3h.9v.9h-.9zM173.9 253.8h.9v.9h-.9zM181.2 252.2h.9v.9h-.9zM178.8 254.5h.9v.9h-.9zM186.2 253.6h.9v.9h-.9zM180.7 245.3h.9v.9h-.9zM161.0 247.0h.9v.9h-.9zM181.5 242.9h.9v.9h-.9zM181.8 253.7h.9v.9h-.9zM179.0 250.6h.9v.9h-.9zM176.1 258.3h.9v.9h-.9zM181.5 254.1h.9v.9h-.9zM175.6 255.2h.9v.9h-.9zM187.2 254.1h.9v.9h-.9zM176.5 248.4h.9v.9h-.9zM179.7 249.7h.9v.9h-.9zM169.1 258.5h.9v.9h-.9zM174.7 244.2h.9v.9h-.9zM174.1 263.2h.9v.9h-.9zM178.3 247.7h.9v.9h-.9zM171.4 257.7h.9v.9h-.9zM181.8 255.2h.9v.9h-.9zM177.7 256.6h.9v.9h-.9zM189.6 256.6h.9v.9h-.9zM177.9 247.3h.9v.9h-.9zM182.1 261.9h.9v.9h-.9zM183.5 248.0h.9v.9h-.9zM180.3 260.6h.9v.9h-.9zM174.6 256.6h.9v.9h-.9zM187.3 262.2h.9v.9h-.9zM168.0 245.6h.9v.9h-.9zM181.6 257.7h.9v.9h-.9zM176.6 254.1h.9v.9h-.9zM176.2 260.1h.9v.9h-.9zM163.8 255.5h.9v.9h-.9zM170.2 250.9h.9v.9h-.9zM168.4 249.7h.9v.9h-.9zM178.8 254.3h.9v.9h-.9zM191.3 253.1h.9v.9h-.9zM181.4 255.9h.9v.9h-.9zM180.8 261.4h.9v.9h-.9zM180.0 254.9h.9v.9h-.9zM178.2 254.2h.9v.9h-.9zM178.6 259.1h.9v.9h-.9zM179.1 254.5h.9v.9h-.9zM178.7 257.9h.9v.9h-.9zM175.7 258.8h.9v.9h-.9zM175.1 257.6h.9v.9h-.9zM192.2 255.3h.9v.9h-.9zM178.4 248.4h.9v.9h-.9zM184.1 254.3h.9v.9h-.9zM185.3 251.0h.9v.9h-.9zM182.6 263.1h.9v.9h-.9zM181.8 252.6h.9v.9h-.9zM170.0 254.2h.9v.9h-.9zM183.5 257.1h.9v.9h-.9zM171.3 249.1h.9v.9h-.9zM172.3 249.2h.9v.9h-.9zM177.1 255.5h.9v.9h-.9zM192.3 255.2h.9v.9h-.9zM189.0 246.1h.9v.9h-.9zM189.6 258.1h.9v.9h-.9zM182.0 258.3h.9v.9h-.9zM183.3 263.6h.9v.9h-.9zM184.6 245.6h.9v.9h-.9zM166.9 262.1h.9v.9h-.9zM178.4 260.7h.9v.9h-.9zM176.6 251.0h.9v.9h-.9zM176.6 255.8h.9v.9h-.9zM180.3 251.1h.9v.9h-.9zM182.7 257.2h.9v.9h-.9zM172.7 248.7h.9v.9h-.9zM165.4 252.7h.9v.9h-.9zM179.1 250.8h.9v.9h-.9zM174.8 253.5h.9v.9h-.9zM179.2 257.0h.9v.9h-.9zM184.8 256.4h.9v.9h-.9zM186.7 249.4h.9v.9h-.9zM183.2 256.0h.9v.9h-.9zM171.8 250.9h.9v.9h-.9zM182.1 254.6h.9v.9h-.9zM170.3 251.5h.9v.9h-.9zM189.5 258.4h.9v.9h-.9zM179.6 260.9h.9v.9h-.9zM172.7 253.4h.9v.9h-.9zM185.6 252.5h.9v.9h-.9zM171.3 257.1h.9v.9h-.9zM190.1 241.7h.9v.9h-.9zM180.1 248.0h.9v.9h-.9zM176.9 247.2h.9v.9h-.9zM197.0 250.8h.9v.9h-.9zM179.3 250.7h.9v.9h-.9zM172.2 252.0h.9v.9h-.9zM180.4 262.9h.9v.9h-.9zM181.0 261.9h.9v.9h-.9zM171.6 254.6h.9v.9h-.9zM176.0 246.5h.9v.9h-.9zM204.8 253.0h.9v.9h-.9zM180.7 250.5h.9v.9h-.9zM175.0 249.1h.9v.9h-.9zM186.1 252.2h.9v.9h-.9zM178.0 255.1h.9v.9h-.9zM170.5 255.3h.9v.9h-.9zM177.8 256.4h.9v.9h-.9zM176.3 254.4h.9v.9h-.9zM182.6 259.0h.9v.9h-.9zM174.2 259.0h.9v.9h-.9zM172.2 253.3h.9v.9h-.9zM179.9 254.9h.9v.9h-.9zM161.7 249.4h.9v.9h-.9zM177.7 258.8h.9v.9h-.9zM174.1 261.7h.9v.9h-.9zM166.5 254.6h.9v.9h-.9zM182.7 254.3h.9v.9h-.9zM180.8 258.8h.9v.9h-.9zM173.4 257.1h.9v.9h-.9zM186.4 253.0h.9v.9h-.9zM163.0 248.3h.9v.9h-.9zM173.1 249.0h.9v.9h-.9zM182.0 250.2h.9v.9h-.9zM196.2 257.0h.9v.9h-.9zM170.0 252.8h.9v.9h-.9zM189.6 257.6h.9v.9h-.9zM172.0 259.3h.9v.9h-.9zM175.7 265.1h.9v.9h-.9zM175.2 257.1h.9v.9h-.9zM182.9 252.0h.9v.9h-.9zM177.9 259.9h.9v.9h-.9zM182.4 253.9h.9v.9h-.9zM182.1 262.8h.9v.9h-.9zM185.4 256.6h.9v.9h-.9zM181.3 246.5h.9v.9h-.9zM179.9 251.8h.9v.9h-.9zM184.1 251.2h.9v.9h-.9zM182.1 249.0h.9v.9h-.9zM185.2 250.6h.9v.9h-.9zM178.8 257.1h.9v.9h-.9zM176.8 254.2h.9v.9h-.9zM186.3 262.9h.9v.9h-.9zM166.5 249.7h.9v.9h-.9zM183.7 258.8h.9v.9h-.9zM175.7 254.7h.9v.9h-.9zM177.7 265.4h.9v.9h-.9zM177.6 248.3h.9v.9h-.9zM168.3 247.9h.9v.9h-.9zM188.0 252.3h.9v.9h-.9zM192.5 257.4h.9v.9h-.9zM181.6 257.4h.9v.9h-.9zM184.5 258.7h.9v.9h-.9zM172.2 251.4h.9v.9h-.9zM175.2 254.7h.9v.9h-.9zM177.3 248.1h.9v.9h-.9zM174.2 263.0h.9v.9h-.9zM193.7 250.0h.9v.9h-.9zM181.6 254.0h.9v.9h-.9zM173.1 257.7h.9v.9h-.9zM178.5 262.4h.9v.9h-.9zM182.2 252.7h.9v.9h-.9zM160.7 253.7h.9v.9h-.9zM184.9 250.7h.9v.9h-.9zM185.1 257.6h.9v.9h-.9zM166.8 253.2h.9v.9h-.9zM181.2 257.9h.9v.9h-.9zM180.1 254.1h.9v.9h-.9zM176.6 252.8h.9v.9h-.9zM179.0 249.0h.9v.9h-.9zM183.4 252.6h.9v.9h-.9zM182.6 251.7h.9v.9h-.9zM181.8 254.8h.9v.9h-.9zM185.2 256.5h.9v.9h-.9zM185.5 253.4h.9v.9h-.9zM178.6 252.9h.9v.9h-.9zM170.3 253.6h.9v.9h-.9zM186.5 258.0h.9v.9h-.9zM173.1 255.7h.9v.9h-.9zM184.2 247.5h.9v.9h-.9zM181.4 255.8h.9v.9h-.9zM184.2 255.5h.9v.9h-.9zM167.0 244.3h.9v.9h-.9zM192.7 252.3h.9v.9h-.9zM187.8 260.4h.9v.9h-.9zM179.6 248.6h.9v.9h-.9zM188.5 254.0h.9v.9h-.9zM182.6 256.6h.9v.9h-.9zM185.6 259.2h.9v.9h-.9zM169.2 247.3h.9v.9h-.9zM180.0 254.2h.9v.9h-.9zM184.4 253.5h.9v.9h-.9zM177.7 264.2h.9v.9h-.9zM188.5 259.9h.9v.9h-.9zM186.2 250.3h.9v.9h-.9zM178.4 253.9h.9v.9h-.9zM171.4 249.9h.9v.9h-.9zM180.1 248.2h.9v.9h-.9zM182.7 256.5h.9v.9h-.9zM177.4 252.5h.9v.9h-.9zM183.2 256.6h.9v.9h-.9zM181.5 248.2h.9v.9h-.9zM167.8 264.3h.9v.9h-.9zM174.5 252.4h.9v.9h-.9zM166.4 250.3h.9v.9h-.9zM173.9 258.1h.9v.9h-.9zM160.7 247.3h.9v.9h-.9zM176.1 251.8h.9v.9h-.9zM173.6 252.0h.9v.9h-.9zM168.1 255.5h.9v.9h-.9zM187.3 255.0h.9v.9h-.9zM175.3 260.4h.9v.9h-.9zM182.4 249.1h.9v.9h-.9zM175.0 251.2h.9v.9h-.9zM178.7 260.2h.9v.9h-.9zM174.1 253.5h.9v.9h-.9zM179.8 248.3h.9v.9h-.9zM175.7 257.2h.9v.9h-.9zM186.8 245.0h.9v.9h-.9zM183.9 252.8h.9v.9h-.9zM187.9 257.3h.9v.9h-.9zM192.6 255.7h.9v.9h-.9zM176.3 250.1h.9v.9h-.9zM169.1 256.9h.9v.9h-.9zM182.6 258.2h.9v.9h-.9zM181.4 246.8h.9v.9h-.9zM176.2 253.0h.9v.9h-.9zM180.1 258.0h.9v.9h-.9zM188.8 255.6h.9v.9h-.9zM164.7 249.2h.9v.9h-.9zM164.2 250.4h.9v.9h-.9zM170.7 255.4h.9v.9h-.9zM177.5 259.7h.9v.9h-.9zM186.5 252.0h.9v.9h-.9zM185.5 254.3h.9v.9h-.9zM182.2 260.8h.9v.9h-.9zM171.1 253.9h.9v.9h-.9zM189.6 250.5h.9v.9h-.9zM180.5 254.9h.9v.9h-.9zM176.1 247.8h.9v.9h-.9zM174.3 249.4h.9v.9h-.9zM186.5 255.4h.9v.9h-.9zM183.9 248.4h.9v.9h-.9zM182.5 254.9h.9v.9h-.9zM186.3 250.7h.9v.9h-.9zM184.6 260.9h.9v.9h-.9zM191.5 249.6h.9v.9h-.9zM171.2 247.0h.9v.9h-.9zM185.7 257.1h.9v.9h-.9zM181.4 250.0h.9v.9h-.9zM187.7 262.1h.9v.9h-.9zM178.8 253.6h.9v.9h-.9zM187.2 256.7h.9v.9h-.9zM188.3 252.2h.9v.9h-.9zM181.4 252.5h.9v.9h-.9zM175.1 252.7h.9v.9h-.9zM177.0 256.7h.9v.9h-.9zM176.9 254.5h.9v.9h-.9zM173.4 248.2h.9v.9h-.9zM188.9 249.4h.9v.9h-.9zM191.6 258.8h.9v.9h-.9zM163.2 251.1h.9v.9h-.9zM176.1 254.3h.9v.9h-.9zM177.8 251.2h.9v.9h-.9zM187.7 253.6h.9v.9h-.9zM185.7 250.8h.9v.9h-.9zM174.2 260.7h.9v.9h-.9zM177.1 248.8h.9v.9h-.9zM177.8 259.4h.9v.9h-.9zM177.9 250.7h.9v.9h-.9zM183.4 259.0h.9v.9h-.9zM177.6 252.6h.9v.9h-.9zM176.5 267.4h.9v.9h-.9zM177.7 262.7h.9v.9h-.9zM178.0 256.2h.9v.9h-.9zM164.9 255.1h.9v.9h-.9zM179.4 252.7h.9v.9h-.9zM176.2 247.5h.9v.9h-.9zM168.7 255.0h.9v.9h-.9zM174.6 253.8h.9v.9h-.9zM177.8 251.7h.9v.9h-.9zM174.0 263.3h.9v.9h-.9zM171.4 251.7h.9v.9h-.9zM177.0 248.6h.9v.9h-.9zM172.4 258.4h.9v.9h-.9zM185.5 254.8h.9v.9h-.9zM201.4 258.3h.9v.9h-.9zM187.5 250.2h.9v.9h-.9zM186.5 262.4h.9v.9h-.9zM176.4 263.0h.9v.9h-.9zM173.4 248.7h.9v.9h-.9zM178.7 250.3h.9v.9h-.9zM183.4 248.8h.9v.9h-.9zM179.6 244.6h.9v.9h-.9zM178.8 259.3h.9v.9h-.9zM177.2 255.7h.9v.9h-.9zM186.6 248.8h.9v.9h-.9zM170.2 254.6h.9v.9h-.9zM180.9 252.9h.9v.9h-.9zM172.3 260.1h.9v.9h-.9zM171.0 252.9h.9v.9h-.9zM178.7 257.7h.9v.9h-.9zM175.9 250.2h.9v.9h-.9zM192.9 250.1h.9v.9h-.9zM184.5 253.5h.9v.9h-.9zM175.7 254.0h.9v.9h-.9zM177.3 255.7h.9v.9h-.9zM161.4 254.1h.9v.9h-.9zM179.5 249.5h.9v.9h-.9zM176.3 265.6h.9v.9h-.9zM191.8 257.3h.9v.9h-.9zM180.6 252.7h.9v.9h-.9zM188.6 252.0h.9v.9h-.9zM173.4 257.6h.9v.9h-.9zM172.3 250.3h.9v.9h-.9zM189.0 246.4h.9v.9h-.9zM178.6 254.8h.9v.9h-.9zM180.8 247.1h.9v.9h-.9zM177.5 252.6h.9v.9h-.9zM192.3 259.1h.9v.9h-.9zM173.8 258.5h.9v.9h-.9zM183.5 253.7h.9v.9h-.9zM177.4 252.9h.9v.9h-.9zM168.4 251.1h.9v.9h-.9zM185.5 261.3h.9v.9h-.9zM191.8 252.4h.9v.9h-.9zM183.3 242.5h.9v.9h-.9zM177.2 248.0h.9v.9h-.9zM184.7 246.1h.9v.9h-.9zM171.8 248.8h.9v.9h-.9zM181.8 258.3h.9v.9h-.9zM172.7 263.0h.9v.9h-.9zM180.1 250.1h.9v.9h-.9zM181.4 254.1h.9v.9h-.9zM184.8 255.9h.9v.9h-.9zM194.2 259.9h.9v.9h-.9zM174.6 258.0h.9v.9h-.9zM184.3 249.3h.9v.9h-.9zM173.9 250.3h.9v.9h-.9zM162.0 257.3h.9v.9h-.9zM177.5 260.2h.9v.9h-.9zM175.2 254.6h.9v.9h-.9zM184.0 258.9h.9v.9h-.9zM181.2 249.1h.9v.9h-.9zM194.3 258.4h.9v.9h-.9zM188.4 262.1h.9v.9h-.9zM188.7 256.2h.9v.9h-.9zM182.3 257.3h.9v.9h-.9zM168.7 258.2h.9v.9h-.9zM172.3 256.3h.9v.9h-.9zM172.1 257.7h.9v.9h-.9zM175.7 266.3h.9v.9h-.9zM180.4 256.7h.9v.9h-.9zM172.8 252.8h.9v.9h-.9zM178.6 252.8h.9v.9h-.9zM176.0 249.9h.9v.9h-.9zM184.3 252.3h.9v.9h-.9zM173.4 256.0h.9v.9h-.9zM173.4 253.4h.9v.9h-.9zM175.5 249.7h.9v.9h-.9zM177.5 250.2h.9v.9h-.9zM170.4 255.9h.9v.9h-.9zM177.0 247.1h.9v.9h-.9zM176.3 255.1h.9v.9h-.9zM182.0 256.0h.9v.9h-.9zM180.8 257.1h.9v.9h-.9zM175.6 250.3h.9v.9h-.9zM183.3 252.2h.9v.9h-.9zM179.1 257.4h.9v.9h-.9zM185.5 260.2h.9v.9h-.9zM174.3 252.4h.9v.9h-.9zM182.9 247.2h.9v.9h-.9zM170.4 257.2h.9v.9h-.9zM174.8 249.7h.9v.9h-.9zM184.6 256.8h.9v.9h-.9zM185.4 252.6h.9v.9h-.9zM177.1 252.6h.9v.9h-.9zM181.1 244.3h.9v.9h-.9zM174.3 257.7h.9v.9h-.9zM173.7 253.9h.9v.9h-.9zM179.9 256.7h.9v.9h-.9zM175.8 248.7h.9v.9h-.9zM196.3 250.7h.9v.9h-.9zM190.8 245.7h.9v.9h-.9zM179.8 253.3h.9v.9h-.9zM192.1 264.1h.9v.9h-.9zM185.8 249.3h.9v.9h-.9zM173.5 250.5h.9v.9h-.9zM175.5 255.5h.9v.9h-.9zM173.6 253.0h.9v.9h-.9zM189.2 261.2h.9v.9h-.9zM166.2 249.6h.9v.9h-.9zM176.5 260.5h.9v.9h-.9zM176.8 263.5h.9v.9h-.9zM181.6 261.2h.9v.9h-.9zM173.2 252.7h.9v.9h-.9zM186.1 257.0h.9v.9h-.9zM166.2 252.9h.9v.9h-.9zM180.3 257.3h.9v.9h-.9zM174.7 262.7h.9v.9h-.9zM180.1 261.2h.9v.9h-.9zM181.8 254.6h.9v.9h-.9zM176.9 248.5h.9v.9h-.9zM185.0 257.9h.9v.9h-.9zM185.5 252.4h.9v.9h-.9zM172.2 252.4h.9v.9h-.9zM176.9 254.1h.9v.9h-.9zM185.8 249.8h.9v.9h-.9zM175.7 257.6h.9v.9h-.9zM185.3 264.9h.9v.9h-.9zM182.7 250.1h.9v.9h-.9zM171.9 250.4h.9v.9h-.9zM179.6 255.4h.9v.9h-.9zM178.6 251.2h.9v.9h-.9zM177.8 253.8h.9v.9h-.9zM183.2 254.6h.9v.9h-.9zM173.5 248.5h.9v.9h-.9zM189.3 253.8h.9v.9h-.9zM177.9 254.1h.9v.9h-.9zM186.8 252.7h.9v.9h-.9zM180.3 253.1h.9v.9h-.9zM183.1 249.3h.9v.9h-.9zM180.5 259.2h.9v.9h-.9zM187.2 257.2h.9v.9h-.9zM181.1 261.8h.9v.9h-.9zM183.9 261.0h.9v.9h-.9zM170.8 248.9h.9v.9h-.9zM184.6 252.9h.9v.9h-.9zM176.1 249.6h.9v.9h-.9zM189.3 248.4h.9v.9h-.9zM179.8 247.5h.9v.9h-.9zM177.9 265.1h.9v.9h-.9zM195.8 251.8h.9v.9h-.9zM172.2 262.1h.9v.9h-.9zM173.2 245.6h.9v.9h-.9zM181.5 249.0h.9v.9h-.9zM169.1 259.7h.9v.9h-.9zM174.1 249.1h.9v.9h-.9zM180.2 253.3h.9v.9h-.9zM186.8 254.7h.9v.9h-.9zM190.0 259.7h.9v.9h-.9zM191.3 259.6h.9v.9h-.9zM179.6 256.8h.9v.9h-.9zM179.2 246.7h.9v.9h-.9zM171.0 257.8h.9v.9h-.9zM162.9 250.2h.9v.9h-.9zM170.3 253.9h.9v.9h-.9zM172.0 255.4h.9v.9h-.9zM177.7 251.9h.9v.9h-.9zM173.3 243.5h.9v.9h-.9zM179.6 248.0h.9v.9h-.9zM177.1 256.0h.9v.9h-.9zM186.3 257.6h.9v.9h-.9zM189.2 247.3h.9v.9h-.9zM183.7 261.8h.9v.9h-.9zM181.8 248.8h.9v.9h-.9zM181.8 251.7h.9v.9h-.9zM174.7 259.4h.9v.9h-.9zM177.9 248.8h.9v.9h-.9zM174.5 263.7h.9v.9h-.9zM173.3 257.5h.9v.9h-.9zM180.3 259.9h.9v.9h-.9zM177.2 249.6h.9v.9h-.9zM174.7 249.2h.9v.9h-.9zM196.9 255.2h.9v.9h-.9zM176.9 260.3h.9v.9h-.9zM183.6 253.3h.9v.9h-.9zM183.4 255.5h.9v.9h-.9zM186.8 262.2h.9v.9h-.9zM177.0 254.0h.9v.9h-.9zM177.9 260.1h.9v.9h-.9zM181.7 258.0h.9v.9h-.9zM185.3 251.1h.9v.9h-.9zM180.0 260.9h.9v.9h-.9zM185.4 258.1h.9v.9h-.9zM177.2 252.5h.9v.9h-.9zM173.3 252.9h.9v.9h-.9zM178.7 247.3h.9v.9h-.9zM187.1 250.5h.9v.9h-.9zM180.8 257.1h.9v.9h-.9zM175.3 245.5h.9v.9h-.9zM185.7 256.2h.9v.9h-.9zM177.4 259.7h.9v.9h-.9zM185.2 249.6h.9v.9h-.9zM178.6 245.7h.9v.9h-.9zM177.3 261.0h.9v.9h-.9zM173.4 258.2h.9v.9h-.9zM168.8 252.8h.9v.9h-.9zM185.6 262.5h.9v.9h-.9zM182.2 257.9h.9v.9h-.9zM190.9 242.4h.9v.9h-.9zM167.4 263.4h.9v.9h-.9zM196.0 257.1h.9v.9h-.9zM179.6 255.5h.9v.9h-.9zM179.3 251.2h.9v.9h-.9zM179.0 253.6h.9v.9h-.9zM183.7 257.5h.9v.9h-.9zM185.8 257.1h.9v.9h-.9zM172.5 260.9h.9v.9h-.9zM160.9 254.8h.9v.9h-.9zM181.4 251.7h.9v.9h-.9zM191.9 248.9h.9v.9h-.9zM171.1 251.8h.9v.9h-.9zM182.0 258.1h.9v.9h-.9zM179.9 257.4h.9v.9h-.9zM174.3 251.3h.9v.9h-.9zM180.0 247.7h.9v.9h-.9zM180.4 252.3h.9v.9h-.9zM183.8 249.3h.9v.9h-.9zM175.5 251.5h.9v.9h-.9zM176.6 249.4h.9v.9h-.9zM177.3 247.7h.9v.9h-.9zM182.8 257.5h.9v.9h-.9zM179.0 253.3h.9v.9h-.9zM173.1 249.6h.9v.9h-.9zM177.6 249.8h.9v.9h-.9zM171.1 255.0h.9v.9h-.9zM179.0 252.3h.9v.9h-.9zM173.6 254.0h.9v.9h-.9zM174.4 252.1h.9v.9h-.9zM180.4 257.7h.9v.9h-.9zM184.3 251.3h.9v.9h-.9zM187.3 248.6h.9v.9h-.9zM177.9 260.5h.9v.9h-.9zM195.2 254.8h.9v.9h-.9zM176.7 252.4h.9v.9h-.9zM170.9 253.5h.9v.9h-.9zM176.2 250.6h.9v.9h-.9zM187.2 250.5h.9v.9h-.9zM190.6 258.3h.9v.9h-.9zM183.5 251.4h.9v.9h-.9zM175.7 244.6h.9v.9h-.9zM181.0 252.9h.9v.9h-.9zM181.7 251.0h.9v.9h-.9zM182.4 247.0h.9v.9h-.9zM164.3 256.5h.9v.9h-.9zM186.4 239.0h.9v.9h-.9zM187.8 252.5h.9v.9h-.9zM178.0 246.8h.9v.9h-.9zM172.3 257.6h.9v.9h-.9zM174.1 254.0h.9v.9h-.9zM178.1 263.8h.9v.9h-.9zM185.1 247.8h.9v.9h-.9zM175.9 248.7h.9v.9h-.9zM169.7 250.9h.9v.9h-.9zM186.6 254.4h.9v.9h-.9zM183.7 253.6h.9v.9h-.9zM176.2 254.6h.9v.9h-.9zM178.6 263.5h.9v.9h-.9zM191.3 256.0h.9v.9h-.9zM183.2 244.6h.9v.9h-.9zM178.3 265.8h.9v.9h-.9zM173.7 258.1h.9v.9h-.9zM187.4 252.3h.9v.9h-.9zM177.6 252.0h.9v.9h-.9zM184.5 254.3h.9v.9h-.9zM189.3 259.9h.9v.9h-.9zM179.0 266.8h.9v.9h-.9zM177.0 251.3h.9v.9h-.9zM177.5 250.0h.9v.9h-.9zM176.3 253.9h.9v.9h-.9zM185.1 246.6h.9v.9h-.9zM169.6 250.5h.9v.9h-.9zM177.0 256.4h.9v.9h-.9zM173.8 261.5h.9v.9h-.9zM175.5 253.2h.9v.9h-.9zM179.5 259.9h.9v.9h-.9zM181.1 254.3h.9v.9h-.9zM175.4 255.0h.9v.9h-.9zM181.8 252.5h.9v.9h-.9zM178.9 245.3h.9v.9h-.9zM175.5 259.9h.9v.9h-.9zM188.7 253.9h.9v.9h-.9zM164.5 263.1h.9v.9h-.9zM177.9 266.6h.9v.9h-.9zM176.3 259.1h.9v.9h-.9zM174.9 260.9h.9v.9h-.9zM186.9 249.1h.9v.9h-.9zM187.8 268.1h.9v.9h-.9zM177.6 248.3h.9v.9h-.9zM181.0 252.3h.9v.9h-.9zM169.0 249.1h.9v.9h-.9zM180.7 246.8h.9v.9h-.9zM186.4 256.4h.9v.9h-.9zM177.9 261.0h.9v.9h-.9zM172.8 257.5h.9v.9h-.9zM169.9 252.6h.9v.9h-.9zM183.4 251.6h.9v.9h-.9zM178.3 257.4h.9v.9h-.9zM189.4 260.5h.9v.9h-.9zM182.2 252.9h.9v.9h-.9zM169.3 262.5h.9v.9h-.9zM191.7 243.8h.9v.9h-.9zM184.9 254.0h.9v.9h-.9zM183.8 255.7h.9v.9h-.9zM177.8 254.2h.9v.9h-.9zM178.8 259.9h.9v.9h-.9zM177.3 251.6h.9v.9h-.9zM183.5 257.3h.9v.9h-.9zM182.0 255.6h.9v.9h-.9zM189.0 259.6h.9v.9h-.9zM180.5 253.2h.9v.9h-.9zM183.5 245.1h.9v.9h-.9zM175.6 250.8h.9v.9h-.9zM180.2 252.3h.9v.9h-.9zM195.7 257.8h.9v.9h-.9zM181.8 265.1h.9v.9h-.9zM179.1 252.7h.9v.9h-.9zM187.4 258.2h.9v.9h-.9zM185.3 260.1h.9v.9h-.9zM176.6 251.0h.9v.9h-.9zM174.2 254.7h.9v.9h-.9zM185.8 249.1h.9v.9h-.9zM175.5 247.7h.9v.9h-.9zM192.5 258.1h.9v.9h-.9zM180.5 248.3h.9v.9h-.9zM172.1 251.1h.9v.9h-.9zM179.3 248.0h.9v.9h-.9zM177.5 260.1h.9v.9h-.9zM179.2 254.7h.9v.9h-.9zM165.0 252.9h.9v.9h-.9zM178.1 250.8h.9v.9h-.9zM169.7 253.9h.9v.9h-.9zM172.2 251.5h.9v.9h-.9zM168.3 253.7h.9v.9h-.9zM185.2 250.1h.9v.9h-.9zM181.2 246.8h.9v.9h-.9zM183.0 256.8h.9v.9h-.9zM176.5 258.5h.9v.9h-.9zM173.2 254.4h.9v.9h-.9zM190.4 254.1h.9v.9h-.9zM171.5 259.8h.9v.9h-.9zM182.7 252.9h.9v.9h-.9zM166.8 245.0h.9v.9h-.9zM168.8 261.4h.9v.9h-.9zM181.0 250.1h.9v.9h-.9zM186.8 261.3h.9v.9h-.9zM173.4 256.6h.9v.9h-.9zM168.0 256.0h.9v.9h-.9zM191.3 247.3h.9v.9h-.9zM179.4 251.1h.9v.9h-.9zM178.4 254.6h.9v.9h-.9zM180.9 258.5h.9v.9h-.9zM182.5 259.3h.9v.9h-.9zM185.9 259.6h.9v.9h-.9zM174.5 256.2h.9v.9h-.9zM176.6 250.1h.9v.9h-.9zM192.2 255.6h.9v.9h-.9zM179.4 243.9h.9v.9h-.9zM177.5 258.0h.9v.9h-.9zM177.7 251.5h.9v.9h-.9zM189.0 252.7h.9v.9h-.9zM176.8 253.7h.9v.9h-.9zM177.5 259.3h.9v.9h-.9zM182.9 253.9h.9v.9h-.9zM176.6 253.1h.9v.9h-.9zM190.4 252.7h.9v.9h-.9zM183.5 246.5h.9v.9h-.9zM181.2 257.6h.9v.9h-.9zM187.6 255.7h.9v.9h-.9zM182.9 255.8h.9v.9h-.9zM186.2 264.2h.9v.9h-.9zM180.4 250.2h.9v.9h-.9zM183.1 253.7h.9v.9h-.9zM183.4 258.0h.9v.9h-.9zM180.1 252.1h.9v.9h-.9zM181.1 261.7h.9v.9h-.9zM180.9 264.2h.9v.9h-.9zM182.1 271.0h.9v.9h-.9zM177.6 262.0h.9v.9h-.9zM179.4 265.6h.9v.9h-.9zM178.1 274.9h.9v.9h-.9zM185.5 261.4h.9v.9h-.9zM185.3 279.5h.9v.9h-.9zM186.6 272.1h.9v.9h-.9zM178.5 282.1h.9v.9h-.9zM176.9 259.8h.9v.9h-.9zM179.7 272.2h.9v.9h-.9zM172.1 261.9h.9v.9h-.9zM192.3 271.0h.9v.9h-.9zM184.3 266.2h.9v.9h-.9zM168.9 269.0h.9v.9h-.9zM188.1 265.6h.9v.9h-.9zM167.1 269.0h.9v.9h-.9zM177.2 270.3h.9v.9h-.9zM172.1 268.1h.9v.9h-.9zM175.4 276.2h.9v.9h-.9zM180.1 276.2h.9v.9h-.9zM178.7 255.6h.9v.9h-.9zM166.0 273.9h.9v.9h-.9zM184.9 276.2h.9v.9h-.9zM178.6 258.0h.9v.9h-.9zM175.8 273.0h.9v.9h-.9zM188.3 267.9h.9v.9h-.9zM175.3 264.9h.9v.9h-.9zM185.9 276.1h.9v.9h-.9zM166.9 278.5h.9v.9h-.9zM172.9 260.2h.9v.9h-.9zM168.4 265.2h.9v.9h-.9zM194.6 287.7h.9v.9h-.9zM170.7 265.6h.9v.9h-.9zM180.1 273.0h.9v.9h-.9zM175.9 259.4h.9v.9h-.9zM176.3 265.6h.9v.9h-.9zM167.1 271.2h.9v.9h-.9zM169.3 258.3h.9v.9h-.9zM189.2 276.6h.9v.9h-.9zM188.8 271.0h.9v.9h-.9zM176.3 269.6h.9v.9h-.9zM169.9 275.3h.9v.9h-.9zM180.9 268.1h.9v.9h-.9zM166.6 269.4h.9v.9h-.9zM190.0 280.1h.9v.9h-.9zM184.9 267.8h.9v.9h-.9zM180.0 274.0h.9v.9h-.9zM180.4 277.4h.9v.9h-.9zM174.6 254.3h.9v.9h-.9zM162.8 264.0h.9v.9h-.9zM169.8 274.7h.9v.9h-.9zM186.3 270.2h.9v.9h-.9zM182.7 270.7h.9v.9h-.9zM180.2 267.0h.9v.9h-.9zM176.4 278.3h.9v.9h-.9zM177.3 269.9h.9v.9h-.9zM187.1 276.9h.9v.9h-.9zM176.5 271.9h.9v.9h-.9zM172.3 271.1h.9v.9h-.9zM181.2 270.2h.9v.9h-.9zM180.2 272.7h.9v.9h-.9zM162.1 264.6h.9v.9h-.9zM179.6 266.8h.9v.9h-.9zM172.6 268.6h.9v.9h-.9zM189.9 268.6h.9v.9h-.9zM174.7 266.9h.9v.9h-.9zM171.1 273.5h.9v.9h-.9zM172.5 276.4h.9v.9h-.9zM185.2 274.1h.9v.9h-.9zM186.0 269.6h.9v.9h-.9zM167.3 269.8h.9v.9h-.9zM183.4 259.6h.9v.9h-.9zM170.9 277.7h.9v.9h-.9zM182.0 279.4h.9v.9h-.9zM183.6 270.7h.9v.9h-.9zM182.0 276.0h.9v.9h-.9zM178.9 268.8h.9v.9h-.9zM181.2 268.0h.9v.9h-.9zM195.3 265.0h.9v.9h-.9zM168.9 261.4h.9v.9h-.9zM186.1 267.4h.9v.9h-.9zM180.2 268.7h.9v.9h-.9zM180.9 260.3h.9v.9h-.9zM179.7 266.3h.9v.9h-.9zM186.4 274.5h.9v.9h-.9zM170.6 263.6h.9v.9h-.9zM182.9 278.4h.9v.9h-.9zM184.2 269.2h.9v.9h-.9zM186.6 254.1h.9v.9h-.9zM175.5 263.5h.9v.9h-.9zM172.2 274.1h.9v.9h-.9zM181.0 272.1h.9v.9h-.9zM178.2 274.4h.9v.9h-.9zM184.4 266.3h.9v.9h-.9zM185.4 263.8h.9v.9h-.9zM191.0 261.3h.9v.9h-.9zM177.2 262.8h.9v.9h-.9zM179.4 279.2h.9v.9h-.9zM174.0 282.4h.9v.9h-.9zM188.6 272.8h.9v.9h-.9zM175.1 276.4h.9v.9h-.9zM159.8 265.0h.9v.9h-.9zM185.6 269.9h.9v.9h-.9zM195.9 265.6h.9v.9h-.9zM170.1 268.7h.9v.9h-.9zM183.0 281.9h.9v.9h-.9zM167.2 271.3h.9v.9h-.9zM187.6 265.6h.9v.9h-.9zM176.0 261.9h.9v.9h-.9zM184.3 275.9h.9v.9h-.9zM183.1 271.9h.9v.9h-.9zM185.8 269.4h.9v.9h-.9zM183.9 275.8h.9v.9h-.9zM187.9 273.7h.9v.9h-.9zM179.7 275.1h.9v.9h-.9zM168.6 258.1h.9v.9h-.9zM190.1 271.1h.9v.9h-.9zM172.0 266.2h.9v.9h-.9zM178.1 270.7h.9v.9h-.9zM173.9 277.0h.9v.9h-.9zM167.5 289.5h.9v.9h-.9zM171.7 281.6h.9v.9h-.9zM183.6 258.6h.9v.9h-.9zM170.8 270.6h.9v.9h-.9zM180.9 267.3h.9v.9h-.9zM179.2 271.3h.9v.9h-.9zM171.3 270.6h.9v.9h-.9zM194.6 265.8h.9v.9h-.9zM172.2 274.8h.9v.9h-.9zM188.3 277.4h.9v.9h-.9zM174.8 269.7h.9v.9h-.9zM180.5 268.8h.9v.9h-.9zM181.8 277.7h.9v.9h-.9zM182.8 270.1h.9v.9h-.9zM177.7 282.5h.9v.9h-.9zM170.7 284.0h.9v.9h-.9zM184.1 270.8h.9v.9h-.9zM174.0 282.8h.9v.9h-.9zM187.4 276.5h.9v.9h-.9zM193.3 257.8h.9v.9h-.9zM179.8 268.1h.9v.9h-.9zM174.1 270.7h.9v.9h-.9zM182.8 273.8h.9v.9h-.9zM178.1 261.1h.9v.9h-.9zM182.9 274.4h.9v.9h-.9zM193.6 276.6h.9v.9h-.9zM179.2 262.3h.9v.9h-.9zM197.8 265.5h.9v.9h-.9zM180.4 275.4h.9v.9h-.9zM182.5 279.4h.9v.9h-.9zM172.0 265.4h.9v.9h-.9zM180.3 261.7h.9v.9h-.9zM174.9 279.8h.9v.9h-.9zM181.1 269.5h.9v.9h-.9zM175.2 270.5h.9v.9h-.9zM178.9 262.8h.9v.9h-.9zM184.5 261.4h.9v.9h-.9zM187.9 267.9h.9v.9h-.9zM163.4 259.5h.9v.9h-.9zM181.1 264.2h.9v.9h-.9zM191.6 279.8h.9v.9h-.9zM193.6 276.4h.9v.9h-.9zM188.4 266.0h.9v.9h-.9zM188.1 267.2h.9v.9h-.9zM178.8 260.8h.9v.9h-.9zM179.5 273.0h.9v.9h-.9zM178.7 262.5h.9v.9h-.9zM185.3 276.5h.9v.9h-.9zM178.5 275.6h.9v.9h-.9zM185.9 263.4h.9v.9h-.9zM178.9 257.3h.9v.9h-.9zM171.9 273.2h.9v.9h-.9zM173.0 272.9h.9v.9h-.9zM181.6 255.9h.9v.9h-.9zM175.7 280.7h.9v.9h-.9zM179.2 271.1h.9v.9h-.9zM174.2 259.1h.9v.9h-.9zM168.0 290.2h.9v.9h-.9zM177.8 264.2h.9v.9h-.9zM179.9 256.7h.9v.9h-.9zM188.8 282.1h.9v.9h-.9zM173.9 272.4h.9v.9h-.9zM172.8 276.2h.9v.9h-.9zM173.2 269.2h.9v.9h-.9zM188.2 273.8h.9v.9h-.9zM176.8 259.6h.9v.9h-.9zM168.0 278.6h.9v.9h-.9zM182.7 270.6h.9v.9h-.9zM187.8 271.2h.9v.9h-.9zM174.0 269.5h.9v.9h-.9zM178.4 270.1h.9v.9h-.9zM196.5 274.2h.9v.9h-.9zM181.0 268.5h.9v.9h-.9zM174.3 263.3h.9v.9h-.9zM166.0 267.0h.9v.9h-.9zM168.5 257.3h.9v.9h-.9zM172.5 256.1h.9v.9h-.9zM188.7 278.9h.9v.9h-.9zM172.3 284.5h.9v.9h-.9zM183.7 252.6h.9v.9h-.9zM179.2 263.2h.9v.9h-.9zM166.9 268.4h.9v.9h-.9zM187.1 273.3h.9v.9h-.9zM168.9 265.6h.9v.9h-.9zM173.8 278.2h.9v.9h-.9zM178.4 263.4h.9v.9h-.9zM172.7 256.4h.9v.9h-.9zM173.2 276.5h.9v.9h-.9zM165.7 271.5h.9v.9h-.9zM178.3 275.9h.9v.9h-.9zM171.1 276.6h.9v.9h-.9zM190.0 286.2h.9v.9h-.9zM167.7 270.0h.9v.9h-.9zM177.6 271.1h.9v.9h-.9zM172.1 276.2h.9v.9h-.9zM195.5 280.7h.9v.9h-.9zM172.4 266.2h.9v.9h-.9zM184.2 271.1h.9v.9h-.9zM173.7 278.9h.9v.9h-.9zM182.7 277.4h.9v.9h-.9zM177.8 279.2h.9v.9h-.9zM175.8 262.4h.9v.9h-.9zM179.0 260.4h.9v.9h-.9zM187.9 275.3h.9v.9h-.9zM167.3 271.4h.9v.9h-.9zM185.0 267.7h.9v.9h-.9zM182.0 266.1h.9v.9h-.9zM178.6 269.6h.9v.9h-.9zM182.5 263.4h.9v.9h-.9zM171.1 272.5h.9v.9h-.9zM175.5 273.8h.9v.9h-.9zM175.5 261.0h.9v.9h-.9zM184.2 272.1h.9v.9h-.9zM184.2 267.8h.9v.9h-.9zM176.5 279.1h.9v.9h-.9zM167.2 282.4h.9v.9h-.9zM182.7 269.8h.9v.9h-.9zM179.7 274.4h.9v.9h-.9zM173.6 272.1h.9v.9h-.9zM172.3 257.2h.9v.9h-.9zM180.5 270.9h.9v.9h-.9zM183.6 274.1h.9v.9h-.9zM184.0 275.7h.9v.9h-.9zM171.6 278.7h.9v.9h-.9zM197.9 266.2h.9v.9h-.9zM170.2 275.0h.9v.9h-.9zM185.5 277.3h.9v.9h-.9zM189.8 260.5h.9v.9h-.9zM181.7 273.5h.9v.9h-.9zM187.8 263.9h.9v.9h-.9zM179.2 267.6h.9v.9h-.9zM177.9 269.2h.9v.9h-.9zM178.0 257.8h.9v.9h-.9zM178.8 270.7h.9v.9h-.9zM176.3 245.3h.9v.9h-.9zM174.1 265.6h.9v.9h-.9zM172.9 281.5h.9v.9h-.9zM185.5 268.9h.9v.9h-.9zM183.3 293.3h.9v.9h-.9zM172.2 273.5h.9v.9h-.9zM174.8 280.6h.9v.9h-.9zM186.8 269.3h.9v.9h-.9zM183.3 264.6h.9v.9h-.9zM167.9 276.1h.9v.9h-.9zM190.5 268.1h.9v.9h-.9zM175.3 257.6h.9v.9h-.9zM194.1 261.8h.9v.9h-.9zM172.2 268.8h.9v.9h-.9zM187.6 270.6h.9v.9h-.9zM178.9 270.3h.9v.9h-.9zM185.0 269.9h.9v.9h-.9zM180.1 269.7h.9v.9h-.9zM171.2 279.6h.9v.9h-.9zM174.1 260.9h.9v.9h-.9zM175.9 270.4h.9v.9h-.9zM184.8 259.9h.9v.9h-.9zM170.1 271.5h.9v.9h-.9zM181.7 262.5h.9v.9h-.9zM171.0 271.4h.9v.9h-.9zM178.0 258.8h.9v.9h-.9zM172.8 280.6h.9v.9h-.9zM171.6 277.6h.9v.9h-.9zM168.2 280.6h.9v.9h-.9zM190.3 265.7h.9v.9h-.9zM174.2 274.6h.9v.9h-.9zM170.3 274.1h.9v.9h-.9zM187.6 272.1h.9v.9h-.9zM181.3 269.1h.9v.9h-.9zM186.1 264.4h.9v.9h-.9zM190.2 270.0h.9v.9h-.9zM176.7 258.7h.9v.9h-.9zM175.9 271.9h.9v.9h-.9zM187.8 258.9h.9v.9h-.9zM178.1 265.4h.9v.9h-.9zM170.6 270.2h.9v.9h-.9zM173.7 276.3h.9v.9h-.9zM160.0 275.4h.9v.9h-.9zM165.6 256.5h.9v.9h-.9zM182.7 267.8h.9v.9h-.9zM179.9 263.4h.9v.9h-.9zM171.6 265.0h.9v.9h-.9zM178.6 264.3h.9v.9h-.9zM176.1 264.2h.9v.9h-.9zM180.7 262.2h.9v.9h-.9zM164.4 251.7h.9v.9h-.9zM178.9 270.9h.9v.9h-.9zM185.8 265.0h.9v.9h-.9zM171.0 259.7h.9v.9h-.9zM184.3 265.8h.9v.9h-.9zM185.9 269.6h.9v.9h-.9zM177.1 257.1h.9v.9h-.9zM174.2 275.7h.9v.9h-.9zM174.7 275.0h.9v.9h-.9zM167.4 277.3h.9v.9h-.9zM198.6 278.0h.9v.9h-.9zM181.3 261.5h.9v.9h-.9zM175.3 265.6h.9v.9h-.9zM180.3 256.0h.9v.9h-.9zM172.9 275.8h.9v.9h-.9zM180.0 275.4h.9v.9h-.9zM185.0 262.2h.9v.9h-.9zM169.5 273.5h.9v.9h-.9zM179.2 270.8h.9v.9h-.9zM173.3 277.4h.9v.9h-.9zM182.5 278.2h.9v.9h-.9zM176.5 275.1h.9v.9h-.9zM178.6 263.6h.9v.9h-.9zM178.4 258.6h.9v.9h-.9zM177.7 271.5h.9v.9h-.9zM183.9 262.8h.9v.9h-.9zM169.7 265.1h.9v.9h-.9zM164.4 265.6h.9v.9h-.9zM197.4 271.2h.9v.9h-.9zM173.7 265.4h.9v.9h-.9zM191.4 262.0h.9v.9h-.9zM178.2 269.6h.9v.9h-.9zM173.8 265.1h.9v.9h-.9zM167.2 264.3h.9v.9h-.9zM188.1 280.1h.9v.9h-.9zM177.0 275.1h.9v.9h-.9zM182.2 271.0h.9v.9h-.9zM178.0 278.7h.9v.9h-.9zM183.0 268.6h.9v.9h-.9zM177.4 276.8h.9v.9h-.9zM174.8 265.2h.9v.9h-.9zM177.1 266.7h.9v.9h-.9zM187.9 272.7h.9v.9h-.9zM178.4 266.5h.9v.9h-.9zM188.9 273.3h.9v.9h-.9zM193.6 276.6h.9v.9h-.9zM177.5 266.3h.9v.9h-.9zM177.0 271.5h.9v.9h-.9zM184.6 273.6h.9v.9h-.9zM190.0 259.5h.9v.9h-.9zM179.2 260.2h.9v.9h-.9zM171.8 266.0h.9v.9h-.9zM174.4 263.4h.9v.9h-.9zM168.3 278.2h.9v.9h-.9zM176.8 277.0h.9v.9h-.9zM171.2 253.9h.9v.9h-.9zM174.8 276.4h.9v.9h-.9zM175.1 273.0h.9v.9h-.9zM171.4 280.0h.9v.9h-.9zM182.0 277.6h.9v.9h-.9zM177.0 279.2h.9v.9h-.9zM179.5 266.8h.9v.9h-.9zM174.5 270.6h.9v.9h-.9zM172.6 261.8h.9v.9h-.9zM179.9 275.2h.9v.9h-.9zM177.0 276.1h.9v.9h-.9zM190.1 261.3h.9v.9h-.9zM180.8 263.4h.9v.9h-.9zM174.5 271.4h.9v.9h-.9zM162.3 274.4h.9v.9h-.9zM184.9 274.0h.9v.9h-.9zM183.5 282.9h.9v.9h-.9zM176.4 277.9h.9v.9h-.9zM189.2 273.6h.9v.9h-.9zM166.5 269.1h.9v.9h-.9zM176.9 258.8h.9v.9h-.9zM178.6 275.5h.9v.9h-.9zM177.2 268.9h.9v.9h-.9zM189.3 265.9h.9v.9h-.9zM172.4 270.5h.9v.9h-.9zM186.9 274.4h.9v.9h-.9zM179.5 266.7h.9v.9h-.9zM187.7 276.4h.9v.9h-.9zM166.8 272.5h.9v.9h-.9zM162.1 280.7h.9v.9h-.9zM183.3 265.8h.9v.9h-.9zM169.9 268.1h.9v.9h-.9zM166.7 274.2h.9v.9h-.9zM175.4 257.8h.9v.9h-.9zM178.8 278.5h.9v.9h-.9zM170.1 267.7h.9v.9h-.9zM191.7 271.5h.9v.9h-.9zM175.1 271.5h.9v.9h-.9zM184.5 263.1h.9v.9h-.9zM178.3 258.7h.9v.9h-.9zM167.9 259.4h.9v.9h-.9zM184.9 272.4h.9v.9h-.9zM184.1 278.7h.9v.9h-.9zM179.3 271.8h.9v.9h-.9zM181.8 273.5h.9v.9h-.9zM171.5 268.3h.9v.9h-.9zM177.9 270.4h.9v.9h-.9zM173.7 269.3h.9v.9h-.9zM181.0 271.5h.9v.9h-.9zM183.1 276.0h.9v.9h-.9zM182.9 277.0h.9v.9h-.9zM184.9 280.0h.9v.9h-.9zM183.4 265.8h.9v.9h-.9zM195.3 278.1h.9v.9h-.9zM187.8 275.3h.9v.9h-.9zM179.3 262.2h.9v.9h-.9zM182.1 267.7h.9v.9h-.9zM176.2 255.2h.9v.9h-.9zM189.9 262.0h.9v.9h-.9zM171.3 273.5h.9v.9h-.9zM183.0 264.6h.9v.9h-.9zM178.9 272.0h.9v.9h-.9zM180.1 273.9h.9v.9h-.9zM184.4 267.6h.9v.9h-.9zM167.6 285.4h.9v.9h-.9zM176.3 263.2h.9v.9h-.9zM184.3 274.3h.9v.9h-.9zM174.7 286.7h.9v.9h-.9zM162.5 279.2h.9v.9h-.9zM178.7 272.4h.9v.9h-.9zM181.2 268.6h.9v.9h-.9zM181.2 261.1h.9v.9h-.9zM176.2 283.2h.9v.9h-.9zM160.9 278.8h.9v.9h-.9zM163.3 264.2h.9v.9h-.9zM185.2 267.3h.9v.9h-.9zM174.9 259.7h.9v.9h-.9zM178.1 268.9h.9v.9h-.9zM174.5 259.2h.9v.9h-.9zM180.1 273.1h.9v.9h-.9zM187.0 273.8h.9v.9h-.9zM189.7 278.6h.9v.9h-.9zM159.2 281.9h.9v.9h-.9zM178.3 262.8h.9v.9h-.9zM182.0 276.9h.9v.9h-.9zM168.1 261.5h.9v.9h-.9zM183.8 266.3h.9v.9h-.9zM189.2 271.7h.9v.9h-.9zM175.1 260.9h.9v.9h-.9zM183.2 258.1h.9v.9h-.9zM169.8 261.0h.9v.9h-.9zM191.0 282.2h.9v.9h-.9zM177.4 267.5h.9v.9h-.9zM183.9 278.9h.9v.9h-.9zM173.3 285.7h.9v.9h-.9zM177.5 278.1h.9v.9h-.9zM162.4 269.8h.9v.9h-.9zM174.1 284.1h.9v.9h-.9zM177.5 261.2h.9v.9h-.9zM192.7 265.4h.9v.9h-.9zM179.0 261.4h.9v.9h-.9zM183.8 271.5h.9v.9h-.9zM177.0 267.4h.9v.9h-.9zM175.0 265.1h.9v.9h-.9zM169.1 278.7h.9v.9h-.9zM185.3 260.4h.9v.9h-.9zM170.8 273.1h.9v.9h-.9zM194.9 268.8h.9v.9h-.9zM176.8 268.4h.9v.9h-.9zM180.7 269.0h.9v.9h-.9zM186.6 277.1h.9v.9h-.9zM182.9 281.3h.9v.9h-.9zM177.4 266.3h.9v.9h-.9zM199.9 256.6h.9v.9h-.9zM168.0 253.6h.9v.9h-.9zM181.5 262.7h.9v.9h-.9zM186.5 255.5h.9v.9h-.9zM178.0 267.4h.9v.9h-.9zM171.4 278.0h.9v.9h-.9zM176.2 273.4h.9v.9h-.9zM175.3 271.2h.9v.9h-.9zM175.8 270.7h.9v.9h-.9zM178.3 265.4h.9v.9h-.9zM182.1 268.9h.9v.9h-.9zM172.2 262.8h.9v.9h-.9zM182.1 279.5h.9v.9h-.9zM169.8 267.3h.9v.9h-.9zM182.2 277.5h.9v.9h-.9zM184.0 261.9h.9v.9h-.9zM179.2 276.5h.9v.9h-.9zM180.7 268.6h.9v.9h-.9zM170.7 271.4h.9v.9h-.9zM178.5 270.4h.9v.9h-.9zM189.6 278.5h.9v.9h-.9zM173.4 271.8h.9v.9h-.9zM176.8 270.9h.9v.9h-.9zM190.5 276.6h.9v.9h-.9zM179.3 265.6h.9v.9h-.9zM177.8 272.7h.9v.9h-.9zM175.5 277.9h.9v.9h-.9zM179.1 261.9h.9v.9h-.9zM193.4 249.8h.9v.9h-.9zM177.1 269.3h.9v.9h-.9zM185.9 278.0h.9v.9h-.9zM189.2 281.2h.9v.9h-.9zM181.2 271.0h.9v.9h-.9zM186.2 270.0h.9v.9h-.9zM170.1 267.0h.9v.9h-.9zM183.7 274.5h.9v.9h-.9zM171.2 278.6h.9v.9h-.9zM181.2 259.6h.9v.9h-.9zM182.3 277.3h.9v.9h-.9zM182.7 268.0h.9v.9h-.9zM173.4 278.1h.9v.9h-.9zM180.6 270.2h.9v.9h-.9zM176.2 262.9h.9v.9h-.9zM165.8 267.8h.9v.9h-.9zM186.8 275.6h.9v.9h-.9zM174.2 280.9h.9v.9h-.9zM177.4 263.1h.9v.9h-.9zM185.9 279.9h.9v.9h-.9zM176.3 261.6h.9v.9h-.9zM178.5 253.1h.9v.9h-.9zM179.4 280.9h.9v.9h-.9zM180.9 265.0h.9v.9h-.9zM184.0 266.7h.9v.9h-.9zM187.9 267.7h.9v.9h-.9zM193.3 267.7h.9v.9h-.9zM180.3 263.6h.9v.9h-.9zM170.0 272.6h.9v.9h-.9zM181.5 263.4h.9v.9h-.9zM182.9 267.3h.9v.9h-.9zM175.1 269.7h.9v.9h-.9zM181.8 275.3h.9v.9h-.9zM187.7 272.9h.9v.9h-.9zM173.9 265.4h.9v.9h-.9zM181.6 261.8h.9v.9h-.9zM177.8 267.5h.9v.9h-.9zM178.3 271.5h.9v.9h-.9zM186.3 281.7h.9v.9h-.9zM185.2 277.3h.9v.9h-.9zM171.5 277.5h.9v.9h-.9zM188.1 260.7h.9v.9h-.9zM196.7 266.2h.9v.9h-.9zM162.3 282.6h.9v.9h-.9zM179.4 264.6h.9v.9h-.9zM175.0 277.7h.9v.9h-.9zM180.8 267.6h.9v.9h-.9zM187.1 263.6h.9v.9h-.9zM173.0 266.3h.9v.9h-.9zM173.7 275.0h.9v.9h-.9zM177.4 262.8h.9v.9h-.9zM175.8 256.3h.9v.9h-.9zM180.2 270.9h.9v.9h-.9zM183.3 268.5h.9v.9h-.9zM181.8 263.6h.9v.9h-.9zM179.2 271.3h.9v.9h-.9zM170.5 274.3h.9v.9h-.9zM180.0 270.6h.9v.9h-.9zM175.6 284.2h.9v.9h-.9zM179.0 264.8h.9v.9h-.9zM173.0 274.3h.9v.9h-.9zM177.5 264.7h.9v.9h-.9zM173.9 276.7h.9v.9h-.9zM179.6 277.6h.9v.9h-.9zM178.9 261.9h.9v.9h-.9zM185.1 272.4h.9v.9h-.9zM174.4 268.0h.9v.9h-.9zM172.2 276.0h.9v.9h-.9zM176.1 273.5h.9v.9h-.9zM180.8 268.4h.9v.9h-.9zM181.6 268.5h.9v.9h-.9zM170.7 267.3h.9v.9h-.9zM170.7 275.5h.9v.9h-.9zM183.6 266.1h.9v.9h-.9zM183.3 271.9h.9v.9h-.9zM185.8 263.7h.9v.9h-.9zM179.2 263.2h.9v.9h-.9zM174.2 279.8h.9v.9h-.9zM164.9 263.8h.9v.9h-.9zM182.4 275.6h.9v.9h-.9zM173.5 256.0h.9v.9h-.9zM166.9 272.8h.9v.9h-.9zM186.7 276.6h.9v.9h-.9zM173.9 279.7h.9v.9h-.9zM177.7 274.5h.9v.9h-.9zM177.7 281.3h.9v.9h-.9zM175.4 255.2h.9v.9h-.9zM176.8 271.5h.9v.9h-.9zM180.9 265.2h.9v.9h-.9zM177.4 262.3h.9v.9h-.9zM177.4 270.8h.9v.9h-.9zM180.7 281.7h.9v.9h-.9zM165.0 273.8h.9v.9h-.9zM182.0 262.1h.9v.9h-.9zM179.5 270.1h.9v.9h-.9zM172.0 275.2h.9v.9h-.9zM192.4 274.9h.9v.9h-.9zM184.4 277.7h.9v.9h-.9zM178.1 277.0h.9v.9h-.9zM173.3 271.4h.9v.9h-.9zM183.9 279.3h.9v.9h-.9zM177.0 268.2h.9v.9h-.9zM182.3 269.6h.9v.9h-.9zM180.0 275.8h.9v.9h-.9zM173.6 276.3h.9v.9h-.9zM181.7 268.4h.9v.9h-.9zM170.3 265.8h.9v.9h-.9zM178.7 276.8h.9v.9h-.9zM165.2 275.2h.9v.9h-.9zM180.3 262.3h.9v.9h-.9zM185.0 273.0h.9v.9h-.9zM182.0 263.4h.9v.9h-.9zM171.3 276.5h.9v.9h-.9zM188.8 272.7h.9v.9h-.9zM177.7 267.1h.9v.9h-.9zM167.0 277.1h.9v.9h-.9zM178.3 278.8h.9v.9h-.9zM174.0 277.5h.9v.9h-.9zM174.0 274.3h.9v.9h-.9zM188.6 265.3h.9v.9h-.9zM185.3 270.1h.9v.9h-.9zM172.5 271.6h.9v.9h-.9zM183.5 265.2h.9v.9h-.9zM177.1 266.2h.9v.9h-.9zM173.6 268.7h.9v.9h-.9zM184.7 266.7h.9v.9h-.9zM187.7 267.6h.9v.9h-.9zM174.2 277.6h.9v.9h-.9zM188.8 265.7h.9v.9h-.9zM183.1 262.1h.9v.9h-.9zM176.2 267.6h.9v.9h-.9zM183.9 261.5h.9v.9h-.9zM175.4 265.4h.9v.9h-.9zM179.7 261.7h.9v.9h-.9zM169.7 289.8h.9v.9h-.9zM180.5 259.8h.9v.9h-.9zM184.8 261.1h.9v.9h-.9zM165.9 281.8h.9v.9h-.9zM187.7 264.4h.9v.9h-.9zM171.4 273.5h.9v.9h-.9zM193.1 274.4h.9v.9h-.9zM183.6 262.0h.9v.9h-.9zM166.7 272.9h.9v.9h-.9zM186.0 271.1h.9v.9h-.9zM179.0 279.8h.9v.9h-.9zM173.2 277.8h.9v.9h-.9zM184.8 265.9h.9v.9h-.9zM179.9 271.0h.9v.9h-.9zM183.0 263.4h.9v.9h-.9zM177.4 270.8h.9v.9h-.9zM179.2 270.3h.9v.9h-.9zM180.7 268.9h.9v.9h-.9zM175.5 277.3h.9v.9h-.9zM174.6 268.0h.9v.9h-.9zM172.9 262.3h.9v.9h-.9zM182.1 269.9h.9v.9h-.9zM178.1 273.3h.9v.9h-.9zM177.8 274.9h.9v.9h-.9zM191.5 272.6h.9v.9h-.9zM177.2 281.6h.9v.9h-.9zM183.9 258.7h.9v.9h-.9zM188.2 271.7h.9v.9h-.9zM184.9 262.2h.9v.9h-.9zM173.1 265.7h.9v.9h-.9zM182.8 262.4h.9v.9h-.9zM174.1 276.8h.9v.9h-.9zM174.6 271.0h.9v.9h-.9zM172.8 258.5h.9v.9h-.9zM178.4 269.4h.9v.9h-.9zM169.1 276.9h.9v.9h-.9zM184.6 276.3h.9v.9h-.9zM175.5 262.3h.9v.9h-.9zM178.4 271.3h.9v.9h-.9zM177.8 266.2h.9v.9h-.9zM172.1 265.1h.9v.9h-.9zM178.4 266.8h.9v.9h-.9zM190.5 268.3h.9v.9h-.9zM182.1 267.0h.9v.9h-.9zM177.7 263.5h.9v.9h-.9zM175.7 259.9h.9v.9h-.9zM164.7 279.4h.9v.9h-.9zM171.7 273.2h.9v.9h-.9zM178.1 266.3h.9v.9h-.9zM184.0 266.4h.9v.9h-.9zM182.0 267.7h.9v.9h-.9zM185.7 276.8h.9v.9h-.9zM179.4 277.7h.9v.9h-.9zM182.5 280.9h.9v.9h-.9zM178.2 259.6h.9v.9h-.9zM180.4 271.8h.9v.9h-.9zM176.5 268.8h.9v.9h-.9zM177.1 261.6h.9v.9h-.9zM190.8 264.9h.9v.9h-.9zM171.6 259.3h.9v.9h-.9zM173.2 269.9h.9v.9h-.9zM189.1 274.3h.9v.9h-.9zM174.0 261.7h.9v.9h-.9zM171.3 269.6h.9v.9h-.9zM184.9 266.9h.9v.9h-.9zM190.0 283.5h.9v.9h-.9zM180.1 255.3h.9v.9h-.9zM186.5 269.5h.9v.9h-.9zM183.6 277.0h.9v.9h-.9zM172.1 270.6h.9v.9h-.9zM180.2 265.0h.9v.9h-.9zM183.8 269.3h.9v.9h-.9zM176.2 283.1h.9v.9h-.9zM180.1 281.4h.9v.9h-.9zM177.9 277.3h.9v.9h-.9zM173.8 271.2h.9v.9h-.9zM186.4 255.3h.9v.9h-.9zM182.7 268.3h.9v.9h-.9zM186.4 271.4h.9v.9h-.9zM178.5 261.4h.9v.9h-.9zM199.1 265.1h.9v.9h-.9zM176.8 265.2h.9v.9h-.9zM176.9 271.7h.9v.9h-.9zM169.8 277.4h.9v.9h-.9zM177.2 274.3h.9v.9h-.9zM164.5 266.6h.9v.9h-.9zM176.9 267.5h.9v.9h-.9zM174.4 272.3h.9v.9h-.9zM181.8 263.5h.9v.9h-.9zM165.5 275.2h.9v.9h-.9zM176.8 277.5h.9v.9h-.9zM184.9 269.5h.9v.9h-.9zM169.2 267.7h.9v.9h-.9zM174.0 278.7h.9v.9h-.9zM167.4 276.5h.9v.9h-.9zM168.4 266.3h.9v.9h-.9zM169.3 265.4h.9v.9h-.9zM175.9 272.7h.9v.9h-.9zM174.9 274.9h.9v.9h-.9zM190.9 271.3h.9v.9h-.9zM171.1 269.0h.9v.9h-.9zM178.3 267.7h.9v.9h-.9zM186.8 278.1h.9v.9h-.9zM192.7 273.8h.9v.9h-.9zM160.7 269.3h.9v.9h-.9zM183.5 264.7h.9v.9h-.9zM174.9 276.4h.9v.9h-.9zM179.9 262.5h.9v.9h-.9zM175.0 249.0h.9v.9h-.9zM178.9 261.8h.9v.9h-.9zM178.6 262.0h.9v.9h-.9zM172.6 266.6h.9v.9h-.9zM198.0 262.0h.9v.9h-.9zM170.9 266.5h.9v.9h-.9zM186.2 275.7h.9v.9h-.9zM183.7 268.0h.9v.9h-.9zM179.8 264.9h.9v.9h-.9zM177.7 264.6h.9v.9h-.9zM169.0 263.4h.9v.9h-.9zM192.1 272.9h.9v.9h-.9zM173.8 269.4h.9v.9h-.9zM175.9 278.5h.9v.9h-.9zM178.8 265.8h.9v.9h-.9zM183.6 272.4h.9v.9h-.9zM174.3 264.9h.9v.9h-.9zM179.9 259.0h.9v.9h-.9zM172.7 277.1h.9v.9h-.9zM184.8 277.8h.9v.9h-.9zM175.9 266.1h.9v.9h-.9zM177.1 266.9h.9v.9h-.9zM187.7 268.6h.9v.9h-.9zM188.2 265.3h.9v.9h-.9zM181.5 281.3h.9v.9h-.9zM173.9 265.7h.9v.9h-.9zM174.8 259.1h.9v.9h-.9zM176.9 265.8h.9v.9h-.9zM194.0 266.9h.9v.9h-.9zM164.3 276.6h.9v.9h-.9zM185.4 269.9h.9v.9h-.9zM180.9 275.1h.9v.9h-.9zM175.1 270.5h.9v.9h-.9zM179.9 281.5h.9v.9h-.9zM188.6 271.3h.9v.9h-.9zM169.8 276.2h.9v.9h-.9zM178.6 278.2h.9v.9h-.9zM179.3 271.4h.9v.9h-.9zM183.4 265.2h.9v.9h-.9zM174.4 285.9h.9v.9h-.9zM173.0 276.6h.9v.9h-.9zM183.6 275.8h.9v.9h-.9zM188.3 261.0h.9v.9h-.9zM185.4 256.1h.9v.9h-.9zM179.3 272.5h.9v.9h-.9zM185.9 277.6h.9v.9h-.9zM172.6 268.3h.9v.9h-.9zM177.8 265.4h.9v.9h-.9zM173.3 265.6h.9v.9h-.9zM186.7 279.5h.9v.9h-.9zM184.0 281.7h.9v.9h-.9zM179.5 262.7h.9v.9h-.9zM174.5 271.6h.9v.9h-.9zM185.9 278.5h.9v.9h-.9zM172.8 276.7h.9v.9h-.9zM175.3 274.3h.9v.9h-.9zM185.2 280.3h.9v.9h-.9zM175.3 271.8h.9v.9h-.9zM181.8 267.3h.9v.9h-.9zM179.5 274.3h.9v.9h-.9zM167.7 265.8h.9v.9h-.9zM194.6 273.3h.9v.9h-.9zM175.1 257.6h.9v.9h-.9zM172.4 273.7h.9v.9h-.9zM183.5 273.2h.9v.9h-.9zM182.9 266.0h.9v.9h-.9zM189.8 262.5h.9v.9h-.9zM182.4 268.4h.9v.9h-.9zM167.3 276.4h.9v.9h-.9zM177.0 275.1h.9v.9h-.9zM187.6 271.3h.9v.9h-.9zM174.4 268.7h.9v.9h-.9zM178.4 280.1h.9v.9h-.9zM184.7 281.1h.9v.9h-.9zM184.1 264.9h.9v.9h-.9zM185.2 276.8h.9v.9h-.9zM178.1 273.4h.9v.9h-.9zM176.7 261.5h.9v.9h-.9zM178.3 275.4h.9v.9h-.9zM176.4 254.8h.9v.9h-.9zM173.5 277.7h.9v.9h-.9zM180.4 277.9h.9v.9h-.9zM173.8 267.3h.9v.9h-.9zM172.1 264.8h.9v.9h-.9zM182.4 271.1h.9v.9h-.9zM175.6 272.2h.9v.9h-.9zM170.0 267.5h.9v.9h-.9zM168.7 259.9h.9v.9h-.9zM169.6 262.6h.9v.9h-.9zM189.6 279.6h.9v.9h-.9zM187.5 266.2h.9v.9h-.9zM183.1 262.4h.9v.9h-.9zM175.2 271.9h.9v.9h-.9zM168.0 271.5h.9v.9h-.9zM183.1 255.9h.9v.9h-.9zM162.3 268.3h.9v.9h-.9zM178.1 271.2h.9v.9h-.9zM171.2 274.1h.9v.9h-.9zM179.7 265.1h.9v.9h-.9zM190.1 272.0h.9v.9h-.9zM183.9 283.0h.9v.9h-.9zM175.5 268.7h.9v.9h-.9zM167.1 268.6h.9v.9h-.9zM181.9 287.4h.9v.9h-.9zM182.7 271.6h.9v.9h-.9zM170.3 264.3h.9v.9h-.9zM166.3 260.7h.9v.9h-.9zM179.6 272.2h.9v.9h-.9zM172.7 268.7h.9v.9h-.9zM173.4 274.5h.9v.9h-.9zM183.2 266.3h.9v.9h-.9zM175.8 261.7h.9v.9h-.9zM175.7 285.3h.9v.9h-.9zM178.8 276.1h.9v.9h-.9zM182.8 280.4h.9v.9h-.9zM176.7 263.9h.9v.9h-.9zM186.0 276.5h.9v.9h-.9zM174.4 277.8h.9v.9h-.9zM178.8 269.9h.9v.9h-.9zM191.4 273.9h.9v.9h-.9zM181.0 268.0h.9v.9h-.9zM180.2 277.5h.9v.9h-.9zM182.0 265.0h.9v.9h-.9zM181.9 269.4h.9v.9h-.9zM181.0 268.9h.9v.9h-.9zM164.0 259.0h.9v.9h-.9zM176.3 254.9h.9v.9h-.9zM168.6 284.2h.9v.9h-.9zM183.6 267.0h.9v.9h-.9zM181.1 254.7h.9v.9h-.9zM180.6 277.0h.9v.9h-.9zM180.2 261.1h.9v.9h-.9zM185.5 266.5h.9v.9h-.9zM175.0 271.6h.9v.9h-.9zM176.8 284.3h.9v.9h-.9zM177.9 285.1h.9v.9h-.9zM182.0 261.6h.9v.9h-.9zM178.9 270.6h.9v.9h-.9zM188.7 279.1h.9v.9h-.9zM196.3 265.6h.9v.9h-.9zM175.9 286.4h.9v.9h-.9zM172.8 272.7h.9v.9h-.9zM189.9 263.2h.9v.9h-.9zM176.5 265.0h.9v.9h-.9zM182.5 273.0h.9v.9h-.9zM178.6 274.8h.9v.9h-.9zM173.5 267.6h.9v.9h-.9zM182.1 284.2h.9v.9h-.9zM178.6 270.6h.9v.9h-.9zM187.9 270.7h.9v.9h-.9zM187.8 271.9h.9v.9h-.9zM186.8 271.5h.9v.9h-.9zM172.6 264.3h.9v.9h-.9zM181.8 283.3h.9v.9h-.9zM191.6 268.0h.9v.9h-.9zM196.0 262.5h.9v.9h-.9zM168.6 245.7h.9v.9h-.9zM166.0 245.5h.9v.9h-.9zM173.4 243.6h.9v.9h-.9zM167.2 241.9h.9v.9h-.9zM175.6 238.8h.9v.9h-.9zM176.0 239.4h.9v.9h-.9zM173.3 237.0h.9v.9h-.9zM166.6 238.1h.9v.9h-.9zM173.9 233.9h.9v.9h-.9zM164.3 228.4h.9v.9h-.9zM177.1 237.6h.9v.9h-.9zM168.9 247.8h.9v.9h-.9zM171.3 228.7h.9v.9h-.9zM170.2 233.1h.9v.9h-.9zM171.2 232.8h.9v.9h-.9zM172.2 242.4h.9v.9h-.9zM169.7 237.8h.9v.9h-.9zM171.3 245.0h.9v.9h-.9zM169.1 244.4h.9v.9h-.9zM176.8 237.8h.9v.9h-.9zM168.1 237.0h.9v.9h-.9zM165.0 235.4h.9v.9h-.9zM167.3 238.0h.9v.9h-.9zM170.5 242.8h.9v.9h-.9zM172.4 242.1h.9v.9h-.9zM171.8 241.2h.9v.9h-.9zM167.5 243.8h.9v.9h-.9zM177.0 247.0h.9v.9h-.9zM166.7 242.1h.9v.9h-.9zM165.6 244.5h.9v.9h-.9zM171.1 236.0h.9v.9h-.9zM169.0 237.5h.9v.9h-.9zM171.9 232.5h.9v.9h-.9zM172.2 241.0h.9v.9h-.9zM174.0 238.9h.9v.9h-.9zM171.9 255.4h.9v.9h-.9zM175.9 241.5h.9v.9h-.9zM166.5 243.5h.9v.9h-.9zM174.2 220.6h.9v.9h-.9zM171.3 241.9h.9v.9h-.9zM172.1 239.9h.9v.9h-.9zM171.3 248.9h.9v.9h-.9zM173.4 237.2h.9v.9h-.9zM171.0 253.8h.9v.9h-.9zM168.6 235.5h.9v.9h-.9zM173.2 240.2h.9v.9h-.9zM173.1 248.7h.9v.9h-.9zM176.4 242.1h.9v.9h-.9zM172.1 238.8h.9v.9h-.9zM171.0 246.2h.9v.9h-.9zM167.0 231.9h.9v.9h-.9zM170.1 232.5h.9v.9h-.9zM169.1 247.6h.9v.9h-.9zM163.1 243.2h.9v.9h-.9zM166.8 237.5h.9v.9h-.9zM169.7 232.3h.9v.9h-.9zM166.1 239.7h.9v.9h-.9zM160.3 224.4h.9v.9h-.9zM170.4 246.9h.9v.9h-.9zM179.2 237.2h.9v.9h-.9zM168.8 237.2h.9v.9h-.9zM173.8 245.7h.9v.9h-.9zM168.2 242.5h.9v.9h-.9zM171.8 247.2h.9v.9h-.9zM170.3 237.7h.9v.9h-.9zM168.6 229.9h.9v.9h-.9zM173.0 244.2h.9v.9h-.9zM176.4 241.1h.9v.9h-.9zM170.1 232.8h.9v.9h-.9zM167.4 234.1h.9v.9h-.9zM173.3 239.8h.9v.9h-.9zM162.9 238.5h.9v.9h-.9zM170.8 231.9h.9v.9h-.9zM171.9 242.9h.9v.9h-.9zM167.9 229.7h.9v.9h-.9zM170.7 241.0h.9v.9h-.9zM170.9 250.0h.9v.9h-.9zM172.5 232.2h.9v.9h-.9zM175.0 234.7h.9v.9h-.9zM174.7 239.9h.9v.9h-.9zM176.8 232.2h.9v.9h-.9zM174.8 242.2h.9v.9h-.9zM168.4 244.1h.9v.9h-.9zM180.9 241.7h.9v.9h-.9zM168.9 238.1h.9v.9h-.9zM177.1 241.0h.9v.9h-.9zM177.8 234.6h.9v.9h-.9zM177.1 228.2h.9v.9h-.9zM171.3 237.1h.9v.9h-.9zM170.0 247.8h.9v.9h-.9zM169.6 241.7h.9v.9h-.9zM179.3 245.0h.9v.9h-.9zM170.3 234.1h.9v.9h-.9zM164.0 241.9h.9v.9h-.9zM175.5 247.0h.9v.9h-.9zM172.9 254.3h.9v.9h-.9zM175.0 223.0h.9v.9h-.9zM168.5 244.8h.9v.9h-.9zM170.4 245.1h.9v.9h-.9zM182.1 233.9h.9v.9h-.9zM180.7 238.6h.9v.9h-.9zM166.1 239.9h.9v.9h-.9zM175.6 235.1h.9v.9h-.9zM178.2 233.1h.9v.9h-.9zM171.2 245.7h.9v.9h-.9zM171.1 235.3h.9v.9h-.9zM171.9 243.8h.9v.9h-.9zM178.8 248.7h.9v.9h-.9zM179.4 239.0h.9v.9h-.9zM165.4 238.9h.9v.9h-.9zM170.3 232.2h.9v.9h-.9zM169.9 238.7h.9v.9h-.9zM172.2 245.6h.9v.9h-.9zM168.3 247.2h.9v.9h-.9zM172.2 244.3h.9v.9h-.9zM176.9 230.5h.9v.9h-.9zM178.3 234.2h.9v.9h-.9zM173.6 246.8h.9v.9h-.9zM175.6 228.2h.9v.9h-.9zM172.6 247.2h.9v.9h-.9zM171.5 238.6h.9v.9h-.9zM172.3 250.7h.9v.9h-.9zM169.8 232.6h.9v.9h-.9zM167.6 235.5h.9v.9h-.9zM171.0 241.6h.9v.9h-.9zM171.7 227.2h.9v.9h-.9zM165.7 244.0h.9v.9h-.9zM174.9 229.7h.9v.9h-.9zM175.7 222.2h.9v.9h-.9zM181.2 243.3h.9v.9h-.9zM165.4 242.8h.9v.9h-.9zM171.9 236.0h.9v.9h-.9zM170.5 237.6h.9v.9h-.9zM171.6 232.9h.9v.9h-.9zM169.7 243.1h.9v.9h-.9zM174.1 229.9h.9v.9h-.9zM170.0 250.2h.9v.9h-.9zM174.8 250.8h.9v.9h-.9zM166.6 231.9h.9v.9h-.9zM163.3 225.6h.9v.9h-.9zM170.5 231.8h.9v.9h-.9zM167.6 234.3h.9v.9h-.9zM171.2 245.0h.9v.9h-.9zM174.2 226.9h.9v.9h-.9zM177.9 236.9h.9v.9h-.9zM168.0 239.0h.9v.9h-.9zM170.4 229.5h.9v.9h-.9zM178.2 235.1h.9v.9h-.9zM169.6 243.0h.9v.9h-.9zM178.7 242.6h.9v.9h-.9zM168.4 242.3h.9v.9h-.9zM176.4 241.9h.9v.9h-.9zM174.6 235.8h.9v.9h-.9zM171.7 227.4h.9v.9h-.9zM169.1 231.2h.9v.9h-.9zM172.0 249.7h.9v.9h-.9zM163.0 229.9h.9v.9h-.9zM168.3 238.6h.9v.9h-.9zM176.7 233.7h.9v.9h-.9zM168.9 247.7h.9v.9h-.9zM173.5 242.9h.9v.9h-.9zM175.3 234.0h.9v.9h-.9zM172.9 234.6h.9v.9h-.9zM169.1 240.1h.9v.9h-.9zM173.7 230.3h.9v.9h-.9zM168.9 243.5h.9v.9h-.9zM172.7 243.9h.9v.9h-.9zM170.7 233.6h.9v.9h-.9zM175.1 243.4h.9v.9h-.9zM160.6 245.3h.9v.9h-.9zM168.9 243.9h.9v.9h-.9zM178.3 237.2h.9v.9h-.9zM168.1 241.0h.9v.9h-.9zM172.4 243.2h.9v.9h-.9zM166.4 240.9h.9v.9h-.9zM175.6 244.1h.9v.9h-.9zM174.5 247.6h.9v.9h-.9zM168.7 247.8h.9v.9h-.9zM172.8 232.2h.9v.9h-.9zM170.8 241.1h.9v.9h-.9zM173.3 248.7h.9v.9h-.9zM172.8 235.6h.9v.9h-.9zM180.8 236.9h.9v.9h-.9zM168.7 245.7h.9v.9h-.9zM170.3 233.7h.9v.9h-.9zM167.7 247.5h.9v.9h-.9zM167.7 239.9h.9v.9h-.9zM170.2 237.9h.9v.9h-.9zM168.7 240.3h.9v.9h-.9zM174.4 246.6h.9v.9h-.9zM170.6 231.0h.9v.9h-.9zM166.0 239.3h.9v.9h-.9zM162.0 248.6h.9v.9h-.9zM172.1 240.1h.9v.9h-.9zM166.4 234.7h.9v.9h-.9zM169.0 244.0h.9v.9h-.9zM170.4 243.6h.9v.9h-.9zM174.1 225.7h.9v.9h-.9zM171.1 248.1h.9v.9h-.9zM169.9 240.1h.9v.9h-.9zM171.5 230.6h.9v.9h-.9zM180.8 238.3h.9v.9h-.9zM174.6 236.1h.9v.9h-.9zM177.6 247.3h.9v.9h-.9zM176.7 245.9h.9v.9h-.9zM174.8 249.0h.9v.9h-.9zM173.6 240.2h.9v.9h-.9zM175.2 233.0h.9v.9h-.9zM161.8 244.9h.9v.9h-.9zM172.6 234.3h.9v.9h-.9zM170.9 232.6h.9v.9h-.9zM168.6 240.6h.9v.9h-.9zM172.5 245.1h.9v.9h-.9zM171.6 243.7h.9v.9h-.9zM174.7 234.3h.9v.9h-.9zM165.2 234.4h.9v.9h-.9zM171.0 235.5h.9v.9h-.9zM180.9 234.5h.9v.9h-.9zM173.9 233.9h.9v.9h-.9zM174.8 230.4h.9v.9h-.9zM175.8 240.5h.9v.9h-.9zM170.4 230.9h.9v.9h-.9zM178.7 235.2h.9v.9h-.9zM177.8 222.4h.9v.9h-.9zM167.2 251.9h.9v.9h-.9zM179.2 239.4h.9v.9h-.9zM176.0 243.5h.9v.9h-.9zM170.6 240.2h.9v.9h-.9zM167.4 229.9h.9v.9h-.9zM172.5 244.4h.9v.9h-.9zM172.6 230.7h.9v.9h-.9zM175.4 239.9h.9v.9h-.9zM175.0 237.3h.9v.9h-.9zM170.9 246.6h.9v.9h-.9zM177.5 230.9h.9v.9h-.9zM167.6 246.1h.9v.9h-.9zM173.4 239.6h.9v.9h-.9zM168.1 246.4h.9v.9h-.9zM172.8 240.8h.9v.9h-.9zM173.6 235.6h.9v.9h-.9zM173.6 240.2h.9v.9h-.9zM174.9 241.9h.9v.9h-.9zM166.9 234.3h.9v.9h-.9zM170.9 247.4h.9v.9h-.9zM169.4 247.2h.9v.9h-.9zM176.3 245.4h.9v.9h-.9zM181.1 239.2h.9v.9h-.9zM173.3 247.8h.9v.9h-.9zM173.6 246.2h.9v.9h-.9zM171.5 249.2h.9v.9h-.9zM173.4 225.9h.9v.9h-.9zM176.4 238.0h.9v.9h-.9zM168.5 237.2h.9v.9h-.9zM170.9 247.3h.9v.9h-.9zM173.3 238.8h.9v.9h-.9zM171.9 233.0h.9v.9h-.9zM169.4 236.0h.9v.9h-.9zM171.1 231.2h.9v.9h-.9zM170.4 246.3h.9v.9h-.9zM173.8 239.3h.9v.9h-.9zM189.8 260.4h.9v.9h-.9zM177.5 269.3h.9v.9h-.9zM205.0 266.4h.9v.9h-.9zM192.5 281.9h.9v.9h-.9zM177.3 266.5h.9v.9h-.9zM184.3 260.1h.9v.9h-.9zM173.7 261.7h.9v.9h-.9zM190.2 249.6h.9v.9h-.9zM185.2 258.4h.9v.9h-.9zM179.0 267.4h.9v.9h-.9zM200.2 265.6h.9v.9h-.9zM195.3 268.4h.9v.9h-.9zM186.5 266.9h.9v.9h-.9zM197.6 258.9h.9v.9h-.9zM185.8 251.3h.9v.9h-.9zM172.1 255.8h.9v.9h-.9zM194.2 265.2h.9v.9h-.9zM189.1 272.8h.9v.9h-.9zM172.8 273.3h.9v.9h-.9zM187.7 268.5h.9v.9h-.9zM198.1 255.9h.9v.9h-.9zM180.0 265.5h.9v.9h-.9zM186.5 257.7h.9v.9h-.9zM186.0 256.6h.9v.9h-.9zM188.1 259.3h.9v.9h-.9zM200.7 254.0h.9v.9h-.9zM191.7 262.9h.9v.9h-.9zM199.7 254.6h.9v.9h-.9zM183.3 276.1h.9v.9h-.9zM181.7 259.3h.9v.9h-.9zM183.8 254.5h.9v.9h-.9zM196.8 274.4h.9v.9h-.9zM185.8 256.3h.9v.9h-.9zM176.1 267.6h.9v.9h-.9zM182.7 266.7h.9v.9h-.9zM167.7 259.0h.9v.9h-.9zM192.0 265.6h.9v.9h-.9zM164.0 264.7h.9v.9h-.9zM188.0 262.2h.9v.9h-.9zM184.3 258.8h.9v.9h-.9zM188.2 266.4h.9v.9h-.9zM161.6 262.2h.9v.9h-.9zM194.5 260.6h.9v.9h-.9zM196.8 254.9h.9v.9h-.9zM202.4 269.9h.9v.9h-.9zM183.7 284.1h.9v.9h-.9zM198.6 274.9h.9v.9h-.9zM177.4 261.4h.9v.9h-.9zM190.8 270.6h.9v.9h-.9zM187.6 252.0h.9v.9h-.9zM196.8 261.0h.9v.9h-.9zM190.5 259.8h.9v.9h-.9zM186.1 251.4h.9v.9h-.9zM192.4 257.3h.9v.9h-.9zM172.7 265.6h.9v.9h-.9zM186.7 269.9h.9v.9h-.9zM193.6 252.7h.9v.9h-.9zM185.6 262.3h.9v.9h-.9zM187.7 253.9h.9v.9h-.9zM187.6 270.1h.9v.9h-.9zM197.0 273.9h.9v.9h-.9zM193.1 242.3h.9v.9h-.9zM184.8 258.0h.9v.9h-.9zM163.7 274.5h.9v.9h-.9zM194.3 262.2h.9v.9h-.9zM189.9 266.1h.9v.9h-.9zM185.3 273.2h.9v.9h-.9zM201.7 268.8h.9v.9h-.9zM182.5 264.3h.9v.9h-.9zM194.9 268.0h.9v.9h-.9zM181.5 269.9h.9v.9h-.9zM192.8 266.9h.9v.9h-.9zM183.6 262.1h.9v.9h-.9zM171.7 262.1h.9v.9h-.9zM183.4 259.9h.9v.9h-.9zM184.7 259.8h.9v.9h-.9zM187.7 263.1h.9v.9h-.9zM182.1 261.2h.9v.9h-.9zM186.3 266.2h.9v.9h-.9zM190.5 259.5h.9v.9h-.9zM180.4 249.3h.9v.9h-.9zM177.0 265.5h.9v.9h-.9zM179.6 275.0h.9v.9h-.9zM185.7 259.2h.9v.9h-.9zM185.7 258.0h.9v.9h-.9zM181.9 262.8h.9v.9h-.9zM175.4 263.3h.9v.9h-.9zM186.3 255.1h.9v.9h-.9zM195.2 265.1h.9v.9h-.9zM195.7 257.0h.9v.9h-.9zM177.0 252.9h.9v.9h-.9zM174.4 247.3h.9v.9h-.9zM199.6 258.5h.9v.9h-.9zM188.6 258.1h.9v.9h-.9zM185.8 274.8h.9v.9h-.9zM173.1 254.5h.9v.9h-.9zM188.1 255.1h.9v.9h-.9zM192.6 272.5h.9v.9h-.9zM194.2 268.2h.9v.9h-.9zM185.7 270.2h.9v.9h-.9zM180.6 252.9h.9v.9h-.9zM184.9 260.3h.9v.9h-.9zM196.8 254.5h.9v.9h-.9zM196.2 256.1h.9v.9h-.9zM176.9 248.9h.9v.9h-.9zM186.7 250.9h.9v.9h-.9zM188.7 262.6h.9v.9h-.9zM183.8 247.0h.9v.9h-.9zM182.8 265.8h.9v.9h-.9zM172.7 267.7h.9v.9h-.9zM187.1 258.0h.9v.9h-.9zM188.6 267.4h.9v.9h-.9zM186.8 256.1h.9v.9h-.9zM193.3 256.9h.9v.9h-.9zM189.9 270.0h.9v.9h-.9zM197.5 274.9h.9v.9h-.9zM195.2 263.4h.9v.9h-.9zM185.4 263.7h.9v.9h-.9zM191.2 285.9h.9v.9h-.9zM192.3 255.7h.9v.9h-.9zM199.2 249.7h.9v.9h-.9zM195.1 252.2h.9v.9h-.9zM178.3 258.3h.9v.9h-.9zM184.7 251.6h.9v.9h-.9zM192.0 261.4h.9v.9h-.9zM197.8 254.2h.9v.9h-.9zM172.5 267.7h.9v.9h-.9zM185.2 270.0h.9v.9h-.9zM168.2 252.4h.9v.9h-.9zM187.7 277.7h.9v.9h-.9zM177.1 247.2h.9v.9h-.9zM183.4 273.4h.9v.9h-.9zM199.7 251.5h.9v.9h-.9zM182.1 247.7h.9v.9h-.9zM180.2 254.6h.9v.9h-.9zM190.4 271.2h.9v.9h-.9zM206.1 259.4h.9v.9h-.9zM193.6 264.0h.9v.9h-.9zM188.0 277.5h.9v.9h-.9zM192.6 274.6h.9v.9h-.9zM189.4 269.1h.9v.9h-.9zM191.1 261.5h.9v.9h-.9zM181.4 259.1h.9v.9h-.9zM187.1 259.2h.9v.9h-.9zM184.3 256.7h.9v.9h-.9zM193.9 260.3h.9v.9h-.9zM186.1 260.5h.9v.9h-.9zM197.5 258.0h.9v.9h-.9zM198.3 255.4h.9v.9h-.9zM199.3 267.1h.9v.9h-.9zM183.1 265.8h.9v.9h-.9zM196.1 254.7h.9v.9h-.9zM185.2 264.7h.9v.9h-.9zM185.3 259.9h.9v.9h-.9zM187.2 264.7h.9v.9h-.9zM193.2 273.9h.9v.9h-.9zM184.4 285.5h.9v.9h-.9zM184.4 276.3h.9v.9h-.9zM186.0 250.8h.9v.9h-.9zM183.5 259.5h.9v.9h-.9zM195.6 246.3h.9v.9h-.9zM181.9 261.2h.9v.9h-.9zM192.3 265.4h.9v.9h-.9zM193.9 261.0h.9v.9h-.9zM185.1 271.8h.9v.9h-.9zM200.8 265.2h.9v.9h-.9zM188.3 255.5h.9v.9h-.9zM203.9 265.4h.9v.9h-.9zM192.0 249.5h.9v.9h-.9zM191.9 281.5h.9v.9h-.9zM185.7 260.6h.9v.9h-.9zM199.3 260.8h.9v.9h-.9zM193.8 277.6h.9v.9h-.9zM177.7 255.7h.9v.9h-.9zM192.5 263.2h.9v.9h-.9zM187.3 260.9h.9v.9h-.9zM188.1 265.1h.9v.9h-.9zM183.2 260.0h.9v.9h-.9zM188.9 253.6h.9v.9h-.9zM190.6 244.9h.9v.9h-.9zM192.1 261.3h.9v.9h-.9zM177.6 272.9h.9v.9h-.9zM177.7 278.6h.9v.9h-.9zM181.2 271.8h.9v.9h-.9zM186.5 275.0h.9v.9h-.9zM185.3 270.4h.9v.9h-.9zM184.5 247.4h.9v.9h-.9zM190.1 266.0h.9v.9h-.9zM190.2 275.5h.9v.9h-.9zM181.2 250.9h.9v.9h-.9zM189.1 256.7h.9v.9h-.9zM186.2 262.2h.9v.9h-.9zM180.5 270.9h.9v.9h-.9zM186.1 276.4h.9v.9h-.9zM189.0 270.6h.9v.9h-.9zM184.7 257.0h.9v.9h-.9zM182.8 255.3h.9v.9h-.9zM190.6 263.3h.9v.9h-.9zM178.4 250.0h.9v.9h-.9zM180.2 247.8h.9v.9h-.9zM180.0 250.2h.9v.9h-.9zM192.7 253.0h.9v.9h-.9zM182.3 261.3h.9v.9h-.9zM187.3 265.6h.9v.9h-.9zM193.1 267.3h.9v.9h-.9zM184.3 272.1h.9v.9h-.9zM190.0 256.6h.9v.9h-.9zM198.9 252.9h.9v.9h-.9zM190.8 272.2h.9v.9h-.9zM187.9 265.0h.9v.9h-.9zM188.0 267.5h.9v.9h-.9zM188.8 262.3h.9v.9h-.9zM192.6 247.2h.9v.9h-.9zM189.0 259.8h.9v.9h-.9zM202.6 264.5h.9v.9h-.9zM181.8 267.4h.9v.9h-.9zM184.0 252.8h.9v.9h-.9zM184.8 266.2h.9v.9h-.9zM196.5 270.5h.9v.9h-.9zM188.9 260.9h.9v.9h-.9zM188.6 271.8h.9v.9h-.9zM186.0 271.4h.9v.9h-.9zM180.7 262.1h.9v.9h-.9zM193.2 267.8h.9v.9h-.9zM188.6 258.2h.9v.9h-.9zM172.8 258.8h.9v.9h-.9zM180.3 259.0h.9v.9h-.9zM199.6 256.1h.9v.9h-.9zM193.8 262.1h.9v.9h-.9zM178.3 263.1h.9v.9h-.9zM193.0 252.8h.9v.9h-.9zM177.9 259.2h.9v.9h-.9zM192.8 257.5h.9v.9h-.9zM190.4 265.9h.9v.9h-.9zM187.1 265.8h.9v.9h-.9zM197.1 260.7h.9v.9h-.9zM189.6 253.8h.9v.9h-.9zM181.3 261.4h.9v.9h-.9zM193.5 256.9h.9v.9h-.9zM176.1 269.5h.9v.9h-.9zM205.8 241.8h.9v.9h-.9zM178.7 263.2h.9v.9h-.9zM190.9 254.7h.9v.9h-.9zM189.7 270.9h.9v.9h-.9zM184.9 268.0h.9v.9h-.9zM188.0 254.9h.9v.9h-.9zM182.2 257.4h.9v.9h-.9zM197.5 271.4h.9v.9h-.9zM188.9 249.9h.9v.9h-.9zM183.2 259.0h.9v.9h-.9zM171.9 262.1h.9v.9h-.9zM189.3 251.8h.9v.9h-.9zM183.7 258.6h.9v.9h-.9zM201.6 267.5h.9v.9h-.9zM193.1 262.9h.9v.9h-.9zM177.0 269.5h.9v.9h-.9zM181.7 247.0h.9v.9h-.9zM192.8 259.5h.9v.9h-.9zM187.0 266.3h.9v.9h-.9zM185.2 265.5h.9v.9h-.9zM197.2 259.7h.9v.9h-.9zM184.3 262.4h.9v.9h-.9zM192.1 259.1h.9v.9h-.9zM187.7 256.8h.9v.9h-.9zM186.4 266.5h.9v.9h-.9zM180.6 260.8h.9v.9h-.9zM175.6 256.7h.9v.9h-.9zM187.6 266.4h.9v.9h-.9zM179.0 261.4h.9v.9h-.9zM179.8 264.7h.9v.9h-.9zM189.1 265.7h.9v.9h-.9zM185.4 251.0h.9v.9h-.9zM182.6 251.6h.9v.9h-.9zM181.7 261.8h.9v.9h-.9zM195.5 257.1h.9v.9h-.9zM181.0 263.8h.9v.9h-.9zM170.9 277.9h.9v.9h-.9zM175.0 270.2h.9v.9h-.9zM194.7 269.8h.9v.9h-.9zM186.2 268.0h.9v.9h-.9zM184.3 269.8h.9v.9h-.9zM181.9 255.8h.9v.9h-.9zM190.0 258.6h.9v.9h-.9zM192.3 255.4h.9v.9h-.9zM189.1 254.5h.9v.9h-.9zM186.2 279.1h.9v.9h-.9zM178.6 252.5h.9v.9h-.9zM174.5 260.4h.9v.9h-.9zM199.7 258.7h.9v.9h-.9zM194.3 260.8h.9v.9h-.9zM182.1 278.0h.9v.9h-.9zM195.4 247.7h.9v.9h-.9zM179.4 265.5h.9v.9h-.9zM192.1 260.5h.9v.9h-.9zM189.5 266.5h.9v.9h-.9zM184.3 270.1h.9v.9h-.9zM180.4 268.2h.9v.9h-.9zM194.1 263.8h.9v.9h-.9zM184.3 262.1h.9v.9h-.9zM169.8 264.2h.9v.9h-.9zM214.0 277.6h.9v.9h-.9zM228.4 253.7h.9v.9h-.9zM170.1 230.8h.9v.9h-.9zM208.6 272.1h.9v.9h-.9zM191.7 234.6h.9v.9h-.9zM221.4 256.1h.9v.9h-.9zM201.1 234.4h.9v.9h-.9zM207.1 257.9h.9v.9h-.9zM218.0 275.2h.9v.9h-.9zM173.9 271.5h.9v.9h-.9zM190.9 249.6h.9v.9h-.9zM192.5 270.3h.9v.9h-.9zM199.3 231.5h.9v.9h-.9zM201.5 235.5h.9v.9h-.9zM169.7 230.4h.9v.9h-.9zM195.1 251.5h.9v.9h-.9zM168.6 234.9h.9v.9h-.9zM231.3 256.4h.9v.9h-.9zM236.7 256.3h.9v.9h-.9zM234.9 264.1h.9v.9h-.9zM195.5 230.3h.9v.9h-.9zM178.9 269.5h.9v.9h-.9zM214.6 243.4h.9v.9h-.9zM179.9 261.4h.9v.9h-.9zM233.2 240.8h.9v.9h-.9zM237.9 255.8h.9v.9h-.9zM183.1 237.3h.9v.9h-.9zM218.1 276.6h.9v.9h-.9zM182.7 240.2h.9v.9h-.9zM178.5 238.7h.9v.9h-.9zM184.3 249.7h.9v.9h-.9zM185.1 262.6h.9v.9h-.9zM185.3 241.7h.9v.9h-.9zM197.7 236.6h.9v.9h-.9zM172.2 232.5h.9v.9h-.9zM168.9 263.2h.9v.9h-.9zM172.0 253.0h.9v.9h-.9zM230.4 260.1h.9v.9h-.9zM189.9 248.9h.9v.9h-.9zM198.3 244.6h.9v.9h-.9zM172.3 235.9h.9v.9h-.9zM178.5 238.7h.9v.9h-.9zM191.6 233.1h.9v.9h-.9zM211.4 238.2h.9v.9h-.9zM204.1 264.2h.9v.9h-.9zM203.2 266.8h.9v.9h-.9zM222.8 251.3h.9v.9h-.9zM183.4 229.9h.9v.9h-.9zM216.8 247.1h.9v.9h-.9zM188.8 232.1h.9v.9h-.9zM181.1 274.7h.9v.9h-.9zM201.4 272.3h.9v.9h-.9zM227.3 240.8h.9v.9h-.9zM184.3 274.4h.9v.9h-.9zM185.1 259.2h.9v.9h-.9zM233.7 252.2h.9v.9h-.9zM198.1 278.2h.9v.9h-.9zM228.6 276.6h.9v.9h-.9zM217.7 239.5h.9v.9h-.9zM171.9 228.8h.9v.9h-.9zM232.8 256.3h.9v.9h-.9zM230.0 278.2h.9v.9h-.9zM185.1 278.8h.9v.9h-.9zM187.6 237.1h.9v.9h-.9zM187.5 280.2h.9v.9h-.9zM233.9 246.3h.9v.9h-.9zM202.1 271.1h.9v.9h-.9zM224.5 275.0h.9v.9h-.9zM193.8 239.9h.9v.9h-.9zM204.2 276.9h.9v.9h-.9zM211.2 273.7h.9v.9h-.9zM182.2 254.4h.9v.9h-.9zM232.3 257.8h.9v.9h-.9zM223.8 270.3h.9v.9h-.9zM199.4 264.0h.9v.9h-.9zM216.7 250.9h.9v.9h-.9zM204.8 270.4h.9v.9h-.9zM229.9 279.7h.9v.9h-.9zM194.1 263.3h.9v.9h-.9zM206.9 272.6h.9v.9h-.9zM208.1 254.3h.9v.9h-.9zM207.9 255.2h.9v.9h-.9zM207.9 252.9h.9v.9h-.9zM208.8 253.4h.9v.9h-.9zM205.2 251.9h.9v.9h-.9zM207.6 253.4h.9v.9h-.9zM205.7 252.2h.9v.9h-.9zM206.6 253.4h.9v.9h-.9zM207.2 253.7h.9v.9h-.9zM208.7 251.9h.9v.9h-.9zM207.5 251.5h.9v.9h-.9zM208.2 254.0h.9v.9h-.9zM206.2 250.9h.9v.9h-.9zM209.0 252.7h.9v.9h-.9zM207.9 253.5h.9v.9h-.9zM208.7 254.1h.9v.9h-.9zM207.2 250.4h.9v.9h-.9zM207.1 252.6h.9v.9h-.9zM207.2 253.5h.9v.9h-.9zM207.5 254.5h.9v.9h-.9zM206.8 253.0h.9v.9h-.9zM207.3 255.5h.9v.9h-.9zM206.2 251.8h.9v.9h-.9zM207.3 253.9h.9v.9h-.9zM208.0 252.8h.9v.9h-.9zM205.3 250.5h.9v.9h-.9zM207.6 252.7h.9v.9h-.9zM211.3 253.4h.9v.9h-.9zM208.8 254.2h.9v.9h-.9zM206.3 251.5h.9v.9h-.9zM207.3 254.8h.9v.9h-.9zM209.8 252.3h.9v.9h-.9zM205.7 254.1h.9v.9h-.9zM210.0 251.7h.9v.9h-.9zM211.0 252.1h.9v.9h-.9zM209.4 252.8h.9v.9h-.9zM207.4 252.3h.9v.9h-.9zM209.3 253.7h.9v.9h-.9zM209.5 252.7h.9v.9h-.9zM206.4 255.6h.9v.9h-.9zM211.2 252.8h.9v.9h-.9zM205.9 254.8h.9v.9h-.9zM208.2 253.1h.9v.9h-.9zM209.6 253.4h.9v.9h-.9zM208.2 255.4h.9v.9h-.9zM204.5 253.8h.9v.9h-.9zM206.2 253.1h.9v.9h-.9zM207.7 253.3h.9v.9h-.9zM203.5 253.8h.9v.9h-.9zM212.3 252.5h.9v.9h-.9zM209.7 253.7h.9v.9h-.9zM208.6 252.4h.9v.9h-.9zM209.2 253.3h.9v.9h-.9zM210.7 254.0h.9v.9h-.9zM206.7 249.5h.9v.9h-.9zM210.8 253.6h.9v.9h-.9zM208.3 252.3h.9v.9h-.9zM212.7 254.6h.9v.9h-.9zM208.2 252.6h.9v.9h-.9zM209.1 254.6h.9v.9h-.9zM209.0 254.1h.9v.9h-.9zM208.5 253.4h.9v.9h-.9zM205.6 253.1h.9v.9h-.9zM208.1 252.9h.9v.9h-.9zM207.6 253.4h.9v.9h-.9zM206.9 252.8h.9v.9h-.9zM205.6 255.8h.9v.9h-.9zM206.3 251.6h.9v.9h-.9zM207.0 252.5h.9v.9h-.9zM206.0 250.1h.9v.9h-.9zM211.1 254.2h.9v.9h-.9zM207.3 253.7h.9v.9h-.9zM205.9 251.1h.9v.9h-.9zM208.6 253.7h.9v.9h-.9zM206.7 253.0h.9v.9h-.9zM202.2 252.8h.9v.9h-.9zM210.0 253.2h.9v.9h-.9zM208.3 253.7h.9v.9h-.9zM204.1 251.5h.9v.9h-.9zM205.6 253.3h.9v.9h-.9zM206.8 250.7h.9v.9h-.9zM209.7 252.8h.9v.9h-.9zM209.9 255.4h.9v.9h-.9zM204.9 251.5h.9v.9h-.9zM210.0 254.7h.9v.9h-.9zM208.7 253.4h.9v.9h-.9zM209.3 253.8h.9v.9h-.9zM205.6 253.9h.9v.9h-.9zM209.9 252.5h.9v.9h-.9zM206.3 252.4h.9v.9h-.9zM206.9 253.6h.9v.9h-.9zM209.5 253.0h.9v.9h-.9zM207.4 250.9h.9v.9h-.9zM207.2 251.8h.9v.9h-.9zM207.0 253.4h.9v.9h-.9zM208.3 257.2h.9v.9h-.9zM206.4 252.4h.9v.9h-.9zM205.8 252.7h.9v.9h-.9zM207.5 254.2h.9v.9h-.9zM204.3 254.1h.9v.9h-.9zM209.2 252.4h.9v.9h-.9zM206.7 253.2h.9v.9h-.9zM209.0 252.8h.9v.9h-.9zM207.7 253.0h.9v.9h-.9zM206.0 253.3h.9v.9h-.9zM209.1 253.1h.9v.9h-.9zM205.8 253.0h.9v.9h-.9zM207.8 253.4h.9v.9h-.9zM207.2 254.0h.9v.9h-.9zM210.0 254.0h.9v.9h-.9zM208.4 254.5h.9v.9h-.9zM207.9 252.8h.9v.9h-.9zM205.3 253.0h.9v.9h-.9zM210.3 251.9h.9v.9h-.9zM209.5 251.5h.9v.9h-.9zM208.6 255.2h.9v.9h-.9zM208.1 251.6h.9v.9h-.9zM208.5 252.8h.9v.9h-.9zM209.5 252.4h.9v.9h-.9zM204.7 252.4h.9v.9h-.9zM209.1 254.2h.9v.9h-.9zM208.5 253.0h.9v.9h-.9zM209.3 252.8h.9v.9h-.9zM207.1 253.3h.9v.9h-.9zM210.1 252.4h.9v.9h-.9zM208.9 252.2h.9v.9h-.9zM206.6 253.2h.9v.9h-.9zM205.5 252.0h.9v.9h-.9zM205.7 252.3h.9v.9h-.9zM206.3 255.8h.9v.9h-.9zM209.1 253.1h.9v.9h-.9zM205.5 250.2h.9v.9h-.9zM208.8 252.3h.9v.9h-.9zM210.0 252.5h.9v.9h-.9zM205.5 252.3h.9v.9h-.9zM205.1 251.3h.9v.9h-.9zM209.3 252.4h.9v.9h-.9zM209.3 252.3h.9v.9h-.9zM207.5 252.4h.9v.9h-.9zM207.0 252.2h.9v.9h-.9zM210.8 252.9h.9v.9h-.9zM204.3 255.0h.9v.9h-.9zM210.4 254.3h.9v.9h-.9zM207.8 252.8h.9v.9h-.9zM207.1 253.1h.9v.9h-.9zM208.9 253.0h.9v.9h-.9zM206.4 251.9h.9v.9h-.9zM211.1 255.0h.9v.9h-.9zM205.6 252.3h.9v.9h-.9zM207.9 253.7h.9v.9h-.9zM207.8 253.3h.9v.9h-.9zM208.7 254.3h.9v.9h-.9zM205.5 254.3h.9v.9h-.9zM208.8 253.6h.9v.9h-.9zM205.1 252.7h.9v.9h-.9zM207.5 253.8h.9v.9h-.9zM209.3 253.8h.9v.9h-.9zM205.5 254.5h.9v.9h-.9zM208.1 254.1h.9v.9h-.9zM208.0 252.2h.9v.9h-.9zM212.9 253.8h.9v.9h-.9zM209.4 252.5h.9v.9h-.9zM207.6 254.3h.9v.9h-.9zM208.8 255.0h.9v.9h-.9zM210.3 251.7h.9v.9h-.9zM205.1 254.4h.9v.9h-.9zM209.1 252.7h.9v.9h-.9zM207.4 252.4h.9v.9h-.9zM211.4 252.8h.9v.9h-.9zM205.4 254.1h.9v.9h-.9zM207.8 253.4h.9v.9h-.9zM207.3 253.0h.9v.9h-.9zM204.4 253.6h.9v.9h-.9zM206.7 252.6h.9v.9h-.9zM208.6 254.5h.9v.9h-.9zM203.9 252.8h.9v.9h-.9zM209.0 254.2h.9v.9h-.9zM206.3 253.4h.9v.9h-.9zM208.7 254.1h.9v.9h-.9zM206.8 252.8h.9v.9h-.9zM207.0 254.3h.9v.9h-.9zM210.0 252.5h.9v.9h-.9zM207.7 253.3h.9v.9h-.9zM206.3 252.9h.9v.9h-.9zM209.6 253.9h.9v.9h-.9zM206.7 252.3h.9v.9h-.9zM207.8 251.3h.9v.9h-.9zM208.6 253.1h.9v.9h-.9zM205.4 252.7h.9v.9h-.9zM206.7 252.7h.9v.9h-.9zM206.3 254.6h.9v.9h-.9zM206.1 253.9h.9v.9h-.9zM208.4 254.7h.9v.9h-.9zM207.9 253.0h.9v.9h-.9zM208.1 250.8h.9v.9h-.9zM212.5 252.8h.9v.9h-.9zM207.4 251.7h.9v.9h-.9zM207.7 254.9h.9v.9h-.9zM206.5 253.5h.9v.9h-.9zM209.9 254.1h.9v.9h-.9zM207.2 251.0h.9v.9h-.9zM208.7 253.7h.9v.9h-.9zM207.3 252.5h.9v.9h-.9zM211.3 251.2h.9v.9h-.9zM207.0 252.3h.9v.9h-.9zM205.0 252.2h.9v.9h-.9zM206.5 254.4h.9v.9h-.9zM204.7 251.4h.9v.9h-.9zM208.5 251.2h.9v.9h-.9zM204.2 252.3h.9v.9h-.9zM205.7 251.9h.9v.9h-.9zM207.7 253.5h.9v.9h-.9zM206.7 252.7h.9v.9h-.9zM209.3 252.8h.9v.9h-.9zM209.4 252.3h.9v.9h-.9zM208.9 254.5h.9v.9h-.9zM205.3 256.4h.9v.9h-.9zM207.4 252.6h.9v.9h-.9zM207.7 253.5h.9v.9h-.9zM205.7 253.1h.9v.9h-.9zM206.9 254.6h.9v.9h-.9zM204.7 253.8h.9v.9h-.9zM207.4 252.2h.9v.9h-.9zM208.2 252.7h.9v.9h-.9zM208.0 253.3h.9v.9h-.9zM210.2 252.6h.9v.9h-.9zM211.1 249.9h.9v.9h-.9zM211.4 254.4h.9v.9h-.9zM210.9 253.2h.9v.9h-.9zM208.5 251.9h.9v.9h-.9zM210.5 251.7h.9v.9h-.9zM206.5 253.0h.9v.9h-.9zM208.4 253.4h.9v.9h-.9zM205.8 252.6h.9v.9h-.9zM208.9 254.4h.9v.9h-.9zM209.4 253.5h.9v.9h-.9zM207.5 252.4h.9v.9h-.9zM207.0 252.9h.9v.9h-.9zM209.0 252.4h.9v.9h-.9zM211.9 251.9h.9v.9h-.9zM209.5 252.8h.9v.9h-.9zM207.7 252.6h.9v.9h-.9zM210.9 252.7h.9v.9h-.9zM209.0 253.2h.9v.9h-.9zM209.4 253.7h.9v.9h-.9zM211.1 252.2h.9v.9h-.9zM206.4 254.9h.9v.9h-.9zM210.4 253.1h.9v.9h-.9zM207.4 253.3h.9v.9h-.9zM210.4 252.1h.9v.9h-.9zM210.7 253.0h.9v.9h-.9zM207.3 252.6h.9v.9h-.9zM204.0 253.4h.9v.9h-.9zM205.5 252.4h.9v.9h-.9zM206.3 253.3h.9v.9h-.9zM209.3 253.1h.9v.9h-.9zM208.3 253.5h.9v.9h-.9zM211.0 253.7h.9v.9h-.9zM210.9 252.9h.9v.9h-.9zM208.6 252.3h.9v.9h-.9zM212.4 252.2h.9v.9h-.9zM212.1 252.4h.9v.9h-.9zM210.1 254.7h.9v.9h-.9zM211.3 254.2h.9v.9h-.9zM210.4 250.9h.9v.9h-.9zM214.6 253.0h.9v.9h-.9zM209.3 254.4h.9v.9h-.9zM208.1 252.3h.9v.9h-.9zM213.8 252.4h.9v.9h-.9zM213.8 252.8h.9v.9h-.9zM210.4 253.3h.9v.9h-.9zM209.7 254.5h.9v.9h-.9zM213.7 253.3h.9v.9h-.9zM212.5 253.9h.9v.9h-.9zM215.1 251.3h.9v.9h-.9zM213.5 254.3h.9v.9h-.9zM210.2 253.2h.9v.9h-.9zM210.1 254.7h.9v.9h-.9zM208.1 254.0h.9v.9h-.9zM214.2 253.9h.9v.9h-.9zM209.8 252.7h.9v.9h-.9zM205.7 252.0h.9v.9h-.9zM213.7 252.1h.9v.9h-.9zM206.9 252.9h.9v.9h-.9zM207.2 253.8h.9v.9h-.9zM208.8 254.4h.9v.9h-.9zM210.7 251.5h.9v.9h-.9zM209.0 252.4h.9v.9h-.9zM208.9 254.7h.9v.9h-.9zM208.5 253.7h.9v.9h-.9zM209.5 253.9h.9v.9h-.9zM207.4 251.3h.9v.9h-.9zM212.2 255.0h.9v.9h-.9zM207.5 252.8h.9v.9h-.9zM209.7 252.1h.9v.9h-.9zM213.4 253.3h.9v.9h-.9zM207.5 253.0h.9v.9h-.9zM214.3 252.4h.9v.9h-.9zM209.7 252.2h.9v.9h-.9zM211.4 252.5h.9v.9h-.9zM213.2 252.2h.9v.9h-.9zM207.3 253.8h.9v.9h-.9zM203.0 252.1h.9v.9h-.9zM211.7 253.5h.9v.9h-.9zM209.5 252.7h.9v.9h-.9zM212.3 257.8h.9v.9h-.9zM209.0 253.0h.9v.9h-.9zM209.8 253.9h.9v.9h-.9zM211.0 253.9h.9v.9h-.9zM215.0 252.9h.9v.9h-.9zM227.0 254.5h.9v.9h-.9zM231.2 252.4h.9v.9h-.9zM230.5 256.8h.9v.9h-.9zM222.6 250.6h.9v.9h-.9zM225.7 254.6h.9v.9h-.9zM229.9 253.6h.9v.9h-.9zM227.8 259.6h.9v.9h-.9zM228.1 259.5h.9v.9h-.9zM225.9 258.1h.9v.9h-.9zM226.6 246.6h.9v.9h-.9zM226.0 252.1h.9v.9h-.9zM227.4 255.6h.9v.9h-.9zM228.7 254.9h.9v.9h-.9zM226.1 258.5h.9v.9h-.9zM210.7 274.2h.9v.9h-.9zM208.9 273.9h.9v.9h-.9zM209.3 272.1h.9v.9h-.9zM209.5 272.2h.9v.9h-.9zM210.1 272.2h.9v.9h-.9zM210.0 275.0h.9v.9h-.9zM209.7 275.5h.9v.9h-.9zM208.5 281.3h.9v.9h-.9zM208.8 276.1h.9v.9h-.9zM209.5 272.8h.9v.9h-.9zM211.2 277.2h.9v.9h-.9zM209.2 275.6h.9v.9h-.9zM210.2 278.5h.9v.9h-.9zM210.5 273.6h.9v.9h-.9zM209.2 270.8h.9v.9h-.9zM209.7 276.5h.9v.9h-.9zM209.1 275.9h.9v.9h-.9zM209.6 272.7h.9v.9h-.9zM208.3 277.2h.9v.9h-.9zM212.0 275.6h.9v.9h-.9zM208.4 271.1h.9v.9h-.9zM209.7 275.9h.9v.9h-.9zM211.0 267.2h.9v.9h-.9zM211.3 274.5h.9v.9h-.9zM209.6 275.1h.9v.9h-.9zM209.1 273.2h.9v.9h-.9zM210.5 269.1h.9v.9h-.9zM209.4 275.6h.9v.9h-.9zM207.8 273.6h.9v.9h-.9zM211.0 275.1h.9v.9h-.9zM210.2 276.0h.9v.9h-.9zM209.7 275.1h.9v.9h-.9zM208.7 273.5h.9v.9h-.9zM211.3 270.6h.9v.9h-.9zM209.3 270.4h.9v.9h-.9zM209.0 271.9h.9v.9h-.9zM208.3 274.7h.9v.9h-.9zM208.5 275.5h.9v.9h-.9zM211.3 266.8h.9v.9h-.9zM209.3 268.1h.9v.9h-.9zM209.4 275.1h.9v.9h-.9zM209.7 277.5h.9v.9h-.9zM209.6 269.1h.9v.9h-.9zM211.0 271.3h.9v.9h-.9zM209.4 275.0h.9v.9h-.9zM208.6 274.3h.9v.9h-.9zM211.0 269.2h.9v.9h-.9zM207.8 272.8h.9v.9h-.9zM209.3 270.4h.9v.9h-.9zM207.2 276.6h.9v.9h-.9zM209.9 270.3h.9v.9h-.9zM210.1 273.9h.9v.9h-.9zM209.7 270.2h.9v.9h-.9zM209.3 275.4h.9v.9h-.9zM207.7 271.0h.9v.9h-.9zM210.5 279.7h.9v.9h-.9zM210.2 273.8h.9v.9h-.9zM208.4 272.9h.9v.9h-.9zM209.2 275.3h.9v.9h-.9zM209.2 281.1h.9v.9h-.9zM210.8 267.8h.9v.9h-.9zM208.3 274.0h.9v.9h-.9zM210.5 275.2h.9v.9h-.9zM206.7 269.3h.9v.9h-.9zM210.8 275.7h.9v.9h-.9zM212.1 276.3h.9v.9h-.9zM210.0 278.4h.9v.9h-.9zM209.0 272.5h.9v.9h-.9zM208.5 274.7h.9v.9h-.9zM209.9 276.7h.9v.9h-.9zM210.9 275.8h.9v.9h-.9zM210.7 273.3h.9v.9h-.9zM208.5 276.1h.9v.9h-.9zM210.5 277.9h.9v.9h-.9zM209.3 272.7h.9v.9h-.9zM209.1 275.1h.9v.9h-.9zM209.4 273.5h.9v.9h-.9zM209.8 273.2h.9v.9h-.9zM209.8 272.3h.9v.9h-.9zM207.9 273.1h.9v.9h-.9zM211.4 271.7h.9v.9h-.9zM210.4 277.9h.9v.9h-.9zM209.0 274.8h.9v.9h-.9zM207.2 275.7h.9v.9h-.9zM211.0 274.6h.9v.9h-.9zM207.5 272.4h.9v.9h-.9zM208.8 274.4h.9v.9h-.9zM209.8 272.8h.9v.9h-.9zM209.2 271.7h.9v.9h-.9zM210.1 274.6h.9v.9h-.9zM209.8 272.6h.9v.9h-.9zM210.0 273.2h.9v.9h-.9zM209.8 273.6h.9v.9h-.9zM208.8 270.9h.9v.9h-.9zM207.6 270.1h.9v.9h-.9zM210.0 283.4h.9v.9h-.9zM207.9 271.7h.9v.9h-.9zM209.5 284.3h.9v.9h-.9zM209.3 270.7h.9v.9h-.9zM209.9 280.0h.9v.9h-.9zM206.7 270.7h.9v.9h-.9zM210.7 270.7h.9v.9h-.9zM209.4 272.2h.9v.9h-.9zM210.3 269.8h.9v.9h-.9zM209.8 274.7h.9v.9h-.9zM210.1 275.3h.9v.9h-.9zM209.7 268.9h.9v.9h-.9zM209.2 271.3h.9v.9h-.9zM210.0 273.3h.9v.9h-.9zM209.7 277.2h.9v.9h-.9zM209.4 278.9h.9v.9h-.9zM210.3 269.7h.9v.9h-.9zM208.9 277.5h.9v.9h-.9zM209.0 277.5h.9v.9h-.9zM208.9 273.7h.9v.9h-.9zM210.5 269.5h.9v.9h-.9zM209.6 272.7h.9v.9h-.9zM209.7 279.0h.9v.9h-.9zM210.0 270.1h.9v.9h-.9zM210.5 272.7h.9v.9h-.9zM209.7 277.4h.9v.9h-.9zM209.2 276.8h.9v.9h-.9zM209.7 271.4h.9v.9h-.9zM209.2 270.1h.9v.9h-.9zM210.7 274.5h.9v.9h-.9zM210.5 270.8h.9v.9h-.9zM210.3 270.6h.9v.9h-.9zM209.8 274.0h.9v.9h-.9zM208.9 274.9h.9v.9h-.9zM209.5 271.5h.9v.9h-.9zM208.8 270.2h.9v.9h-.9zM210.9 274.4h.9v.9h-.9zM209.1 276.0h.9v.9h-.9zM208.6 270.6h.9v.9h-.9zM209.9 278.6h.9v.9h-.9zM209.8 274.5h.9v.9h-.9zM211.2 269.5h.9v.9h-.9zM212.6 270.8h.9v.9h-.9zM209.4 270.1h.9v.9h-.9zM208.3 273.3h.9v.9h-.9zM211.9 271.3h.9v.9h-.9zM208.9 274.8h.9v.9h-.9zM208.5 273.3h.9v.9h-.9zM210.3 267.7h.9v.9h-.9zM209.2 273.2h.9v.9h-.9zM209.0 273.7h.9v.9h-.9zM207.7 272.7h.9v.9h-.9zM209.0 271.0h.9v.9h-.9zM210.8 279.8h.9v.9h-.9zM210.3 271.5h.9v.9h-.9zM210.9 275.5h.9v.9h-.9zM208.7 275.8h.9v.9h-.9zM208.9 275.7h.9v.9h-.9zM210.4 277.4h.9v.9h-.9zM208.4 273.6h.9v.9h-.9zM209.5 270.5h.9v.9h-.9zM209.9 276.0h.9v.9h-.9zM208.1 272.4h.9v.9h-.9zM208.4 270.3h.9v.9h-.9zM208.4 278.0h.9v.9h-.9zM208.8 272.9h.9v.9h-.9zM210.5 277.0h.9v.9h-.9zM210.9 268.0h.9v.9h-.9zM210.3 268.9h.9v.9h-.9zM208.9 272.8h.9v.9h-.9zM208.9 279.7h.9v.9h-.9zM209.3 277.4h.9v.9h-.9zM209.3 273.8h.9v.9h-.9zM210.0 275.3h.9v.9h-.9zM210.0 269.0h.9v.9h-.9zM210.0 274.9h.9v.9h-.9zM210.1 273.8h.9v.9h-.9zM209.9 270.2h.9v.9h-.9zM210.6 270.5h.9v.9h-.9zM210.9 276.9h.9v.9h-.9zM209.4 273.1h.9v.9h-.9zM210.3 273.1h.9v.9h-.9zM208.3 274.8h.9v.9h-.9zM208.3 272.7h.9v.9h-.9zM211.3 276.4h.9v.9h-.9zM209.0 273.8h.9v.9h-.9zM208.9 274.0h.9v.9h-.9zM208.1 276.0h.9v.9h-.9zM209.5 272.2h.9v.9h-.9zM208.9 281.7h.9v.9h-.9zM209.1 272.6h.9v.9h-.9zM208.9 272.6h.9v.9h-.9zM210.8 276.0h.9v.9h-.9zM209.9 275.1h.9v.9h-.9zM208.4 267.0h.9v.9h-.9zM211.0 276.1h.9v.9h-.9zM209.7 274.8h.9v.9h-.9zM209.7 274.1h.9v.9h-.9zM209.2 267.5h.9v.9h-.9zM210.1 274.1h.9v.9h-.9zM210.5 274.9h.9v.9h-.9zM209.2 275.8h.9v.9h-.9zM209.7 272.7h.9v.9h-.9zM209.1 272.8h.9v.9h-.9zM209.2 272.7h.9v.9h-.9zM229.1 282.5h.9v.9h-.9zM228.2 277.3h.9v.9h-.9zM226.7 264.6h.9v.9h-.9zM227.9 273.5h.9v.9h-.9zM227.7 270.0h.9v.9h-.9zM227.6 272.5h.9v.9h-.9zM228.4 273.0h.9v.9h-.9zM227.3 272.9h.9v.9h-.9zM229.5 271.4h.9v.9h-.9zM228.4 276.9h.9v.9h-.9zM227.7 272.3h.9v.9h-.9zM230.6 277.6h.9v.9h-.9zM227.9 274.5h.9v.9h-.9zM228.4 274.4h.9v.9h-.9zM228.7 273.1h.9v.9h-.9zM226.5 271.2h.9v.9h-.9zM228.4 270.0h.9v.9h-.9zM228.0 278.4h.9v.9h-.9zM228.5 272.1h.9v.9h-.9zM228.4 277.1h.9v.9h-.9zM226.9 270.4h.9v.9h-.9zM227.8 272.7h.9v.9h-.9zM228.2 272.3h.9v.9h-.9zM228.4 274.3h.9v.9h-.9zM227.4 272.2h.9v.9h-.9zM227.3 274.8h.9v.9h-.9zM228.5 275.9h.9v.9h-.9zM227.6 272.4h.9v.9h-.9zM226.5 274.0h.9v.9h-.9zM227.0 275.0h.9v.9h-.9zM229.2 275.3h.9v.9h-.9zM228.8 274.7h.9v.9h-.9zM228.6 276.7h.9v.9h-.9zM229.3 279.9h.9v.9h-.9zM228.1 276.4h.9v.9h-.9zM229.0 275.2h.9v.9h-.9zM228.5 270.3h.9v.9h-.9zM229.2 271.4h.9v.9h-.9zM227.8 271.5h.9v.9h-.9zM228.7 271.2h.9v.9h-.9zM228.7 275.6h.9v.9h-.9zM228.4 273.0h.9v.9h-.9zM228.8 277.8h.9v.9h-.9zM227.9 270.9h.9v.9h-.9zM227.8 271.4h.9v.9h-.9zM228.1 273.5h.9v.9h-.9zM226.5 278.3h.9v.9h-.9zM227.6 272.8h.9v.9h-.9zM226.7 268.3h.9v.9h-.9zM227.5 274.7h.9v.9h-.9zM229.0 268.7h.9v.9h-.9zM228.5 278.4h.9v.9h-.9zM228.1 276.7h.9v.9h-.9zM228.5 271.3h.9v.9h-.9zM229.1 272.2h.9v.9h-.9zM228.6 272.8h.9v.9h-.9zM228.1 274.4h.9v.9h-.9zM229.4 269.1h.9v.9h-.9zM227.4 274.3h.9v.9h-.9zM229.1 273.5h.9v.9h-.9zM228.1 275.5h.9v.9h-.9zM229.6 271.4h.9v.9h-.9zM227.0 273.2h.9v.9h-.9zM228.9 270.2h.9v.9h-.9zM229.2 276.7h.9v.9h-.9zM228.9 271.5h.9v.9h-.9zM227.3 275.9h.9v.9h-.9zM228.5 276.0h.9v.9h-.9zM227.2 265.4h.9v.9h-.9zM229.2 276.9h.9v.9h-.9zM228.1 274.0h.9v.9h-.9zM228.7 276.2h.9v.9h-.9zM228.1 272.5h.9v.9h-.9zM227.5 277.0h.9v.9h-.9zM228.4 264.1h.9v.9h-.9zM228.6 272.3h.9v.9h-.9zM227.3 272.5h.9v.9h-.9zM227.3 272.7h.9v.9h-.9zM227.9 275.5h.9v.9h-.9zM227.5 268.7h.9v.9h-.9zM227.8 270.0h.9v.9h-.9zM228.9 273.4h.9v.9h-.9zM227.0 271.5h.9v.9h-.9zM228.3 273.9h.9v.9h-.9zM226.8 273.6h.9v.9h-.9zM228.5 276.9h.9v.9h-.9zM229.2 273.6h.9v.9h-.9zM227.3 272.9h.9v.9h-.9zM228.8 271.3h.9v.9h-.9zM229.3 271.2h.9v.9h-.9zM227.4 276.4h.9v.9h-.9zM228.2 274.9h.9v.9h-.9zM228.1 274.1h.9v.9h-.9zM227.8 279.5h.9v.9h-.9zM228.8 273.6h.9v.9h-.9zM228.7 276.4h.9v.9h-.9zM227.9 274.5h.9v.9h-.9zM228.5 272.4h.9v.9h-.9zM227.7 273.4h.9v.9h-.9zM228.1 272.8h.9v.9h-.9zM226.7 274.2h.9v.9h-.9zM228.8 274.2h.9v.9h-.9zM229.7 276.5h.9v.9h-.9zM228.0 272.0h.9v.9h-.9zM228.7 272.9h.9v.9h-.9zM227.0 274.3h.9v.9h-.9zM228.1 273.3h.9v.9h-.9zM228.8 274.6h.9v.9h-.9zM229.9 271.8h.9v.9h-.9zM228.2 274.9h.9v.9h-.9zM227.9 272.5h.9v.9h-.9zM229.7 269.8h.9v.9h-.9zM228.6 268.9h.9v.9h-.9zM228.6 268.4h.9v.9h-.9zM227.4 277.3h.9v.9h-.9zM229.5 274.4h.9v.9h-.9zM226.1 276.9h.9v.9h-.9zM228.5 270.8h.9v.9h-.9zM228.0 270.2h.9v.9h-.9zM228.2 273.7h.9v.9h-.9zM228.4 276.3h.9v.9h-.9zM227.8 267.6h.9v.9h-.9zM227.4 270.3h.9v.9h-.9zM228.0 272.7h.9v.9h-.9zM228.3 278.0h.9v.9h-.9zM228.3 270.9h.9v.9h-.9zM228.1 271.5h.9v.9h-.9zM228.1 275.7h.9v.9h-.9zM227.4 276.0h.9v.9h-.9zM229.7 278.4h.9v.9h-.9zM229.6 274.3h.9v.9h-.9zM227.2 279.8h.9v.9h-.9zM228.3 274.7h.9v.9h-.9zM228.0 271.3h.9v.9h-.9zM228.8 270.0h.9v.9h-.9zM227.2 275.6h.9v.9h-.9zM228.0 271.6h.9v.9h-.9zM228.7 278.1h.9v.9h-.9zM228.1 273.6h.9v.9h-.9zM228.7 276.7h.9v.9h-.9zM229.1 276.0h.9v.9h-.9zM227.8 275.5h.9v.9h-.9zM228.3 269.1h.9v.9h-.9zM229.3 275.7h.9v.9h-.9zM229.4 273.8h.9v.9h-.9zM228.9 273.8h.9v.9h-.9zM228.4 276.6h.9v.9h-.9zM228.3 275.8h.9v.9h-.9zM228.3 277.5h.9v.9h-.9zM228.8 269.2h.9v.9h-.9zM229.6 275.3h.9v.9h-.9zM227.9 272.2h.9v.9h-.9zM229.9 274.3h.9v.9h-.9zM228.7 275.7h.9v.9h-.9zM227.8 279.0h.9v.9h-.9zM230.0 271.8h.9v.9h-.9zM229.2 269.3h.9v.9h-.9zM228.0 274.2h.9v.9h-.9zM228.3 275.6h.9v.9h-.9zM228.6 275.1h.9v.9h-.9zM228.2 274.9h.9v.9h-.9zM227.9 279.7h.9v.9h-.9zM228.3 277.6h.9v.9h-.9zM228.4 273.6h.9v.9h-.9zM228.2 270.3h.9v.9h-.9zM230.0 275.2h.9v.9h-.9zM228.4 272.7h.9v.9h-.9zM229.3 273.1h.9v.9h-.9zM227.9 272.4h.9v.9h-.9zM229.5 274.9h.9v.9h-.9z" fill="#000" fill-opacity="0.32" filter="url(#bl2)"/>
</g>
<rect x="168.60" y="227.70" width="69.50" height="52.70" fill="none" stroke="#8c8c8c" stroke-width="1"/>
<rect x="200.00" y="242.40" width="34.90" height="19.60" fill="none" stroke="#858585" stroke-width="0.9"/>
<text x="208.20" y="240.90" font-size="5.6" text-anchor="middle" style="font-weight:normal">NT</text>
<text x="227.00" y="240.90" font-size="5.6" text-anchor="middle" style="font-weight:normal">Tg</text>
<text x="242.20" y="257.55" font-size="10" text-anchor="start">Tosit</text>
<line x1="163.80" y1="286.40" x2="163.80" y2="239.20" stroke="#222" stroke-width="1.3"/>
<line x1="163.10" y1="286.40" x2="218.50" y2="286.40" stroke="#222" stroke-width="1.3"/>
<polygon points="163.8,234.1 166.9,239.4 160.8,239.4" fill="#111"/>
<polygon points="223.4,286.4 218.2,283.4 218.2,289.4" fill="#111"/>
<text x="0.00" y="0" font-size="9.8" text-anchor="middle" transform="translate(157.30 264.20) rotate(-90)">CD19</text>
<text x="192.00" y="298.00" font-size="9.8" text-anchor="middle">CFSE</text>
<text x="297.00" y="163.00" font-size="18.9" text-anchor="start">C</text>
<line x1="330.20" y1="169.80" x2="330.20" y2="281.20" stroke="#000" stroke-width="1"/>
<line x1="329.70" y1="280.70" x2="516.00" y2="280.70" stroke="#000" stroke-width="1"/>
<line x1="327.20" y1="280.70" x2="330.20" y2="280.70" stroke="#000" stroke-width="1"/>
<text x="326.40" y="284.00" font-size="9.7" text-anchor="end">0.0</text>
<line x1="327.20" y1="262.60" x2="330.20" y2="262.60" stroke="#000" stroke-width="1"/>
<text x="326.40" y="265.90" font-size="9.7" text-anchor="end">0.2</text>
<line x1="327.20" y1="244.50" x2="330.20" y2="244.50" stroke="#000" stroke-width="1"/>
<text x="326.40" y="247.80" font-size="9.7" text-anchor="end">0.4</text>
<line x1="327.20" y1="226.40" x2="330.20" y2="226.40" stroke="#000" stroke-width="1"/>
<text x="326.40" y="229.70" font-size="9.7" text-anchor="end">0.6</text>
<line x1="327.20" y1="208.30" x2="330.20" y2="208.30" stroke="#000" stroke-width="1"/>
<text x="326.40" y="211.60" font-size="9.7" text-anchor="end">0.8</text>
<line x1="327.20" y1="190.20" x2="330.20" y2="190.20" stroke="#000" stroke-width="1"/>
<text x="326.40" y="193.50" font-size="9.7" text-anchor="end">1.0</text>
<line x1="327.20" y1="172.10" x2="330.20" y2="172.10" stroke="#000" stroke-width="1"/>
<text x="326.40" y="175.40" font-size="9.7" text-anchor="end">1.2</text>
<text x="0.00" y="0" font-size="9.4" text-anchor="middle" transform="translate(306.50 225.00) rotate(-90) scale(1.09 1)">T:NT ratio</text>
<line x1="337.50" y1="280.70" x2="337.50" y2="283.60" stroke="#000" stroke-width="1"/>
<line x1="337.50" y1="192.19" x2="337.50" y2="188.12" stroke="#000" stroke-width="1.1"/>
<line x1="334.00" y1="188.12" x2="341.00" y2="188.12" stroke="#000" stroke-width="1.2"/>
<rect x="332.00" y="192.19" width="11.40" height="88.51" fill="#000" stroke="#000" stroke-width="1.2"/>
<text x="0.00" y="0" font-size="9.2" text-anchor="end" transform="translate(340.90 292.60) rotate(-45)">Ctl</text>
<line x1="353.23" y1="280.70" x2="353.23" y2="283.60" stroke="#000" stroke-width="1"/>
<rect x="347.13" y="268.94" width="12.20" height="11.76" fill="#5e5e5e" stroke="#000" stroke-width="1.2"/>
<text x="0.00" y="0" font-size="9.2" text-anchor="end" transform="translate(356.63 292.60) rotate(-45)">100</text>
<line x1="368.96" y1="280.70" x2="368.96" y2="283.60" stroke="#000" stroke-width="1"/>
<rect x="362.86" y="262.96" width="12.20" height="17.74" fill="#5e5e5e" stroke="#000" stroke-width="1.2"/>
<text x="0.00" y="0" font-size="9.2" text-anchor="end" transform="translate(372.36 292.60) rotate(-45)">10</text>
<line x1="384.69" y1="280.70" x2="384.69" y2="283.60" stroke="#000" stroke-width="1"/>
<line x1="384.69" y1="255.72" x2="384.69" y2="252.64" stroke="#000" stroke-width="1.1"/>
<line x1="381.19" y1="252.64" x2="388.19" y2="252.64" stroke="#000" stroke-width="1.2"/>
<rect x="378.59" y="255.72" width="12.20" height="24.98" fill="#5e5e5e" stroke="#000" stroke-width="1.2"/>
<text x="0.00" y="0" font-size="9.2" text-anchor="end" transform="translate(388.09 292.60) rotate(-45)">5</text>
<line x1="400.42" y1="280.70" x2="400.42" y2="283.60" stroke="#000" stroke-width="1"/>
<line x1="400.42" y1="241.78" x2="400.42" y2="234.54" stroke="#000" stroke-width="1.1"/>
<line x1="396.92" y1="234.54" x2="403.92" y2="234.54" stroke="#000" stroke-width="1.2"/>
<rect x="394.32" y="241.78" width="12.20" height="38.91" fill="#5e5e5e" stroke="#000" stroke-width="1.2"/>
<text x="0.00" y="0" font-size="9.2" text-anchor="end" transform="translate(403.82 292.60) rotate(-45)">1</text>
<line x1="416.15" y1="280.70" x2="416.15" y2="283.60" stroke="#000" stroke-width="1"/>
<line x1="416.15" y1="192.01" x2="416.15" y2="191.56" stroke="#000" stroke-width="1.1"/>
<line x1="412.65" y1="191.56" x2="419.65" y2="191.56" stroke="#000" stroke-width="1.2"/>
<rect x="410.05" y="192.01" width="12.20" height="88.69" fill="#5e5e5e" stroke="#000" stroke-width="1.2"/>
<text x="0.00" y="0" font-size="9.2" text-anchor="end" transform="translate(419.55 292.60) rotate(-45)">0.2</text>
<line x1="431.88" y1="280.70" x2="431.88" y2="283.60" stroke="#000" stroke-width="1"/>
<line x1="447.61" y1="280.70" x2="447.61" y2="283.60" stroke="#000" stroke-width="1"/>
<rect x="441.51" y="275.54" width="12.20" height="5.16" fill="#fff" stroke="#000" stroke-width="1.2"/>
<text x="0.00" y="0" font-size="9.2" text-anchor="end" transform="translate(451.01 292.60) rotate(-45)">100</text>
<line x1="463.34" y1="280.70" x2="463.34" y2="283.60" stroke="#000" stroke-width="1"/>
<rect x="457.24" y="275.54" width="12.20" height="5.16" fill="#fff" stroke="#000" stroke-width="1.2"/>
<text x="0.00" y="0" font-size="9.2" text-anchor="end" transform="translate(466.74 292.60) rotate(-45)">10</text>
<line x1="479.07" y1="280.70" x2="479.07" y2="283.60" stroke="#000" stroke-width="1"/>
<line x1="479.07" y1="268.03" x2="479.07" y2="266.22" stroke="#000" stroke-width="1.1"/>
<line x1="475.57" y1="266.22" x2="482.57" y2="266.22" stroke="#000" stroke-width="1.2"/>
<rect x="472.97" y="268.03" width="12.20" height="12.67" fill="#fff" stroke="#000" stroke-width="1.2"/>
<text x="0.00" y="0" font-size="9.2" text-anchor="end" transform="translate(482.47 292.60) rotate(-45)">5</text>
<line x1="494.80" y1="280.70" x2="494.80" y2="283.60" stroke="#000" stroke-width="1"/>
<line x1="494.80" y1="258.53" x2="494.80" y2="256.26" stroke="#000" stroke-width="1.1"/>
<line x1="491.30" y1="256.26" x2="498.30" y2="256.26" stroke="#000" stroke-width="1.2"/>
<rect x="488.70" y="258.53" width="12.20" height="22.17" fill="#fff" stroke="#000" stroke-width="1.2"/>
<text x="0.00" y="0" font-size="9.2" text-anchor="end" transform="translate(498.20 292.60) rotate(-45)">1</text>
<line x1="510.53" y1="280.70" x2="510.53" y2="283.60" stroke="#000" stroke-width="1"/>
<line x1="510.53" y1="235.45" x2="510.53" y2="232.28" stroke="#000" stroke-width="1.1"/>
<line x1="507.03" y1="232.28" x2="514.03" y2="232.28" stroke="#000" stroke-width="1.2"/>
<rect x="504.43" y="235.45" width="12.20" height="45.25" fill="#fff" stroke="#000" stroke-width="1.2"/>
<text x="0.00" y="0" font-size="9.2" text-anchor="end" transform="translate(513.93 292.60) rotate(-45)">0.2</text>
<text x="0.00" y="0" font-size="9.6" text-anchor="middle" transform="translate(383.30 183.40) scale(1.08 1)">Rit m2a</text>
<line x1="346.50" y1="185.60" x2="422.00" y2="185.60" stroke="#000" stroke-width="1.2"/>
<text x="0.00" y="0" font-size="9.6" text-anchor="middle" transform="translate(474.00 183.40) scale(1.08 1)">Tosit</text>
<line x1="437.00" y1="185.60" x2="512.00" y2="185.60" stroke="#000" stroke-width="1.2"/>
<text x="422.30" y="314.60" font-size="9.6" text-anchor="middle">mAb (μg)</text>
<text x="96.50" y="349.80" font-size="18.9" text-anchor="start">D</text>
<line x1="127.30" y1="352.80" x2="127.30" y2="459.10" stroke="#000" stroke-width="1"/>
<line x1="126.80" y1="458.60" x2="356.20" y2="458.60" stroke="#000" stroke-width="1"/>
<line x1="124.60" y1="458.60" x2="127.30" y2="458.60" stroke="#000" stroke-width="1"/>
<text x="123.40" y="461.80" font-size="9.0" text-anchor="end">0.0</text>
<line x1="124.60" y1="441.14" x2="127.30" y2="441.14" stroke="#000" stroke-width="1"/>
<text x="123.40" y="444.34" font-size="9.0" text-anchor="end">0.2</text>
<line x1="124.60" y1="423.68" x2="127.30" y2="423.68" stroke="#000" stroke-width="1"/>
<text x="123.40" y="426.88" font-size="9.0" text-anchor="end">0.4</text>
<line x1="124.60" y1="406.22" x2="127.30" y2="406.22" stroke="#000" stroke-width="1"/>
<text x="123.40" y="409.42" font-size="9.0" text-anchor="end">0.6</text>
<line x1="124.60" y1="388.76" x2="127.30" y2="388.76" stroke="#000" stroke-width="1"/>
<text x="123.40" y="391.96" font-size="9.0" text-anchor="end">0.8</text>
<line x1="124.60" y1="371.30" x2="127.30" y2="371.30" stroke="#000" stroke-width="1"/>
<text x="123.40" y="374.50" font-size="9.0" text-anchor="end">1.0</text>
<line x1="124.60" y1="353.84" x2="127.30" y2="353.84" stroke="#000" stroke-width="1"/>
<text x="123.40" y="357.04" font-size="9.0" text-anchor="end">1.2</text>
<text x="0.00" y="0" font-size="9.3" text-anchor="middle" transform="translate(105.70 405.40) rotate(-90) scale(1.09 1)">T:NT ratio</text>
<line x1="138.70" y1="458.60" x2="138.70" y2="461.60" stroke="#000" stroke-width="1"/>
<line x1="132.90" y1="374.79" x2="132.90" y2="368.68" stroke="#000" stroke-width="1.0"/>
<line x1="130.70" y1="368.68" x2="135.10" y2="368.68" stroke="#000" stroke-width="1.1"/>
<rect x="130.00" y="374.79" width="5.80" height="83.81" fill="#000" stroke="#000" stroke-width="1.0"/>
<line x1="138.70" y1="442.01" x2="138.70" y2="440.27" stroke="#000" stroke-width="1.0"/>
<line x1="136.50" y1="440.27" x2="140.90" y2="440.27" stroke="#000" stroke-width="1.1"/>
<rect x="135.80" y="442.01" width="5.80" height="16.59" fill="#5e5e5e" stroke="#000" stroke-width="1.0"/>
<rect x="141.60" y="447.60" width="5.80" height="11.00" fill="#fff" stroke="#000" stroke-width="1.0"/>
<line x1="161.65" y1="458.60" x2="161.65" y2="461.60" stroke="#000" stroke-width="1"/>
<line x1="184.60" y1="458.60" x2="184.60" y2="461.60" stroke="#000" stroke-width="1"/>
<line x1="178.80" y1="359.95" x2="178.80" y2="359.08" stroke="#000" stroke-width="1.0"/>
<line x1="176.60" y1="359.08" x2="181.00" y2="359.08" stroke="#000" stroke-width="1.1"/>
<rect x="175.90" y="359.95" width="5.80" height="98.65" fill="#000" stroke="#000" stroke-width="1.0"/>
<line x1="184.60" y1="444.37" x2="184.60" y2="441.14" stroke="#000" stroke-width="1.0"/>
<line x1="182.40" y1="441.14" x2="186.80" y2="441.14" stroke="#000" stroke-width="1.1"/>
<rect x="181.70" y="444.37" width="5.80" height="14.23" fill="#5e5e5e" stroke="#000" stroke-width="1.0"/>
<rect x="187.50" y="451.35" width="5.80" height="7.25" fill="#fff" stroke="#000" stroke-width="1.0"/>
<line x1="207.55" y1="458.60" x2="207.55" y2="461.60" stroke="#000" stroke-width="1"/>
<line x1="201.75" y1="375.67" x2="201.75" y2="371.30" stroke="#000" stroke-width="1.0"/>
<line x1="199.55" y1="371.30" x2="203.95" y2="371.30" stroke="#000" stroke-width="1.1"/>
<rect x="198.85" y="375.67" width="5.80" height="82.94" fill="#000" stroke="#000" stroke-width="1.0"/>
<line x1="207.55" y1="443.41" x2="207.55" y2="440.27" stroke="#000" stroke-width="1.0"/>
<line x1="205.35" y1="440.27" x2="209.75" y2="440.27" stroke="#000" stroke-width="1.1"/>
<rect x="204.65" y="443.41" width="5.80" height="15.19" fill="#5e5e5e" stroke="#000" stroke-width="1.0"/>
<line x1="213.35" y1="446.12" x2="213.35" y2="442.27" stroke="#000" stroke-width="1.0"/>
<line x1="211.15" y1="442.27" x2="215.55" y2="442.27" stroke="#000" stroke-width="1.1"/>
<rect x="210.45" y="446.12" width="5.80" height="12.48" fill="#fff" stroke="#000" stroke-width="1.0"/>
<line x1="230.50" y1="458.60" x2="230.50" y2="461.60" stroke="#000" stroke-width="1"/>
<line x1="253.45" y1="458.60" x2="253.45" y2="461.60" stroke="#000" stroke-width="1"/>
<line x1="247.65" y1="375.67" x2="247.65" y2="362.57" stroke="#000" stroke-width="1.0"/>
<line x1="245.45" y1="362.57" x2="249.85" y2="362.57" stroke="#000" stroke-width="1.1"/>
<rect x="244.75" y="375.67" width="5.80" height="82.94" fill="#000" stroke="#000" stroke-width="1.0"/>
<line x1="253.45" y1="441.14" x2="253.45" y2="439.39" stroke="#000" stroke-width="1.0"/>
<line x1="251.25" y1="439.39" x2="255.65" y2="439.39" stroke="#000" stroke-width="1.1"/>
<rect x="250.55" y="441.14" width="5.80" height="17.46" fill="#5e5e5e" stroke="#000" stroke-width="1.0"/>
<rect x="256.35" y="451.27" width="5.80" height="7.33" fill="#fff" stroke="#000" stroke-width="1.0"/>
<line x1="276.40" y1="458.60" x2="276.40" y2="461.60" stroke="#000" stroke-width="1"/>
<line x1="299.35" y1="458.60" x2="299.35" y2="461.60" stroke="#000" stroke-width="1"/>
<line x1="293.55" y1="385.70" x2="293.55" y2="380.20" stroke="#000" stroke-width="1.0"/>
<line x1="291.35" y1="380.20" x2="295.75" y2="380.20" stroke="#000" stroke-width="1.1"/>
<rect x="290.65" y="385.70" width="5.80" height="72.90" fill="#000" stroke="#000" stroke-width="1.0"/>
<line x1="299.35" y1="380.47" x2="299.35" y2="376.97" stroke="#000" stroke-width="1.0"/>
<line x1="297.15" y1="376.97" x2="301.55" y2="376.97" stroke="#000" stroke-width="1.1"/>
<rect x="296.45" y="380.47" width="5.80" height="78.13" fill="#5e5e5e" stroke="#000" stroke-width="1.0"/>
<line x1="305.15" y1="383.96" x2="305.15" y2="376.71" stroke="#000" stroke-width="1.0"/>
<line x1="302.95" y1="376.71" x2="307.35" y2="376.71" stroke="#000" stroke-width="1.1"/>
<rect x="302.25" y="383.96" width="5.80" height="74.64" fill="#fff" stroke="#000" stroke-width="1.0"/>
<line x1="322.30" y1="458.60" x2="322.30" y2="461.60" stroke="#000" stroke-width="1"/>
<rect x="313.60" y="370.69" width="5.80" height="87.91" fill="#000" stroke="#000" stroke-width="1.0"/>
<line x1="322.30" y1="371.30" x2="322.30" y2="368.42" stroke="#000" stroke-width="1.0"/>
<line x1="320.10" y1="368.42" x2="324.50" y2="368.42" stroke="#000" stroke-width="1.1"/>
<rect x="319.40" y="371.30" width="5.80" height="87.30" fill="#5e5e5e" stroke="#000" stroke-width="1.0"/>
<line x1="328.10" y1="380.20" x2="328.10" y2="377.59" stroke="#000" stroke-width="1.0"/>
<line x1="325.90" y1="377.59" x2="330.30" y2="377.59" stroke="#000" stroke-width="1.1"/>
<rect x="325.20" y="380.20" width="5.80" height="78.40" fill="#fff" stroke="#000" stroke-width="1.0"/>
<line x1="345.25" y1="458.60" x2="345.25" y2="461.60" stroke="#000" stroke-width="1"/>
<line x1="339.45" y1="385.44" x2="339.45" y2="382.04" stroke="#000" stroke-width="1.0"/>
<line x1="337.25" y1="382.04" x2="341.65" y2="382.04" stroke="#000" stroke-width="1.1"/>
<rect x="336.55" y="385.44" width="5.80" height="73.16" fill="#000" stroke="#000" stroke-width="1.0"/>
<line x1="345.25" y1="379.33" x2="345.25" y2="371.47" stroke="#000" stroke-width="1.0"/>
<line x1="343.05" y1="371.47" x2="347.45" y2="371.47" stroke="#000" stroke-width="1.1"/>
<rect x="342.35" y="379.33" width="5.80" height="79.27" fill="#5e5e5e" stroke="#000" stroke-width="1.0"/>
<line x1="351.05" y1="381.43" x2="351.05" y2="378.55" stroke="#000" stroke-width="1.0"/>
<line x1="348.85" y1="378.55" x2="353.25" y2="378.55" stroke="#000" stroke-width="1.1"/>
<rect x="348.15" y="381.43" width="5.80" height="77.17" fill="#fff" stroke="#000" stroke-width="1.0"/>
<text x="139.30" y="343.80" font-size="9.8" text-anchor="middle">Ctl</text>
<line x1="130.00" y1="353.00" x2="148.90" y2="353.00" stroke="#000" stroke-width="1.2"/>
<text x="195.10" y="343.80" font-size="9.8" text-anchor="middle">CDC</text>
<line x1="174.50" y1="353.20" x2="215.80" y2="353.20" stroke="#000" stroke-width="1.2"/>
<text x="254.60" y="343.80" font-size="9.8" text-anchor="middle">PCD</text>
<line x1="243.00" y1="354.00" x2="263.80" y2="354.00" stroke="#000" stroke-width="1.2"/>
<text x="318.60" y="343.80" font-size="9.8" text-anchor="middle">Fc:FcγR</text>
<line x1="291.20" y1="355.00" x2="351.80" y2="355.00" stroke="#000" stroke-width="1.2"/>
<text x="139.20" y="472.00" font-size="9.0" text-anchor="middle">WT</text>
<text x="183.40" y="472.00" font-size="9.0" text-anchor="middle">C1q</text>
<text x="208.60" y="472.00" font-size="9.0" text-anchor="middle">C3</text>
<text x="254.50" y="472.00" font-size="9.0" text-anchor="middle">WT</text>
<text x="320.20" y="472.00" font-size="9.0" text-anchor="middle">Clod</text>
<text x="299.60" y="472.00" font-size="9.0" text-anchor="middle" style="font-weight:normal">γ</text>
<text x="335.2" y="471.6" font-size="8.8">F(ab')<tspan font-size="6.5" dy="2.2">2</tspan></text>
<text x="183.00" y="483.00" font-size="8.8" text-anchor="middle" style="font-weight:normal">-/-</text>
<text x="208.40" y="483.00" font-size="8.8" text-anchor="middle" style="font-weight:normal">-/-</text>
<text x="299.50" y="483.00" font-size="8.8" text-anchor="middle" style="font-weight:normal">-/-</text>
<text x="369.30" y="471.30" font-size="9.0" text-anchor="start">Recipients</text>
<text x="369.30" y="492.00" font-size="9.0" text-anchor="start">Donors</text>
<line x1="129.20" y1="488.80" x2="217.50" y2="488.80" stroke="#000" stroke-width="1.2"/>
<line x1="293.20" y1="489.20" x2="351.00" y2="489.20" stroke="#000" stroke-width="1.2"/>
<text x="174.20" y="498.80" font-size="9.2" text-anchor="middle">WT</text>
<text x="323.30" y="498.80" font-size="9.2" text-anchor="middle">WT</text>
<text x="254.50" y="491.00" font-size="9.2" text-anchor="middle">Vav-Bcl-2</text>
<text x="254.50" y="503.20" font-size="9.2" text-anchor="middle">Tg</text>
<rect x="363.00" y="387.00" width="12.80" height="6.20" fill="#000" stroke="#000" stroke-width="1.1"/>
<text x="383.20" y="393.10" font-size="8.5" text-anchor="start">Control</text>
<rect x="363.00" y="397.00" width="12.80" height="6.20" fill="#5e5e5e" stroke="#000" stroke-width="1.1"/>
<text x="383.20" y="403.10" font-size="8.5" text-anchor="start">Rit m2a</text>
<rect x="363.00" y="407.00" width="12.80" height="6.20" fill="#fff" stroke="#000" stroke-width="1.1"/>
<text x="383.20" y="413.10" font-size="8.5" text-anchor="start">Tosit</text>
<text x="96.50" y="537.80" font-size="18.9" text-anchor="start">E</text>
<line x1="161.25" y1="525.50" x2="161.25" y2="633.50" stroke="#000" stroke-width="1"/>
<line x1="160.75" y1="633.00" x2="317.50" y2="633.00" stroke="#000" stroke-width="1"/>
<line x1="158.60" y1="633.00" x2="161.25" y2="633.00" stroke="#000" stroke-width="1"/>
<text x="159.40" y="636.30" font-size="9.6" text-anchor="end">0.0</text>
<line x1="158.60" y1="616.45" x2="161.25" y2="616.45" stroke="#000" stroke-width="1"/>
<text x="159.40" y="619.75" font-size="9.6" text-anchor="end">0.2</text>
<line x1="158.60" y1="599.90" x2="161.25" y2="599.90" stroke="#000" stroke-width="1"/>
<text x="159.40" y="603.20" font-size="9.6" text-anchor="end">0.4</text>
<line x1="158.60" y1="583.35" x2="161.25" y2="583.35" stroke="#000" stroke-width="1"/>
<text x="159.40" y="586.65" font-size="9.6" text-anchor="end">0.6</text>
<line x1="158.60" y1="566.80" x2="161.25" y2="566.80" stroke="#000" stroke-width="1"/>
<text x="159.40" y="570.10" font-size="9.6" text-anchor="end">0.8</text>
<line x1="158.60" y1="550.25" x2="161.25" y2="550.25" stroke="#000" stroke-width="1"/>
<text x="159.40" y="553.55" font-size="9.6" text-anchor="end">1.0</text>
<line x1="158.60" y1="533.70" x2="161.25" y2="533.70" stroke="#000" stroke-width="1"/>
<text x="159.40" y="537.00" font-size="9.6" text-anchor="end">1.2</text>
<text x="0.00" y="0" font-size="9.7" text-anchor="middle" transform="translate(141.40 577.90) rotate(-90) scale(1.09 1)">T:NT ratio</text>
<line x1="187.00" y1="633.00" x2="187.00" y2="636.00" stroke="#000" stroke-width="1"/>
<line x1="178.40" y1="548.76" x2="178.40" y2="540.49" stroke="#000" stroke-width="1.1"/>
<line x1="174.10" y1="540.49" x2="182.70" y2="540.49" stroke="#000" stroke-width="1.2"/>
<rect x="169.80" y="548.76" width="17.20" height="84.24" fill="#000" stroke="#000" stroke-width="1.2"/>
<line x1="195.60" y1="538.75" x2="195.60" y2="527.00" stroke="#000" stroke-width="1.1"/>
<line x1="191.30" y1="527.00" x2="199.90" y2="527.00" stroke="#000" stroke-width="1.2"/>
<rect x="187.00" y="538.75" width="17.20" height="94.25" fill="#fff" stroke="#000" stroke-width="1.2"/>
<line x1="238.75" y1="633.00" x2="238.75" y2="636.00" stroke="#000" stroke-width="1"/>
<line x1="230.15" y1="611.98" x2="230.15" y2="608.75" stroke="#000" stroke-width="1.1"/>
<line x1="225.85" y1="608.75" x2="234.45" y2="608.75" stroke="#000" stroke-width="1.2"/>
<rect x="221.55" y="611.98" width="17.20" height="21.02" fill="#000" stroke="#000" stroke-width="1.2"/>
<line x1="247.35" y1="602.47" x2="247.35" y2="595.76" stroke="#000" stroke-width="1.1"/>
<line x1="243.05" y1="595.76" x2="251.65" y2="595.76" stroke="#000" stroke-width="1.2"/>
<rect x="238.75" y="602.47" width="17.20" height="30.53" fill="#fff" stroke="#000" stroke-width="1.2"/>
<line x1="290.60" y1="633.00" x2="290.60" y2="636.00" stroke="#000" stroke-width="1"/>
<line x1="282.00" y1="627.54" x2="282.00" y2="622.99" stroke="#000" stroke-width="1.1"/>
<line x1="277.70" y1="622.99" x2="286.30" y2="622.99" stroke="#000" stroke-width="1.2"/>
<rect x="273.40" y="627.54" width="17.20" height="5.46" fill="#000" stroke="#000" stroke-width="1.2"/>
<rect x="290.60" y="622.49" width="17.20" height="10.51" fill="#fff" stroke="#000" stroke-width="1.2"/>
<text x="187.50" y="644.60" font-size="9.4" text-anchor="middle">Control</text>
<text x="239.00" y="644.60" font-size="9.4" text-anchor="middle">Rit m2a</text>
<text x="291.20" y="644.60" font-size="9.4" text-anchor="middle">Tosit</text>
<rect x="321.60" y="554.20" width="9.00" height="7.20" fill="#000" stroke="#000" stroke-width="1.1"/>
<rect x="321.60" y="568.10" width="9.00" height="7.20" fill="#fff" stroke="#000" stroke-width="1.1"/>
<text x="336.00" y="561.00" font-size="9.2" text-anchor="start">WT</text>
<text x="336.00" y="574.90" font-size="9.2" text-anchor="start">CD64 -/-</text>
</svg>
</body></html>
